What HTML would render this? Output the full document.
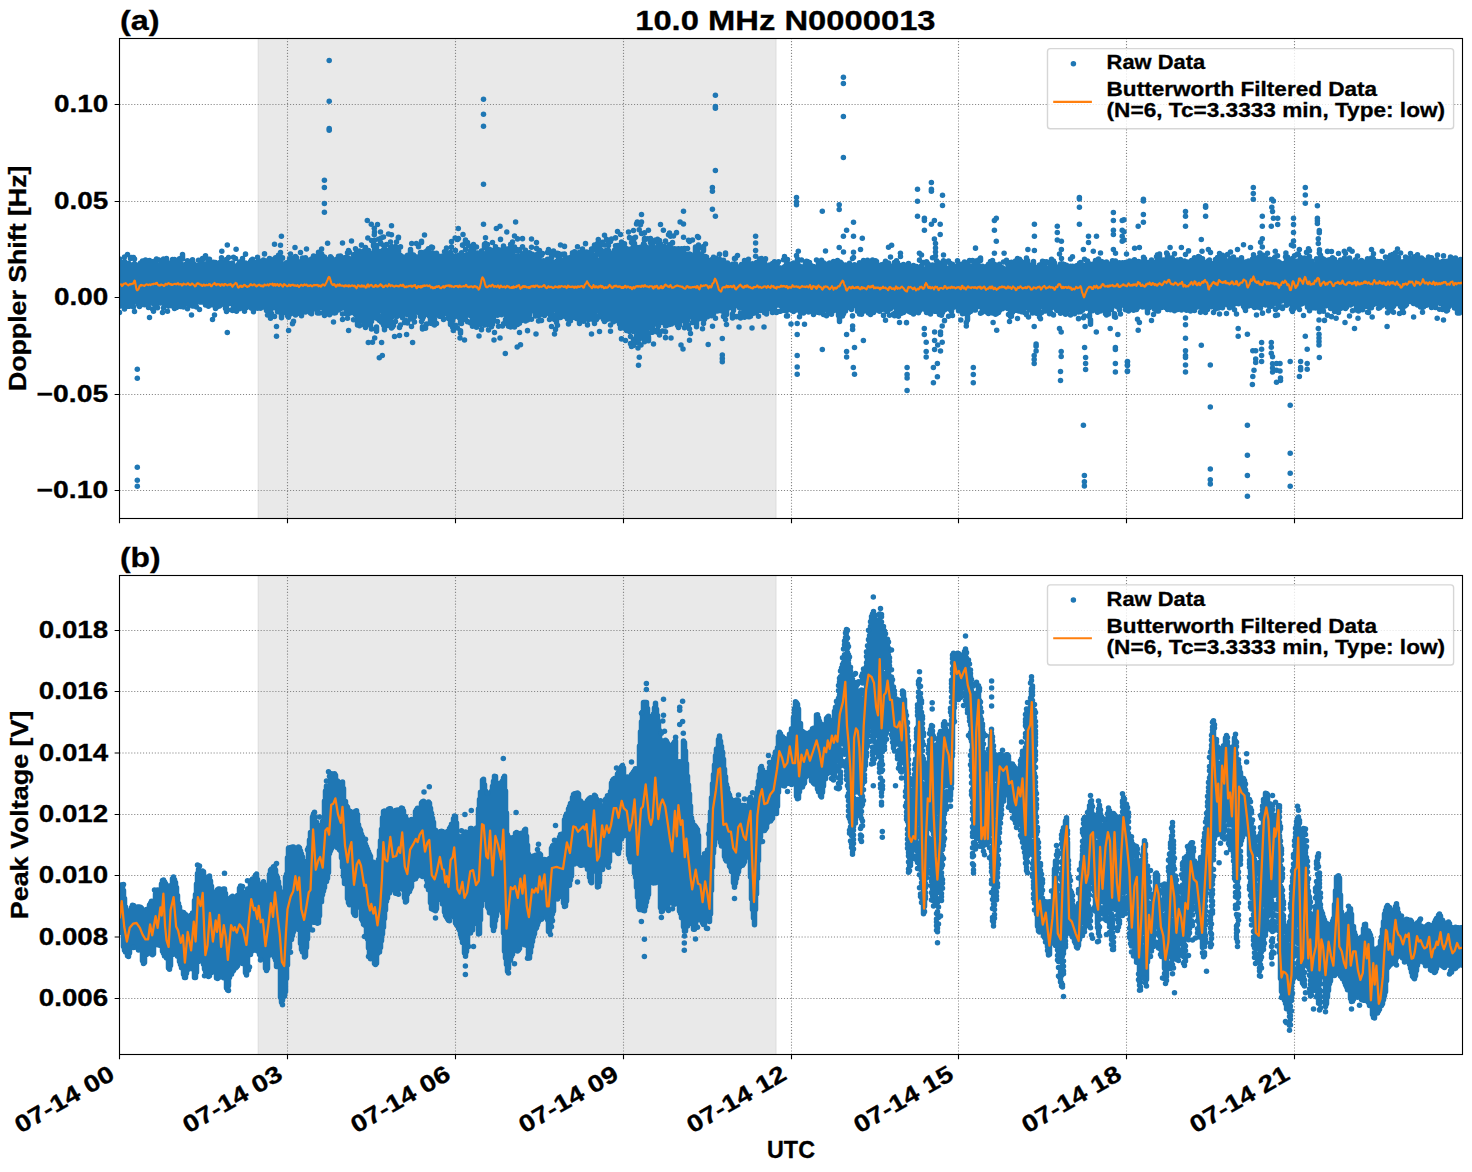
<!DOCTYPE html>
<html><head><meta charset="utf-8"><title>10.0 MHz N0000013</title>
<style>html,body{margin:0;padding:0;background:#fff}body{width:1472px;height:1172px;overflow:hidden}svg{display:block}text{font-family:"Liberation Sans",sans-serif;font-weight:bold;fill:#000;stroke:#000;stroke-width:0.3px}</style>
</head><body>
<svg width="1472" height="1172" viewBox="0 0 1472 1172">
<rect width="1472" height="1172" fill="#fff"/>
<defs><clipPath id="ca"><rect x="119.50" y="38.50" width="1343.00" height="480.00"/></clipPath><clipPath id="cb"><rect x="119.50" y="575.50" width="1343.00" height="479.00"/></clipPath></defs>
<rect x="119.50" y="38.50" width="1343.00" height="480.00" fill="#fff"/>
<rect x="258.30" y="38.50" width="517.60" height="480.00" fill="#e9e9e9"/>
<path d="M258.30 38.50V518.50M775.90 38.50V518.50" stroke="#dfdfdf" stroke-width="1.2" fill="none"/>
<path d="M287.50 518.50V38.50M455.50 518.50V38.50M623.50 518.50V38.50M791.50 518.50V38.50M958.50 518.50V38.50M1126.50 518.50V38.50M1294.50 518.50V38.50M119.50 104.50H1462.50M119.50 201.50H1462.50M119.50 297.50H1462.50M119.50 394.50H1462.50M119.50 490.50H1462.50" stroke="#868686" stroke-width="1.11" stroke-dasharray="1.11 1.83" fill="none"/>
<g clip-path="url(#ca)">
<path d="M119.5 259.0V269.6M119.5 274.7V301.6M119.5 312.5V312.6M120.5 263.9V306.0M121.5 265.6V265.6M121.5 270.7V305.2M122.5 265.2V299.1M122.5 303.7V303.8M123.5 264.3V300.5M124.5 257.0V257.0M124.5 261.5V261.5M124.5 270.3V299.1M124.5 304.1V304.2M124.5 309.1V309.1M125.5 266.1V301.5M126.5 263.9V264.0M126.5 270.3V299.4M126.5 306.3V306.4M127.5 254.5V254.6M127.5 264.4V264.5M127.5 269.0V300.7M128.5 263.2V298.3M128.5 304.8V306.2M129.5 265.0V265.7M129.5 271.3V299.3M129.5 304.2V306.2M130.5 258.4V258.5M130.5 268.0V302.1M131.5 257.6V257.6M131.5 267.8V302.8M132.5 264.7V297.1M133.5 257.6V257.7M133.5 270.2V302.2M133.5 306.9V306.9M134.5 258.9V258.9M134.5 263.8V266.7M134.5 271.6V302.2M134.5 311.5V311.5M135.5 264.8V296.8M136.5 265.1V265.9M136.5 270.7V301.2M137.5 269.7V301.8M138.5 265.6V298.5M138.5 304.2V304.6M139.5 269.5V301.1M139.5 306.5V306.6M140.5 262.9V265.5M140.5 270.8V296.3M140.5 305.2V305.2M141.5 267.3V298.4M142.5 261.0V261.1M142.5 267.5V269.0M142.5 275.2V301.2M143.5 270.1V301.1M144.5 261.8V304.8M145.5 259.9V304.1M146.5 270.2V304.4M147.5 266.7V302.7M148.5 266.1V301.3M148.5 307.5V307.6M149.5 260.5V263.5M149.5 268.8V298.4M149.5 317.5V317.5M150.5 265.7V265.8M150.5 272.0V303.1M151.5 262.1V268.4M151.5 273.5V301.1M152.5 262.3V262.4M152.5 272.2V303.2M152.5 309.0V309.1M153.5 261.4V261.4M153.5 266.6V301.3M153.5 311.1V311.2M154.5 263.1V301.4M155.5 261.4V264.0M155.5 271.6V298.4M155.5 305.5V305.5M156.5 259.1V259.1M156.5 264.6V305.0M157.5 266.3V296.2M157.5 301.6V302.6M157.5 307.8V307.8M158.5 259.8V259.8M158.5 268.2V302.5M159.5 265.3V300.4M160.5 267.0V303.1M161.5 263.0V299.9M162.5 265.0V302.7M162.5 312.5V312.6M163.5 259.0V259.0M163.5 269.0V301.4M163.5 308.1V308.1M164.5 266.7V303.0M165.5 259.3V304.9M166.5 258.6V261.2M166.5 267.0V301.0M167.5 262.6V262.7M167.5 268.3V304.5M167.5 311.2V311.2M168.5 268.9V269.5M168.5 274.3V300.0M168.5 305.8V305.9M169.5 264.3V299.7M170.5 267.0V301.3M171.5 269.5V305.8M172.5 259.6V297.0M172.5 303.2V303.3M173.5 263.7V304.0M174.5 259.4V302.3M174.5 308.6V308.6M175.5 268.6V300.5M176.5 260.8V262.3M176.5 269.1V302.3M176.5 307.4V307.4M177.5 260.6V297.5M178.5 269.5V295.2M178.5 300.5V300.6M178.5 305.6V305.7M179.5 258.7V258.8M179.5 265.7V296.4M179.5 302.2V305.5M180.5 263.4V263.5M180.5 271.4V299.3M180.5 304.1V306.4M181.5 264.5V264.6M181.5 271.0V298.1M182.5 254.6V259.0M182.5 264.8V299.8M182.5 304.9V304.9M183.5 269.3V306.9M184.5 268.3V302.1M185.5 264.4V301.4M186.5 266.4V299.1M187.5 260.7V302.5M187.5 308.7V308.8M188.5 269.5V304.0M189.5 267.7V303.3M190.5 264.6V299.7M190.5 305.1V305.1M191.5 269.2V302.5M191.5 315.0V315.1M192.5 259.7V261.1M192.5 265.9V305.9M193.5 263.4V304.7M194.5 267.4V306.1M195.5 265.4V265.4M195.5 271.9V299.2M195.5 304.5V304.5M196.5 265.4V301.2M196.5 307.0V307.0M197.5 270.3V300.2M198.5 260.2V260.2M198.5 270.1V300.8M199.5 265.6V301.9M199.5 309.5V309.6M200.5 261.8V263.1M200.5 268.0V268.0M200.5 273.8V302.1M201.5 259.9V263.3M201.5 271.1V301.9M202.5 258.6V258.6M202.5 264.1V299.1M203.5 258.8V258.8M203.5 265.8V302.2M204.5 267.5V299.7M205.5 255.7V255.7M205.5 263.9V264.0M205.5 270.1V305.0M206.5 266.4V303.5M207.5 264.9V302.2M208.5 259.2V266.1M208.5 270.6V298.1M208.5 306.3V306.3M209.5 259.2V259.3M209.5 268.1V303.8M210.5 264.6V305.1M211.5 262.8V302.4M212.5 263.3V299.7M212.5 304.7V304.7M212.5 319.5V319.6M213.5 262.2V300.3M214.5 268.4V304.6M214.5 314.9V314.9M215.5 262.6V262.7M215.5 270.3V300.0M215.5 304.8V308.5M216.5 264.2V304.5M217.5 267.5V306.7M218.5 266.2V266.2M218.5 271.3V303.0M219.5 264.3V298.9M219.5 305.9V306.0M220.5 262.1V302.4M221.5 257.8V257.9M221.5 266.4V303.6M222.5 262.5V262.5M222.5 268.1V303.4M223.5 262.7V302.5M224.5 263.1V297.4M224.5 304.9V305.0M225.5 271.8V308.4M226.5 259.4V259.5M226.5 267.6V302.0M226.5 306.9V311.5M227.5 269.2V301.2M228.5 257.5V257.5M228.5 263.0V263.0M228.5 267.6V299.7M229.5 264.5V303.6M230.5 267.6V300.8M231.5 267.6V303.2M231.5 310.0V310.0M232.5 263.0V263.0M232.5 269.1V299.9M232.5 310.4V310.5M233.5 257.2V257.3M233.5 266.6V300.4M233.5 305.0V306.8M234.5 267.7V304.0M235.5 258.4V258.4M235.5 267.9V303.0M235.5 308.4V308.5M236.5 266.1V268.1M236.5 273.9V304.3M236.5 311.3V311.3M237.5 267.5V304.6M238.5 264.3V296.7M238.5 301.6V304.2M239.5 261.9V303.7M239.5 308.8V308.8M240.5 268.5V301.3M241.5 263.0V263.1M241.5 269.1V306.2M242.5 258.6V258.7M242.5 267.4V298.6M243.5 268.2V301.7M244.5 265.7V311.2M245.5 254.1V254.2M245.5 263.1V307.5M246.5 264.1V299.3M246.5 307.4V307.4M247.5 270.5V306.7M248.5 264.0V264.0M248.5 269.2V302.2M249.5 264.8V298.1M250.5 261.6V261.7M250.5 267.6V305.6M251.5 259.9V259.9M251.5 265.7V303.5M251.5 308.2V308.2M252.5 259.3V259.3M252.5 265.5V308.5M253.5 262.1V306.2M253.5 311.7V311.8M254.5 267.2V308.4M255.5 267.1V302.0M256.5 262.9V302.6M257.5 257.2V257.2M257.5 261.8V295.9M257.5 300.7V301.0M257.5 308.3V308.3M258.5 262.5V303.8M259.5 261.1V264.9M259.5 269.5V305.4M260.5 263.6V266.8M260.5 272.3V302.7M260.5 308.2V308.2M261.5 264.3V306.4M262.5 270.2V305.4M263.5 259.9V306.9M264.5 253.8V253.9M264.5 262.7V299.5M265.5 260.7V262.6M265.5 267.5V303.2M266.5 269.7V310.5M267.5 264.6V306.9M267.5 315.1V315.1M268.5 261.7V261.7M268.5 266.4V299.9M268.5 304.9V310.8M269.5 258.5V303.7M270.5 259.1V259.2M270.5 266.6V305.6M270.5 318.2V318.3M271.5 267.2V267.3M271.5 273.2V308.5M271.5 313.4V314.3M272.5 262.0V302.2M273.5 262.5V296.6M273.5 302.1V307.7M274.5 244.3V244.3M274.5 263.6V265.5M274.5 273.1V307.3M274.5 316.4V316.5M275.5 257.7V264.8M275.5 269.9V307.5M276.5 262.5V306.6M277.5 261.7V311.8M278.5 255.3V255.4M278.5 268.0V301.7M278.5 307.3V307.3M279.5 261.7V303.8M279.5 310.6V311.7M280.5 245.3V245.3M280.5 252.6V252.7M280.5 259.1V312.6M281.5 263.3V307.7M281.5 314.9V317.8M282.5 257.8V258.3M282.5 268.1V297.7M282.5 303.7V308.3M282.5 313.1V313.1M283.5 264.0V303.5M284.5 266.2V267.6M284.5 273.0V306.4M285.5 264.6V305.9M286.5 262.8V309.4M287.5 264.2V301.7M287.5 308.5V315.8M288.5 271.5V305.5M288.5 314.6V317.3M289.5 258.7V258.8M289.5 265.1V308.4M290.5 254.0V254.0M290.5 265.4V300.7M290.5 305.7V313.9M291.5 258.4V263.6M291.5 268.1V309.5M292.5 265.8V305.9M292.5 310.7V312.7M292.5 323.6V323.7M293.5 264.8V300.4M293.5 321.3V321.4M294.5 261.9V261.9M294.5 267.3V308.7M295.5 256.4V256.4M295.5 261.5V306.7M295.5 313.0V315.0M296.5 257.7V257.7M296.5 265.9V301.1M296.5 307.9V313.4M297.5 261.6V261.6M297.5 268.4V306.6M298.5 261.7V309.7M299.5 265.9V306.5M299.5 313.1V313.4M300.5 252.4V252.4M300.5 262.2V264.2M300.5 269.8V302.3M300.5 307.5V307.5M301.5 262.1V305.2M301.5 312.8V315.8M302.5 258.0V262.9M302.5 269.0V309.9M303.5 260.4V306.5M303.5 311.7V311.7M304.5 265.4V301.9M304.5 307.8V311.3M305.5 257.7V257.7M305.5 263.2V302.2M305.5 312.0V312.1M306.5 249.0V249.1M306.5 261.9V303.3M307.5 260.7V307.0M308.5 262.5V262.6M308.5 267.7V305.0M309.5 259.9V266.5M309.5 272.0V296.7M309.5 301.6V308.6M310.5 268.0V313.1M311.5 258.9V258.9M311.5 265.5V302.8M311.5 307.6V313.7M312.5 265.4V309.1M313.5 256.1V257.3M313.5 266.3V306.1M314.5 261.5V261.5M314.5 269.7V308.7M315.5 256.6V256.6M315.5 261.8V295.3M315.5 305.2V307.4M316.5 269.1V305.3M317.5 269.7V312.9M318.5 252.2V252.3M318.5 257.6V257.7M318.5 263.9V303.2M319.5 255.3V255.4M319.5 262.0V304.4M319.5 312.9V312.9M320.5 259.6V265.7M320.5 271.3V304.7M321.5 253.7V254.0M321.5 262.1V262.2M321.5 266.9V307.6M322.5 255.7V255.8M322.5 261.0V302.6M322.5 308.0V308.0M323.5 266.4V303.7M323.5 308.3V308.5M323.5 313.1V313.1M324.5 257.1V315.5M325.5 263.7V313.7M326.5 265.1V304.9M327.5 263.3V305.3M327.5 312.8V312.8M328.5 259.4V260.2M328.5 266.8V267.9M328.5 272.8V303.5M329.5 258.8V302.5M329.5 314.7V314.8M330.5 256.7V256.8M330.5 269.4V313.4M331.5 257.9V257.9M331.5 263.8V265.1M331.5 269.7V304.6M331.5 311.6V311.7M332.5 260.3V263.2M332.5 268.6V303.9M332.5 309.5V312.4M333.5 262.3V302.4M333.5 322.0V322.1M334.5 262.2V307.9M334.5 312.9V312.9M335.5 262.1V303.7M335.5 309.2V312.7M336.5 259.2V259.2M336.5 264.8V306.4M337.5 262.0V307.0M338.5 256.2V256.2M338.5 267.1V299.8M338.5 305.1V310.0M339.5 262.0V262.0M339.5 267.8V303.8M340.5 256.0V256.1M340.5 261.3V261.3M340.5 266.1V303.6M340.5 308.5V308.5M341.5 265.0V307.4M342.5 243.0V243.0M342.5 257.8V308.0M342.5 313.9V314.0M342.5 319.4V319.5M343.5 262.1V306.6M344.5 258.5V258.5M344.5 264.6V307.2M345.5 257.5V257.5M345.5 268.3V305.1M346.5 264.0V306.1M346.5 311.8V313.7M347.5 252.8V252.9M347.5 260.5V302.3M347.5 309.8V311.7M347.5 318.2V318.2M348.5 250.5V250.5M348.5 257.9V259.5M348.5 264.8V302.6M348.5 313.6V313.7M349.5 252.3V252.3M349.5 261.6V264.4M349.5 269.4V305.5M350.5 260.4V267.4M350.5 273.1V302.6M350.5 310.1V310.4M351.5 241.0V241.1M351.5 262.4V306.0M351.5 311.2V312.4M352.5 258.8V305.6M352.5 310.2V310.8M353.5 254.8V254.8M353.5 264.9V308.4M353.5 319.7V319.8M354.5 260.7V306.9M354.5 311.6V313.0M355.5 248.7V248.7M355.5 256.5V256.5M355.5 262.6V314.4M356.5 251.0V251.0M356.5 262.4V309.8M357.5 252.1V252.2M357.5 261.6V312.2M357.5 317.9V325.0M358.5 254.3V254.6M358.5 260.8V309.1M358.5 318.1V318.2M359.5 251.1V251.1M359.5 259.1V259.2M359.5 265.0V309.0M359.5 325.6V325.7M360.5 255.8V255.8M360.5 261.5V315.5M361.5 245.1V245.2M361.5 259.7V307.5M361.5 317.4V320.4M362.5 253.1V312.4M363.5 253.2V260.0M363.5 265.0V309.7M363.5 315.2V321.6M364.5 250.3V250.3M364.5 256.4V309.0M364.5 318.7V318.7M364.5 325.2V325.2M365.5 247.6V247.6M365.5 253.5V253.6M365.5 261.2V283.2M365.5 288.1V314.4M365.5 322.1V327.6M366.5 253.9V258.3M366.5 263.0V263.1M366.5 268.2V312.2M367.5 257.1V320.0M368.5 250.4V262.9M368.5 268.3V322.0M369.5 256.8V261.2M369.5 265.8V307.7M369.5 313.8V314.2M370.5 254.8V303.9M370.5 309.7V315.3M370.5 325.4V325.4M371.5 240.5V240.6M371.5 253.4V309.8M371.5 315.0V315.0M371.5 321.6V321.6M371.5 328.8V328.9M372.5 253.4V253.5M372.5 261.1V308.4M372.5 313.0V318.4M372.5 342.3V342.3M373.5 244.5V246.0M373.5 252.7V256.8M373.5 264.2V313.5M374.5 232.1V232.1M374.5 240.3V240.3M374.5 249.3V260.9M374.5 265.9V312.0M375.5 249.8V249.9M375.5 257.6V313.1M376.5 245.6V248.4M376.5 258.3V316.2M376.5 327.1V331.2M377.5 224.5V224.6M377.5 261.1V293.7M377.5 298.5V304.7M377.5 309.2V318.8M378.5 239.2V239.2M378.5 254.3V307.8M378.5 316.1V316.1M379.5 253.6V255.2M379.5 262.4V310.4M379.5 320.3V320.4M380.5 232.1V232.1M380.5 242.5V243.7M380.5 251.5V264.0M380.5 269.4V302.6M380.5 308.7V310.9M380.5 317.8V317.9M381.5 253.3V308.1M381.5 322.3V322.3M382.5 252.6V310.5M383.5 237.1V237.1M383.5 245.3V245.3M383.5 249.9V250.0M383.5 263.7V305.5M383.5 310.3V318.0M383.5 322.7V325.1M384.5 248.8V248.8M384.5 255.7V313.9M384.5 323.0V329.8M385.5 254.6V255.6M385.5 262.7V318.9M386.5 244.6V244.6M386.5 250.9V251.0M386.5 260.6V260.6M386.5 265.1V299.3M386.5 304.0V313.0M386.5 320.2V325.1M387.5 250.6V250.7M387.5 261.1V265.7M387.5 270.7V311.1M387.5 316.6V320.2M388.5 234.1V234.1M388.5 252.5V254.8M388.5 265.2V265.3M388.5 271.1V325.6M389.5 253.3V253.4M389.5 258.5V267.7M389.5 273.0V308.6M389.5 315.8V315.9M390.5 242.1V242.1M390.5 247.0V247.1M390.5 256.9V263.7M390.5 268.7V323.6M391.5 225.8V225.8M391.5 234.8V234.8M391.5 246.4V246.4M391.5 251.0V253.7M391.5 259.0V259.0M391.5 266.0V306.2M391.5 312.0V316.2M391.5 327.9V327.9M392.5 249.8V249.9M392.5 259.7V311.8M392.5 316.4V316.4M392.5 326.9V326.9M393.5 251.7V256.8M393.5 262.5V307.5M393.5 312.7V315.4M393.5 325.5V325.6M394.5 251.6V251.6M394.5 257.2V273.1M394.5 278.6V310.7M394.5 336.4V336.5M395.5 246.5V246.6M395.5 253.7V295.9M395.5 300.6V306.6M395.5 311.3V315.5M395.5 321.5V321.6M396.5 242.1V242.1M396.5 249.9V249.9M396.5 260.1V297.4M396.5 302.6V312.0M396.5 316.7V316.7M397.5 250.2V250.7M397.5 258.0V258.9M397.5 266.6V312.8M398.5 237.3V237.3M398.5 250.5V254.7M398.5 260.2V261.2M398.5 266.9V311.4M399.5 255.9V261.2M399.5 269.0V310.6M399.5 327.3V327.4M399.5 335.6V335.6M400.5 246.8V246.9M400.5 255.5V255.5M400.5 263.9V314.0M400.5 325.0V325.1M401.5 266.4V303.2M401.5 308.5V308.6M401.5 313.5V316.0M402.5 265.1V306.8M402.5 317.7V317.7M403.5 256.9V264.4M403.5 269.3V308.0M404.5 257.4V257.4M404.5 264.3V308.6M404.5 313.7V313.7M404.5 322.4V322.4M405.5 259.8V259.8M405.5 267.8V313.9M405.5 320.2V320.3M406.5 257.1V257.2M406.5 263.5V313.2M407.5 255.2V255.2M407.5 260.2V314.7M407.5 322.9V322.9M408.5 256.1V257.5M408.5 263.3V312.6M409.5 254.4V254.5M409.5 260.6V266.5M409.5 271.7V312.3M410.5 249.6V305.8M410.5 310.3V314.2M410.5 319.1V319.1M411.5 257.7V257.8M411.5 262.6V308.2M411.5 316.0V316.0M411.5 326.5V326.6M412.5 258.8V306.0M412.5 312.8V312.8M413.5 254.9V254.9M413.5 264.7V318.0M414.5 256.3V301.5M414.5 311.4V311.7M414.5 316.7V316.7M414.5 321.9V322.0M415.5 257.8V310.6M416.5 257.2V257.8M416.5 266.2V267.2M416.5 272.5V311.9M417.5 257.0V257.1M417.5 262.1V309.3M418.5 246.6V246.7M418.5 261.5V262.2M418.5 267.9V307.0M419.5 256.8V257.1M419.5 261.6V308.5M419.5 313.2V313.3M420.5 252.6V252.7M420.5 259.1V310.7M420.5 315.5V316.5M421.5 241.3V242.5M421.5 252.6V252.7M421.5 261.7V304.1M421.5 309.3V315.3M421.5 321.5V321.6M422.5 253.8V312.6M422.5 318.9V319.0M422.5 326.7V329.0M423.5 256.6V308.4M423.5 313.8V316.8M424.5 235.1V235.1M424.5 262.4V310.0M425.5 251.8V307.0M425.5 311.8V313.1M425.5 326.4V326.4M426.5 259.1V306.6M426.5 314.2V314.2M426.5 324.1V324.2M427.5 250.2V303.4M427.5 309.2V313.1M428.5 248.7V313.3M429.5 253.3V253.4M429.5 262.7V306.7M429.5 316.2V316.2M430.5 257.7V262.1M430.5 268.9V307.4M430.5 316.7V323.2M431.5 247.1V247.1M431.5 261.2V316.9M432.5 247.5V247.6M432.5 252.8V252.8M432.5 263.4V307.7M432.5 313.1V315.1M433.5 256.6V256.7M433.5 264.7V266.5M433.5 271.6V309.7M433.5 324.3V324.3M434.5 254.4V257.7M434.5 262.2V262.4M434.5 268.3V307.5M434.5 312.5V313.1M434.5 319.3V325.0M435.5 258.4V263.8M435.5 268.3V311.5M436.5 253.3V253.8M436.5 259.2V259.3M436.5 265.5V268.4M436.5 275.1V302.3M436.5 307.8V314.7M436.5 323.6V323.6M437.5 255.4V255.5M437.5 261.2V261.9M437.5 268.2V313.9M438.5 260.9V313.0M439.5 257.0V258.1M439.5 263.9V310.2M439.5 316.3V316.3M440.5 258.2V312.4M441.5 256.3V257.2M441.5 263.2V307.7M441.5 314.2V316.2M442.5 257.0V257.0M442.5 263.6V309.7M443.5 256.6V264.0M443.5 268.8V307.6M443.5 318.8V319.4M444.5 251.8V251.8M444.5 257.3V313.6M445.5 251.7V256.9M445.5 263.8V268.2M445.5 274.0V313.4M446.5 248.1V248.1M446.5 256.2V256.2M446.5 263.6V306.4M447.5 262.7V306.9M447.5 312.2V312.2M448.5 253.8V253.9M448.5 258.9V259.7M448.5 265.8V297.0M448.5 303.6V309.2M448.5 316.9V318.6M449.5 258.5V305.7M449.5 315.3V316.2M450.5 252.2V253.7M450.5 258.3V262.4M450.5 267.2V314.5M450.5 320.2V324.6M451.5 241.6V241.7M451.5 247.1V247.2M451.5 255.1V255.2M451.5 260.1V273.9M451.5 279.0V304.3M451.5 309.2V312.9M452.5 264.4V310.0M452.5 320.4V320.4M452.5 326.9V326.9M453.5 262.5V312.5M453.5 317.8V317.8M453.5 325.0V325.0M454.5 259.0V307.4M454.5 314.1V316.4M454.5 325.8V325.9M455.5 250.6V250.6M455.5 256.0V310.4M455.5 325.2V325.3M456.5 256.8V260.2M456.5 267.0V315.8M457.5 239.4V239.4M457.5 258.3V261.2M457.5 266.5V308.0M457.5 314.7V314.9M457.5 328.0V328.1M458.5 238.5V238.6M458.5 255.3V255.3M458.5 260.9V317.0M459.5 255.0V255.0M459.5 259.9V261.1M459.5 265.6V301.2M459.5 307.1V311.1M459.5 318.1V318.1M460.5 256.8V262.6M460.5 267.7V300.3M460.5 308.9V314.7M460.5 319.3V323.2M460.5 330.7V333.2M461.5 252.8V252.9M461.5 260.3V306.3M461.5 310.9V312.6M461.5 319.8V323.6M462.5 245.1V245.2M462.5 257.8V309.7M463.5 255.4V259.6M463.5 264.7V297.2M463.5 301.9V316.1M464.5 258.0V302.2M464.5 307.8V311.1M464.5 317.5V318.4M465.5 240.0V243.4M465.5 249.6V249.7M465.5 261.7V308.6M465.5 313.3V314.5M465.5 319.3V319.4M466.5 260.9V308.2M466.5 313.6V313.6M467.5 242.5V242.6M467.5 254.4V299.3M467.5 304.1V306.2M467.5 311.6V314.7M467.5 321.6V321.7M468.5 245.6V245.7M468.5 260.8V303.8M468.5 310.9V311.0M469.5 256.5V263.4M469.5 269.0V312.6M470.5 250.9V251.0M470.5 256.2V315.8M470.5 322.8V322.9M471.5 248.5V248.5M471.5 267.1V304.8M471.5 310.0V313.0M471.5 322.0V322.1M472.5 260.0V308.0M472.5 315.6V320.0M472.5 326.2V326.3M473.5 244.5V244.6M473.5 250.4V255.2M473.5 263.7V304.8M473.5 311.1V314.3M474.5 257.0V262.5M474.5 267.1V274.5M474.5 279.5V313.8M474.5 321.8V321.8M475.5 260.1V312.7M475.5 318.0V321.4M476.5 247.0V247.1M476.5 256.1V258.3M476.5 263.0V311.3M476.5 318.3V318.4M476.5 324.8V327.2M477.5 253.0V253.1M477.5 258.5V258.6M477.5 264.4V306.2M477.5 311.7V316.3M478.5 261.9V266.0M478.5 270.9V313.0M478.5 320.7V320.7M479.5 259.2V315.2M480.5 262.2V303.6M480.5 308.5V310.5M480.5 316.6V316.7M480.5 322.1V324.5M481.5 251.0V304.4M481.5 309.7V309.8M481.5 322.0V322.0M481.5 329.6V329.7M482.5 253.1V256.8M482.5 261.8V312.0M482.5 319.4V319.5M483.5 253.9V312.9M484.5 244.3V247.8M484.5 261.4V317.4M484.5 324.8V324.9M485.5 237.8V237.8M485.5 243.5V243.5M485.5 254.8V259.8M485.5 264.4V304.9M485.5 318.5V322.4M486.5 257.1V259.2M486.5 264.2V315.3M487.5 244.6V244.6M487.5 251.8V252.7M487.5 260.3V301.6M487.5 306.8V314.3M487.5 324.4V324.4M488.5 261.6V307.3M488.5 316.4V317.4M488.5 329.8V329.9M489.5 249.3V254.0M489.5 260.6V301.9M489.5 306.4V311.8M490.5 252.2V252.2M490.5 257.4V263.3M490.5 268.3V296.6M490.5 303.4V304.2M490.5 309.0V313.0M490.5 319.0V323.7M491.5 251.6V255.6M491.5 261.9V312.4M491.5 326.7V326.7M492.5 242.4V242.5M492.5 258.8V308.2M492.5 313.8V315.6M492.5 324.2V324.2M493.5 250.2V251.3M493.5 264.0V264.0M493.5 269.4V308.6M493.5 313.2V321.0M494.5 252.9V306.7M494.5 312.3V313.0M494.5 332.6V332.6M495.5 246.7V246.7M495.5 262.2V311.6M496.5 257.0V258.1M496.5 271.1V312.3M497.5 258.3V269.3M497.5 274.6V307.1M497.5 312.2V315.3M497.5 321.5V321.6M498.5 249.8V254.1M498.5 268.2V313.3M498.5 326.3V326.3M499.5 252.7V256.5M499.5 263.0V312.5M500.5 239.3V239.4M500.5 252.7V310.9M501.5 256.1V256.1M501.5 267.5V314.8M502.5 249.5V266.6M502.5 271.5V305.6M502.5 311.2V313.8M502.5 326.0V326.0M503.5 246.1V246.2M503.5 256.1V263.4M503.5 269.4V311.6M503.5 323.8V323.9M504.5 252.8V260.0M504.5 265.2V311.6M505.5 255.4V257.0M505.5 262.0V305.6M505.5 312.2V313.3M505.5 319.4V322.5M506.5 255.1V262.2M506.5 267.8V309.6M506.5 314.1V316.0M507.5 249.1V249.1M507.5 260.3V314.4M507.5 320.6V323.0M508.5 262.3V313.6M508.5 320.5V326.2M509.5 250.3V254.9M509.5 261.2V304.8M509.5 309.9V320.0M510.5 244.5V244.5M510.5 254.5V299.9M510.5 304.7V306.0M510.5 321.4V326.9M511.5 246.3V246.3M511.5 251.2V260.8M511.5 267.0V318.9M512.5 242.1V242.1M512.5 248.4V253.6M512.5 258.2V313.4M512.5 322.2V322.3M513.5 258.4V310.8M513.5 317.4V317.5M513.5 324.3V324.4M514.5 236.0V236.1M514.5 247.1V250.5M514.5 256.2V256.2M514.5 260.7V313.8M514.5 320.4V320.5M514.5 326.9V326.9M515.5 255.7V255.8M515.5 260.9V314.6M515.5 319.8V319.8M516.5 249.5V249.5M516.5 257.2V308.9M516.5 315.9V320.2M517.5 238.8V238.9M517.5 250.4V250.4M517.5 255.9V255.9M517.5 260.6V324.6M518.5 257.2V321.0M519.5 249.7V250.9M519.5 257.8V302.4M519.5 310.2V310.5M519.5 315.1V317.3M519.5 323.3V323.3M519.5 332.6V332.6M520.5 259.0V259.1M520.5 263.6V311.0M520.5 320.0V320.1M520.5 344.8V344.8M521.5 258.6V301.9M521.5 306.5V314.0M521.5 319.2V320.6M522.5 238.6V238.7M522.5 246.8V246.9M522.5 254.3V313.4M522.5 319.2V319.2M523.5 263.7V265.8M523.5 271.5V304.2M523.5 309.1V316.7M524.5 252.9V252.9M524.5 264.5V293.6M524.5 299.3V309.8M524.5 314.4V315.2M525.5 250.2V250.8M525.5 257.4V258.4M525.5 265.5V308.5M525.5 321.1V321.1M526.5 256.5V259.6M526.5 265.6V308.5M526.5 315.8V315.8M527.5 255.6V255.7M527.5 262.9V320.0M527.5 330.6V330.7M528.5 257.7V313.7M529.5 252.7V252.7M529.5 258.3V303.5M529.5 308.6V315.0M530.5 260.1V261.2M530.5 266.1V311.5M531.5 239.1V239.1M531.5 247.2V247.3M531.5 257.6V306.4M531.5 319.2V319.2M532.5 254.3V256.4M532.5 264.4V301.2M532.5 306.8V307.1M533.5 263.8V308.8M534.5 256.3V308.8M535.5 259.1V265.5M535.5 270.1V307.3M535.5 311.8V316.0M536.5 242.5V242.5M536.5 248.3V248.4M536.5 261.1V307.6M537.5 254.0V256.7M537.5 264.1V315.6M538.5 255.5V255.5M538.5 260.7V265.1M538.5 270.7V316.0M538.5 321.0V321.0M539.5 250.4V250.5M539.5 260.0V309.2M539.5 315.3V315.3M540.5 261.3V305.6M541.5 255.3V255.3M541.5 260.8V260.9M541.5 265.6V308.2M541.5 314.0V314.0M541.5 320.4V320.4M542.5 253.6V253.7M542.5 261.1V269.1M542.5 273.7V313.8M543.5 260.8V260.9M543.5 268.7V306.7M543.5 311.9V312.0M544.5 262.7V263.1M544.5 268.7V310.8M544.5 315.3V315.4M545.5 261.7V314.1M546.5 261.3V310.2M547.5 252.3V252.4M547.5 259.3V305.6M548.5 249.5V249.5M548.5 261.8V303.1M548.5 309.8V311.6M549.5 260.4V263.5M549.5 268.5V306.1M549.5 310.7V310.8M549.5 319.4V319.5M550.5 260.5V315.6M551.5 252.8V258.0M551.5 264.3V316.3M551.5 326.4V326.4M552.5 262.6V308.3M553.5 250.9V250.9M553.5 263.9V265.2M553.5 270.2V309.6M554.5 252.5V252.5M554.5 266.9V307.6M554.5 319.4V319.5M554.5 334.0V334.1M555.5 254.9V254.9M555.5 266.9V301.0M555.5 306.4V308.7M555.5 315.6V317.3M555.5 329.3V329.4M556.5 261.4V269.5M556.5 274.9V305.7M556.5 310.7V310.8M556.5 321.6V322.4M557.5 253.2V253.2M557.5 261.5V261.6M557.5 266.4V316.3M557.5 325.3V325.3M558.5 253.5V263.9M558.5 268.5V312.7M558.5 317.7V317.8M559.5 258.2V264.5M559.5 271.0V310.3M560.5 245.0V245.1M560.5 262.9V311.7M560.5 317.4V317.5M561.5 265.5V311.6M562.5 254.2V254.3M562.5 260.2V260.2M562.5 266.3V303.1M562.5 308.6V308.7M562.5 313.4V313.4M563.5 262.1V305.5M563.5 310.0V315.9M564.5 246.3V246.4M564.5 254.1V254.3M564.5 260.1V310.2M565.5 257.3V258.4M565.5 263.0V309.6M565.5 316.8V316.8M566.5 261.6V301.6M566.5 307.3V314.7M567.5 262.3V307.4M567.5 319.0V319.1M568.5 266.3V269.6M568.5 274.6V315.9M568.5 323.9V324.0M569.5 257.7V257.8M569.5 265.2V308.8M569.5 316.2V316.2M570.5 260.5V260.5M570.5 270.2V309.2M570.5 314.7V314.8M570.5 320.7V320.8M571.5 260.7V307.8M572.5 252.7V256.8M572.5 263.0V270.8M572.5 275.8V305.7M572.5 311.1V311.1M573.5 256.9V257.0M573.5 261.6V261.7M573.5 267.3V310.1M573.5 317.2V317.3M574.5 251.8V251.8M574.5 259.7V303.2M574.5 308.3V308.3M574.5 313.3V314.4M575.5 254.1V254.2M575.5 260.9V263.2M575.5 269.2V316.1M576.5 263.2V318.5M577.5 246.8V246.8M577.5 257.1V314.1M578.5 261.5V265.0M578.5 270.0V306.6M578.5 314.1V314.2M579.5 252.2V253.9M579.5 262.0V311.0M579.5 319.2V323.5M580.5 258.5V310.8M580.5 316.9V317.0M581.5 256.2V256.2M581.5 265.1V319.1M582.5 248.9V248.9M582.5 260.8V299.2M582.5 304.1V311.1M583.5 253.5V257.4M583.5 263.1V321.3M584.5 255.5V255.6M584.5 264.2V308.1M585.5 243.6V243.7M585.5 258.1V258.2M585.5 263.7V314.6M586.5 252.0V258.3M586.5 265.4V309.0M586.5 316.8V316.8M587.5 262.6V309.3M587.5 314.1V317.8M587.5 324.7V324.9M588.5 258.9V315.1M588.5 319.6V319.7M589.5 254.9V254.9M589.5 262.2V310.2M589.5 317.5V317.5M590.5 261.6V261.7M590.5 266.2V311.5M591.5 248.9V252.6M591.5 265.7V267.6M591.5 272.2V303.5M591.5 308.3V315.7M592.5 260.1V319.3M593.5 255.7V260.3M593.5 265.3V273.5M593.5 278.4V310.0M593.5 316.4V316.5M594.5 245.0V247.7M594.5 257.0V257.1M594.5 265.2V316.7M594.5 321.4V323.6M595.5 246.0V249.9M595.5 257.6V303.9M595.5 310.1V310.1M595.5 317.2V317.3M596.5 254.4V254.6M596.5 259.6V309.3M596.5 316.1V319.4M597.5 243.5V243.6M597.5 260.7V287.7M597.5 292.5V310.5M598.5 260.6V260.7M598.5 266.9V309.8M598.5 317.3V317.3M599.5 245.4V254.1M599.5 263.0V308.0M599.5 331.4V331.4M600.5 249.5V254.9M600.5 261.0V315.1M601.5 251.1V310.8M601.5 316.4V316.4M602.5 242.3V242.3M602.5 255.8V260.5M602.5 266.2V315.3M603.5 251.2V252.7M603.5 257.4V265.2M603.5 269.8V308.1M603.5 313.9V319.4M604.5 235.2V235.2M604.5 245.0V245.0M604.5 252.0V257.2M604.5 263.4V302.5M604.5 308.1V312.9M604.5 321.4V321.5M605.5 263.0V298.7M605.5 303.6V308.4M605.5 313.0V314.5M606.5 239.3V239.4M606.5 250.3V250.3M606.5 255.2V255.3M606.5 262.7V319.8M607.5 244.1V244.2M607.5 253.4V257.5M607.5 262.4V312.0M607.5 318.9V319.0M608.5 245.5V245.5M608.5 250.5V273.6M608.5 279.0V313.0M609.5 254.2V262.8M609.5 267.6V309.9M610.5 241.6V241.6M610.5 258.3V258.3M610.5 263.0V304.3M610.5 310.6V318.9M610.5 325.0V325.1M610.5 331.3V331.3M611.5 238.9V238.9M611.5 253.6V253.6M611.5 260.1V311.6M612.5 253.2V302.6M612.5 307.7V318.0M613.5 259.2V315.5M613.5 321.7V321.8M614.5 250.3V250.4M614.5 257.5V297.6M614.5 302.6V317.5M615.5 237.8V237.9M615.5 245.7V245.7M615.5 255.9V263.6M615.5 268.3V312.7M615.5 317.4V317.4M616.5 248.2V252.3M616.5 269.2V313.7M616.5 319.2V319.3M617.5 231.4V231.5M617.5 245.4V253.1M617.5 258.9V314.8M617.5 320.7V320.7M618.5 253.6V255.7M618.5 261.4V261.5M618.5 267.1V314.8M619.5 247.6V247.7M619.5 253.2V310.7M619.5 319.4V319.4M619.5 324.0V324.1M620.5 251.7V252.2M620.5 258.1V317.4M620.5 324.0V328.2M621.5 242.1V245.2M621.5 253.2V253.8M621.5 258.5V296.7M621.5 303.5V319.2M621.5 338.8V338.9M622.5 244.6V244.7M622.5 249.6V252.2M622.5 256.9V307.4M622.5 313.2V313.2M622.5 317.7V326.8M623.5 252.1V260.8M623.5 265.5V307.8M623.5 314.1V314.2M624.5 243.8V243.9M624.5 255.0V310.1M624.5 315.5V315.7M624.5 327.7V328.3M625.5 247.9V252.6M625.5 259.3V271.3M625.5 276.0V305.3M625.5 309.9V310.0M625.5 316.9V319.0M625.5 340.4V340.4M626.5 249.5V322.9M626.5 330.4V330.5M627.5 258.0V314.8M627.5 320.2V328.5M628.5 232.0V232.1M628.5 249.3V253.1M628.5 260.8V260.8M628.5 266.3V311.8M628.5 323.8V323.9M629.5 237.6V237.7M629.5 257.1V309.3M629.5 317.6V322.5M629.5 330.5V331.6M630.5 255.8V295.7M630.5 300.8V300.8M630.5 306.5V306.5M630.5 311.7V315.9M630.5 329.5V329.6M630.5 336.6V336.6M630.5 343.6V343.7M631.5 242.5V242.6M631.5 248.7V248.9M631.5 254.9V255.0M631.5 264.1V315.0M631.5 320.6V320.6M631.5 346.4V346.4M632.5 243.2V243.2M632.5 253.2V260.3M632.5 267.8V326.6M633.5 230.6V230.6M633.5 240.0V245.0M633.5 253.6V256.6M633.5 262.0V320.8M633.5 331.1V331.5M633.5 339.4V339.4M633.5 345.5V345.5M634.5 237.8V237.9M634.5 243.4V243.5M634.5 251.3V316.4M634.5 321.7V326.6M634.5 342.9V343.0M635.5 237.2V237.3M635.5 248.9V310.4M635.5 317.9V319.2M635.5 324.4V324.5M635.5 329.1V329.2M636.5 223.9V224.0M636.5 256.5V307.6M636.5 312.7V317.3M636.5 336.1V338.6M637.5 247.4V257.1M637.5 262.6V320.3M637.5 329.3V329.3M637.5 340.1V340.2M638.5 248.7V250.0M638.5 255.2V255.3M638.5 261.0V305.0M638.5 311.0V314.0M638.5 319.5V319.5M638.5 327.6V333.3M638.5 343.0V343.0M639.5 254.6V265.5M639.5 273.3V307.7M639.5 312.5V318.2M639.5 323.7V324.8M639.5 331.1V331.1M640.5 224.7V224.7M640.5 247.3V249.8M640.5 258.0V312.5M640.5 318.4V322.2M640.5 338.3V338.3M641.5 233.6V233.6M641.5 247.8V251.2M641.5 263.6V319.7M641.5 325.7V328.4M641.5 334.4V334.5M642.5 247.5V251.0M642.5 258.7V318.7M643.5 243.9V244.8M643.5 253.0V256.2M643.5 263.0V271.2M643.5 275.9V308.7M643.5 316.8V322.5M643.5 328.8V329.7M643.5 337.8V337.8M644.5 232.8V232.9M644.5 238.4V240.3M644.5 245.0V247.4M644.5 254.0V316.5M644.5 334.0V341.8M645.5 249.9V252.9M645.5 260.7V317.9M645.5 324.0V324.0M645.5 328.7V330.1M646.5 247.2V252.0M646.5 257.5V264.9M646.5 272.4V317.4M646.5 322.6V322.6M646.5 327.1V329.5M647.5 238.8V238.8M647.5 248.8V258.7M647.5 266.5V310.6M647.5 315.7V322.9M648.5 250.6V257.7M648.5 265.3V311.8M648.5 317.1V317.1M648.5 324.0V327.6M648.5 337.3V340.8M649.5 247.8V251.3M649.5 260.3V315.2M649.5 324.0V324.0M649.5 333.0V333.0M650.5 238.5V242.7M650.5 255.4V312.6M650.5 318.3V323.7M651.5 257.1V312.9M651.5 317.5V317.5M651.5 328.3V328.3M652.5 243.4V243.5M652.5 256.1V258.8M652.5 264.2V300.0M652.5 306.3V317.4M652.5 322.7V332.2M653.5 247.0V251.0M653.5 257.1V311.2M653.5 315.8V315.9M653.5 321.2V321.2M653.5 343.9V344.0M654.5 241.2V241.3M654.5 257.4V309.5M654.5 316.5V318.8M655.5 239.9V240.0M655.5 252.7V270.5M655.5 276.0V319.0M655.5 330.6V330.7M656.5 241.9V242.0M656.5 250.0V256.2M656.5 263.1V324.3M657.5 239.2V239.3M657.5 261.9V296.2M657.5 303.0V306.0M657.5 311.1V318.6M657.5 330.0V332.2M658.5 246.0V246.1M658.5 258.3V306.5M658.5 311.3V311.4M658.5 317.0V317.1M658.5 324.2V326.0M659.5 240.5V240.5M659.5 251.6V253.9M659.5 261.1V267.4M659.5 273.9V305.7M659.5 310.3V310.6M659.5 316.2V317.0M659.5 322.4V322.4M659.5 335.0V335.1M660.5 224.5V224.6M660.5 244.0V244.8M660.5 250.7V258.4M660.5 264.1V311.0M660.5 315.7V318.4M661.5 247.1V262.1M661.5 267.9V312.4M661.5 319.8V322.3M662.5 256.6V266.6M662.5 272.0V308.2M662.5 322.4V322.5M662.5 331.1V331.1M663.5 249.0V311.1M664.5 246.5V250.1M664.5 263.7V313.9M665.5 241.0V241.6M665.5 252.6V252.7M665.5 258.3V265.6M665.5 271.3V306.6M665.5 312.2V312.2M665.5 317.4V317.5M665.5 324.5V326.1M665.5 331.8V331.8M665.5 337.6V337.7M666.5 250.4V254.8M666.5 259.7V310.8M666.5 318.8V318.9M666.5 323.6V325.4M667.5 247.7V248.2M667.5 256.6V270.0M667.5 275.9V316.6M667.5 321.7V321.7M668.5 234.7V234.7M668.5 253.4V254.4M668.5 259.9V316.6M669.5 233.1V233.1M669.5 244.8V245.3M669.5 252.0V309.2M669.5 322.5V324.4M670.5 236.2V236.2M670.5 249.0V249.1M670.5 259.6V309.1M670.5 316.9V322.4M671.5 248.3V249.1M671.5 255.3V255.8M671.5 263.2V313.1M671.5 318.7V324.0M672.5 242.6V243.0M672.5 252.0V287.3M672.5 293.0V315.6M673.5 236.1V236.1M673.5 258.0V260.8M673.5 266.1V279.9M673.5 286.9V308.9M673.5 313.4V313.4M673.5 320.3V322.7M674.5 248.8V248.9M674.5 258.5V306.1M674.5 310.7V315.3M675.5 251.2V253.3M675.5 257.8V257.8M675.5 263.6V309.0M675.5 316.8V319.0M676.5 232.6V232.7M676.5 248.9V248.9M676.5 255.1V258.7M676.5 265.7V321.7M677.5 253.8V315.4M677.5 320.7V325.4M678.5 248.8V248.8M678.5 255.5V255.5M678.5 263.3V308.7M678.5 315.4V318.4M678.5 327.6V327.6M679.5 250.4V254.7M679.5 259.7V310.7M679.5 322.6V324.9M680.5 250.2V300.3M680.5 305.8V309.9M681.5 248.7V248.8M681.5 256.1V258.4M681.5 266.0V318.5M682.5 250.3V250.4M682.5 259.9V311.6M682.5 320.1V320.2M683.5 237.2V237.3M683.5 249.0V317.0M684.5 248.5V248.6M684.5 257.4V310.3M684.5 317.1V317.3M684.5 327.6V327.7M685.5 254.1V313.6M685.5 318.5V318.6M685.5 323.5V323.7M686.5 255.3V255.3M686.5 260.2V262.4M686.5 267.7V316.3M686.5 323.3V323.3M687.5 248.5V248.6M687.5 258.1V314.8M687.5 319.9V320.0M688.5 240.3V240.3M688.5 254.3V301.1M688.5 305.9V315.5M688.5 325.0V325.1M689.5 241.4V241.5M689.5 253.9V253.9M689.5 258.7V271.4M689.5 278.2V310.8M689.5 328.9V329.0M689.5 340.2V340.2M690.5 254.4V254.4M690.5 262.4V269.0M690.5 273.8V316.0M690.5 333.5V333.6M691.5 257.5V310.4M691.5 316.9V317.0M692.5 239.9V239.9M692.5 255.6V309.4M692.5 314.9V315.0M692.5 322.6V322.6M693.5 257.7V309.4M693.5 313.9V319.2M694.5 260.5V311.5M694.5 319.5V319.9M695.5 246.9V252.6M695.5 257.5V321.4M696.5 262.4V304.2M696.5 309.8V314.2M696.5 322.4V326.7M697.5 236.4V236.4M697.5 249.6V252.8M697.5 258.6V314.3M698.5 237.6V237.6M698.5 245.0V245.0M698.5 259.5V307.3M698.5 318.9V319.0M699.5 254.0V258.0M699.5 263.8V310.0M700.5 247.5V247.6M700.5 256.6V313.8M701.5 258.3V262.2M701.5 269.7V309.2M701.5 315.0V318.4M702.5 255.8V270.3M702.5 275.2V312.8M702.5 328.7V328.7M703.5 246.5V250.8M703.5 257.9V271.9M703.5 276.7V315.6M703.5 323.3V323.4M704.5 259.3V311.4M704.5 316.1V319.3M705.5 244.0V244.0M705.5 256.4V256.5M705.5 262.8V269.1M705.5 274.5V306.3M705.5 312.2V313.3M706.5 257.1V257.1M706.5 261.7V310.9M707.5 259.7V308.2M707.5 313.5V316.8M708.5 261.4V302.5M708.5 314.6V315.0M709.5 263.2V314.5M710.5 261.2V314.1M711.5 263.0V263.1M711.5 269.4V315.8M712.5 259.1V301.9M712.5 311.5V313.5M712.5 326.2V326.3M713.5 257.3V259.8M713.5 264.8V314.0M714.5 262.0V311.4M715.5 258.0V258.1M715.5 266.3V304.8M715.5 311.2V311.2M715.5 318.3V318.3M716.5 264.3V269.5M716.5 274.6V310.9M717.5 265.2V265.2M717.5 272.0V304.9M717.5 310.7V310.9M718.5 262.4V263.8M718.5 271.1V306.6M719.5 254.2V254.2M719.5 259.2V259.3M719.5 264.2V302.9M719.5 309.6V309.6M720.5 263.4V310.5M721.5 271.2V307.3M722.5 261.6V263.3M722.5 267.9V301.5M722.5 306.6V311.3M723.5 260.3V260.4M723.5 266.6V310.5M723.5 316.3V316.4M724.5 268.0V302.6M725.5 253.0V254.6M725.5 265.8V303.4M725.5 319.4V319.4M726.5 267.2V314.5M727.5 263.0V263.0M727.5 269.1V305.5M728.5 269.3V307.9M729.5 266.6V304.0M730.5 268.9V306.8M731.5 268.5V306.2M732.5 264.3V307.2M732.5 314.1V317.9M733.5 266.5V310.4M734.5 258.6V258.7M734.5 268.6V304.4M735.5 258.1V258.2M735.5 264.1V302.8M736.5 269.1V302.9M736.5 316.6V316.7M737.5 255.5V255.5M737.5 268.7V305.8M738.5 267.3V305.7M739.5 268.5V307.7M740.5 266.3V305.1M740.5 313.1V313.2M740.5 318.0V318.1M741.5 264.4V297.2M741.5 302.1V306.6M742.5 266.2V304.1M742.5 312.9V312.9M743.5 266.5V303.4M743.5 308.6V308.6M744.5 260.5V260.6M744.5 265.0V305.3M744.5 317.2V317.2M745.5 263.0V265.5M745.5 272.0V310.8M746.5 262.3V306.1M746.5 312.1V312.2M747.5 264.5V301.6M747.5 311.6V311.7M748.5 259.2V259.2M748.5 270.3V311.2M748.5 316.6V316.7M749.5 266.9V307.2M749.5 314.2V316.7M750.5 263.8V264.5M750.5 271.1V303.2M750.5 316.2V316.3M751.5 267.5V302.8M751.5 308.6V308.6M752.5 263.8V304.1M752.5 310.0V310.1M753.5 269.7V303.4M753.5 312.3V313.2M754.5 267.0V306.6M754.5 311.8V313.1M755.5 269.5V304.7M755.5 311.3V311.4M756.5 262.4V303.4M756.5 308.6V312.0M757.5 262.6V301.4M758.5 271.9V303.4M758.5 308.9V308.9M758.5 316.2V316.2M759.5 259.1V259.1M759.5 267.3V267.3M759.5 272.9V304.9M760.5 259.6V262.1M760.5 266.6V310.5M761.5 258.6V258.6M761.5 263.6V308.2M762.5 259.4V259.4M762.5 268.5V305.6M763.5 268.3V309.0M764.5 261.7V262.9M764.5 271.0V305.6M764.5 312.7V312.7M765.5 258.8V258.9M765.5 269.6V304.6M766.5 271.0V301.8M766.5 310.5V314.1M767.5 266.2V266.8M767.5 272.4V304.0M767.5 308.7V308.8M768.5 267.3V306.1M769.5 265.0V304.8M770.5 267.8V300.5M770.5 305.1V308.8M771.5 267.4V308.3M772.5 263.4V263.9M772.5 270.4V307.5M772.5 312.5V312.5M773.5 265.2V265.2M773.5 271.6V306.3M774.5 261.8V265.6M774.5 273.7V308.5M775.5 266.5V305.5M776.5 268.6V297.8M776.5 304.8V304.8M776.5 312.6V312.6M777.5 263.1V263.2M777.5 268.1V268.8M777.5 273.6V304.9M778.5 261.7V261.7M778.5 267.4V301.4M778.5 311.6V311.6M779.5 267.7V305.0M780.5 271.5V305.4M780.5 311.3V311.3M781.5 270.0V301.1M781.5 306.0V306.2M782.5 271.6V310.0M783.5 259.8V259.8M783.5 267.4V304.1M784.5 256.4V256.4M784.5 266.7V310.5M785.5 265.9V304.9M786.5 259.2V259.3M786.5 264.2V264.3M786.5 270.2V305.6M786.5 310.3V310.8M786.5 316.0V316.1M787.5 259.5V259.6M787.5 265.5V265.5M787.5 271.7V309.1M787.5 315.8V315.9M788.5 265.4V305.7M789.5 263.9V265.6M789.5 270.3V305.4M790.5 265.9V267.2M790.5 272.2V304.7M791.5 272.5V305.1M791.5 310.1V310.2M792.5 266.5V302.4M792.5 307.6V307.7M793.5 262.9V264.2M793.5 275.1V311.5M794.5 267.7V302.7M794.5 307.8V307.9M795.5 264.8V303.1M796.5 255.6V255.7M796.5 264.9V309.9M797.5 259.1V263.3M797.5 269.8V304.9M798.5 267.5V300.3M798.5 307.2V307.3M799.5 266.1V300.4M799.5 305.8V307.4M799.5 316.7V316.7M800.5 270.6V307.0M800.5 312.2V312.3M801.5 259.9V259.9M801.5 269.9V303.1M802.5 267.0V297.4M802.5 302.0V305.5M803.5 269.1V299.9M803.5 309.1V312.9M804.5 266.6V305.1M804.5 324.3V324.3M805.5 262.3V307.0M806.5 261.3V265.5M806.5 270.5V304.7M806.5 310.6V310.6M807.5 261.6V309.2M808.5 263.1V263.2M808.5 267.8V303.2M808.5 312.1V312.1M809.5 262.4V265.1M809.5 274.2V304.4M810.5 266.2V266.3M810.5 272.5V304.3M811.5 265.7V308.7M812.5 269.2V307.8M813.5 266.5V266.5M813.5 271.1V301.4M813.5 312.1V314.4M814.5 267.4V305.5M815.5 268.9V307.4M816.5 259.9V259.9M816.5 268.4V305.6M816.5 310.9V312.0M817.5 270.4V312.3M818.5 263.1V309.0M819.5 267.0V304.8M819.5 312.7V312.8M820.5 266.5V266.5M820.5 271.3V310.4M821.5 260.3V261.5M821.5 267.6V299.6M821.5 305.3V305.4M822.5 267.0V268.2M822.5 273.2V306.0M823.5 262.8V266.3M823.5 271.2V301.9M823.5 306.8V306.9M823.5 314.5V314.6M824.5 263.6V263.7M824.5 269.9V304.3M824.5 309.9V309.9M825.5 250.9V250.9M825.5 266.8V297.7M825.5 302.7V302.8M825.5 307.5V307.6M826.5 264.9V265.0M826.5 270.1V303.0M826.5 315.6V315.7M827.5 264.9V306.7M828.5 269.3V313.5M829.5 263.0V263.0M829.5 269.5V304.8M830.5 266.8V305.0M830.5 310.6V310.8M831.5 265.8V303.9M831.5 309.0V309.0M831.5 314.2V314.3M832.5 263.0V263.0M832.5 268.0V301.9M832.5 309.0V309.0M833.5 261.6V261.7M833.5 266.8V310.8M834.5 264.5V264.5M834.5 269.6V301.1M834.5 305.7V305.8M835.5 265.2V298.1M835.5 303.2V303.4M835.5 307.9V308.7M836.5 267.1V307.0M837.5 260.5V261.4M837.5 272.6V303.4M838.5 270.8V302.1M838.5 311.7V315.5M839.5 264.4V266.8M839.5 271.4V302.4M839.5 307.5V307.5M839.5 317.3V321.6M840.5 262.2V262.3M840.5 268.8V268.8M840.5 275.2V299.9M840.5 305.1V310.0M840.5 315.7V315.8M841.5 263.4V263.8M841.5 271.6V304.7M842.5 267.5V306.1M842.5 316.1V316.1M843.5 252.0V252.1M843.5 266.6V313.8M844.5 270.9V304.1M845.5 265.1V310.9M846.5 268.2V302.4M847.5 267.2V270.0M847.5 275.4V307.8M848.5 264.8V267.0M848.5 272.0V302.0M848.5 307.4V307.4M849.5 263.3V263.3M849.5 273.0V303.7M850.5 273.7V306.0M851.5 266.4V309.5M852.5 258.5V258.6M852.5 266.4V302.7M852.5 315.8V315.9M853.5 252.2V252.3M853.5 257.5V257.5M853.5 270.6V305.8M854.5 264.8V268.5M854.5 274.8V304.7M855.5 272.2V304.8M856.5 266.2V304.2M857.5 271.2V311.3M858.5 270.9V303.6M859.5 262.8V266.8M859.5 272.7V303.4M859.5 314.0V314.0M860.5 265.6V303.1M860.5 308.7V309.4M861.5 272.3V307.3M861.5 314.3V314.3M862.5 265.0V305.9M863.5 260.5V262.1M863.5 267.9V304.9M863.5 311.2V311.3M864.5 271.9V311.0M865.5 273.1V304.8M866.5 266.8V266.9M866.5 274.2V304.2M866.5 309.9V309.9M867.5 260.2V262.8M867.5 268.9V306.6M868.5 268.1V306.6M868.5 312.9V312.9M869.5 270.7V305.1M870.5 270.8V306.7M870.5 314.6V314.6M871.5 261.3V306.0M871.5 311.0V311.1M872.5 260.0V262.2M872.5 271.6V302.8M873.5 264.1V264.2M873.5 269.4V304.3M873.5 312.5V312.5M874.5 267.2V267.2M874.5 272.0V301.4M874.5 306.0V307.9M875.5 260.7V260.8M875.5 268.2V304.9M876.5 261.4V261.5M876.5 266.3V310.1M877.5 266.8V303.7M877.5 309.3V309.4M878.5 268.7V270.2M878.5 274.7V305.0M879.5 268.5V303.5M879.5 311.3V311.3M880.5 265.3V308.0M881.5 264.8V264.8M881.5 269.7V309.5M882.5 268.8V309.1M883.5 265.7V302.7M883.5 307.9V308.0M883.5 315.3V315.5M884.5 263.5V263.5M884.5 269.4V309.0M885.5 261.2V261.3M885.5 272.2V309.9M885.5 320.2V320.2M886.5 269.3V303.7M887.5 268.6V304.3M887.5 311.4V311.5M888.5 247.2V247.3M888.5 262.9V309.7M889.5 270.0V303.5M889.5 315.2V315.3M890.5 257.0V257.0M890.5 269.5V308.8M891.5 268.1V305.1M892.5 272.3V302.5M893.5 265.5V265.5M893.5 270.7V274.0M893.5 278.8V305.4M893.5 313.9V314.0M894.5 262.6V262.7M894.5 267.6V267.7M894.5 274.3V307.0M894.5 313.5V315.8M895.5 269.8V305.9M895.5 313.4V314.5M896.5 260.8V260.8M896.5 266.6V311.2M897.5 262.8V268.2M897.5 273.9V301.3M897.5 307.0V307.8M898.5 269.8V300.2M898.5 308.8V311.6M898.5 316.1V316.2M899.5 268.2V306.4M899.5 322.5V322.6M900.5 256.5V256.5M900.5 268.5V304.8M900.5 311.3V311.3M901.5 266.7V302.7M901.5 313.2V313.2M902.5 265.0V307.9M903.5 264.5V264.6M903.5 270.5V306.1M903.5 312.1V312.6M904.5 269.9V309.8M905.5 267.6V302.8M905.5 307.4V307.5M906.5 266.7V304.5M906.5 322.6V322.7M907.5 266.3V268.6M907.5 273.5V302.7M908.5 263.5V263.5M908.5 268.2V305.3M908.5 310.6V311.3M909.5 272.5V307.7M910.5 269.8V300.6M910.5 307.7V312.2M911.5 270.7V305.7M912.5 266.6V307.3M912.5 313.1V313.1M913.5 265.6V313.9M914.5 269.5V269.6M914.5 274.3V312.5M915.5 271.1V301.9M915.5 308.5V308.5M916.5 266.4V309.9M917.5 272.6V307.4M918.5 269.6V305.4M918.5 312.7V312.7M919.5 260.1V260.2M919.5 273.7V310.8M920.5 267.8V302.8M920.5 307.4V308.8M921.5 255.0V255.1M921.5 265.8V268.3M921.5 272.8V307.0M922.5 263.6V263.7M922.5 274.1V303.3M923.5 262.6V262.7M923.5 269.6V309.0M924.5 269.4V306.2M925.5 269.1V304.5M926.5 261.8V261.8M926.5 268.8V312.6M927.5 263.3V304.4M927.5 309.9V309.9M928.5 264.6V264.7M928.5 270.1V312.7M929.5 268.5V303.0M930.5 269.6V303.6M930.5 313.9V314.0M931.5 266.3V307.5M932.5 257.7V257.7M932.5 265.1V305.2M933.5 273.5V309.4M934.5 266.5V311.2M935.5 267.5V269.1M935.5 275.3V307.5M936.5 260.8V260.8M936.5 267.9V304.6M937.5 262.1V304.3M937.5 311.7V311.8M938.5 265.5V265.7M938.5 272.9V307.6M939.5 263.1V263.2M939.5 269.2V300.8M939.5 308.1V309.7M939.5 314.5V314.5M940.5 269.0V276.5M940.5 281.6V305.8M941.5 265.1V265.1M941.5 274.8V315.2M942.5 272.4V306.7M942.5 312.4V312.4M943.5 254.9V255.0M943.5 260.7V260.7M943.5 266.7V269.3M943.5 275.7V299.4M943.5 307.1V307.5M944.5 266.9V302.2M944.5 309.8V309.9M944.5 320.6V320.7M945.5 262.8V262.8M945.5 267.8V307.4M946.5 261.8V261.8M946.5 272.1V299.6M946.5 304.2V306.4M947.5 268.2V302.7M947.5 308.2V308.3M948.5 261.0V261.1M948.5 271.4V305.0M948.5 316.3V316.3M949.5 268.2V309.3M950.5 263.6V263.7M950.5 268.7V301.7M950.5 307.5V307.6M951.5 266.7V311.6M952.5 264.2V307.9M952.5 315.4V315.5M953.5 269.9V306.9M954.5 266.9V303.4M955.5 268.9V306.6M956.5 267.4V307.1M957.5 260.8V260.9M957.5 265.6V305.3M958.5 268.9V306.0M958.5 310.6V310.7M959.5 268.6V269.5M959.5 274.5V308.9M960.5 269.5V306.4M961.5 264.3V264.4M961.5 271.9V311.2M962.5 271.8V313.8M963.5 265.2V265.2M963.5 271.2V302.7M963.5 310.6V310.7M964.5 262.0V308.6M965.5 266.7V311.3M966.5 263.0V272.5M966.5 277.9V304.3M966.5 311.3V313.9M967.5 263.8V263.8M967.5 269.7V304.0M967.5 316.5V320.0M968.5 269.7V312.9M969.5 260.4V260.4M969.5 268.7V310.2M970.5 266.8V269.7M970.5 275.0V311.4M971.5 265.8V302.0M971.5 306.9V307.8M972.5 260.5V260.5M972.5 270.7V302.1M972.5 306.8V309.5M973.5 267.0V305.4M974.5 261.6V261.6M974.5 269.2V304.9M974.5 310.0V310.0M975.5 248.1V248.2M975.5 261.0V261.0M975.5 269.9V310.1M976.5 263.7V263.8M976.5 270.1V299.6M976.5 304.7V304.7M977.5 263.7V267.0M977.5 271.5V302.6M978.5 260.1V260.2M978.5 267.9V304.0M979.5 260.3V260.4M979.5 269.8V306.4M980.5 258.0V260.6M980.5 266.3V306.4M980.5 313.2V313.3M981.5 268.9V307.5M981.5 312.2V312.7M982.5 266.3V266.4M982.5 272.0V306.4M983.5 270.7V304.2M983.5 309.0V309.1M984.5 268.8V307.5M985.5 266.7V272.1M985.5 276.8V306.2M986.5 267.7V304.1M986.5 309.0V312.1M987.5 265.8V303.8M988.5 264.3V264.3M988.5 269.4V305.8M988.5 313.4V313.4M989.5 268.4V302.9M989.5 309.7V309.7M990.5 261.4V305.6M991.5 266.0V302.6M991.5 311.9V312.0M992.5 260.4V260.5M992.5 267.0V305.9M992.5 312.9V313.0M993.5 269.5V308.9M994.5 264.2V264.3M994.5 272.8V306.3M995.5 265.8V314.3M996.5 270.9V308.8M996.5 313.6V313.7M997.5 268.0V307.9M998.5 265.5V265.5M998.5 274.6V303.0M998.5 311.1V312.5M999.5 264.2V270.3M999.5 275.9V310.4M1000.5 274.4V301.6M1000.5 306.7V309.3M1001.5 269.1V272.7M1001.5 277.9V304.2M1002.5 267.7V308.7M1003.5 262.0V262.1M1003.5 273.1V306.2M1004.5 269.8V307.1M1005.5 272.3V300.4M1006.5 260.2V260.3M1006.5 268.8V305.4M1007.5 263.7V263.8M1007.5 269.5V308.4M1008.5 262.5V265.0M1008.5 273.7V308.6M1008.5 314.6V314.6M1009.5 268.9V306.4M1009.5 321.4V321.4M1010.5 264.9V264.9M1010.5 272.0V302.6M1010.5 309.0V311.9M1010.5 316.4V316.5M1011.5 262.2V264.1M1011.5 269.1V304.6M1011.5 316.3V316.3M1012.5 271.6V271.6M1012.5 276.6V312.2M1013.5 271.4V297.0M1014.5 264.2V301.1M1015.5 260.9V260.9M1015.5 266.4V266.5M1015.5 273.3V310.3M1016.5 270.3V305.9M1017.5 258.6V258.7M1017.5 274.5V302.2M1017.5 318.5V318.6M1018.5 266.7V305.3M1018.5 310.8V310.9M1019.5 259.3V264.7M1019.5 272.9V303.6M1019.5 308.4V309.6M1020.5 260.7V264.4M1020.5 271.9V307.9M1021.5 270.6V311.8M1022.5 265.1V306.5M1022.5 311.1V311.1M1023.5 270.6V309.6M1024.5 268.2V306.4M1024.5 312.4V312.5M1025.5 261.7V265.1M1025.5 270.2V307.6M1026.5 258.0V258.0M1026.5 268.6V305.3M1026.5 313.0V314.8M1027.5 260.5V263.9M1027.5 268.9V269.1M1027.5 275.5V303.3M1028.5 265.1V306.2M1028.5 317.1V317.1M1029.5 267.6V308.8M1030.5 267.3V304.8M1030.5 310.0V310.1M1031.5 274.2V306.1M1032.5 264.4V299.1M1032.5 311.5V313.1M1033.5 261.5V264.8M1033.5 273.2V311.4M1034.5 269.6V305.6M1035.5 268.6V309.3M1036.5 267.7V269.1M1036.5 274.0V313.3M1037.5 268.6V307.8M1038.5 274.2V308.8M1039.5 265.0V265.1M1039.5 270.8V306.4M1039.5 316.9V316.9M1040.5 272.6V305.1M1040.5 318.7V318.8M1041.5 264.5V267.0M1041.5 272.5V303.1M1041.5 312.6V312.7M1042.5 261.2V261.3M1042.5 271.4V306.4M1043.5 261.6V301.3M1043.5 311.2V311.3M1044.5 262.7V299.0M1044.5 303.7V308.7M1045.5 269.2V301.3M1045.5 311.0V311.0M1046.5 261.8V261.8M1046.5 269.4V305.9M1047.5 268.7V308.0M1048.5 263.2V263.3M1048.5 269.6V309.9M1049.5 267.8V267.8M1049.5 274.4V308.6M1049.5 313.8V313.8M1050.5 267.0V306.8M1050.5 312.2V312.3M1051.5 259.2V307.8M1052.5 270.3V303.6M1053.5 261.1V261.2M1053.5 267.4V268.0M1053.5 275.1V305.5M1053.5 314.8V314.9M1054.5 262.9V303.5M1055.5 267.9V307.0M1056.5 268.3V299.5M1056.5 307.0V309.7M1057.5 267.3V310.6M1058.5 267.8V305.5M1059.5 253.9V254.0M1059.5 267.0V310.2M1060.5 264.0V264.1M1060.5 269.5V308.4M1060.5 313.3V313.3M1061.5 258.5V258.5M1061.5 266.6V302.4M1061.5 308.4V311.9M1062.5 263.7V268.1M1062.5 272.8V306.7M1063.5 265.5V308.5M1064.5 264.4V303.2M1065.5 268.4V304.7M1065.5 309.9V314.2M1066.5 265.3V305.0M1067.5 268.3V271.1M1067.5 275.9V310.3M1068.5 269.9V309.2M1069.5 270.0V308.2M1070.5 258.9V258.9M1070.5 266.3V308.5M1070.5 314.8V314.9M1071.5 267.9V303.5M1071.5 308.9V309.0M1072.5 256.7V256.8M1072.5 266.2V311.2M1073.5 268.7V300.1M1073.5 308.5V309.6M1074.5 270.2V303.5M1074.5 310.1V313.8M1075.5 270.9V305.8M1076.5 265.8V265.9M1076.5 271.8V305.5M1076.5 310.6V310.7M1077.5 265.7V265.8M1077.5 270.4V309.6M1078.5 269.5V312.1M1078.5 318.6V318.7M1079.5 263.2V263.3M1079.5 272.8V307.0M1080.5 262.5V262.5M1080.5 274.1V311.7M1081.5 267.6V308.0M1082.5 264.7V266.9M1082.5 271.6V310.2M1083.5 269.3V269.9M1083.5 276.2V303.1M1083.5 317.7V317.8M1084.5 259.2V259.2M1084.5 270.5V300.0M1084.5 304.9V307.8M1084.5 315.9V315.9M1085.5 267.1V307.3M1086.5 264.8V264.8M1086.5 269.3V308.2M1087.5 261.0V261.0M1087.5 265.5V269.5M1087.5 274.9V306.4M1088.5 263.3V299.0M1088.5 304.3V306.8M1089.5 266.4V304.1M1089.5 315.0V316.8M1090.5 264.7V311.2M1090.5 319.8V324.2M1091.5 267.3V267.3M1091.5 272.8V304.3M1092.5 264.3V264.7M1092.5 269.4V310.8M1093.5 266.0V266.8M1093.5 272.2V308.2M1094.5 268.8V307.0M1095.5 260.4V261.3M1095.5 269.5V301.1M1095.5 307.0V307.1M1096.5 261.8V301.6M1096.5 307.1V307.1M1097.5 267.6V307.4M1097.5 312.2V312.3M1098.5 259.0V265.0M1098.5 269.9V307.1M1099.5 267.0V298.2M1099.5 303.0V303.1M1099.5 308.9V308.9M1100.5 252.9V252.9M1100.5 265.5V303.5M1100.5 311.1V311.1M1101.5 261.4V261.5M1101.5 268.8V308.1M1102.5 261.9V262.0M1102.5 271.7V309.8M1103.5 267.9V302.8M1104.5 264.6V306.9M1105.5 268.5V304.2M1105.5 313.7V313.7M1106.5 261.9V304.8M1106.5 312.0V315.1M1107.5 264.1V304.6M1108.5 265.1V265.1M1108.5 272.3V302.1M1108.5 308.9V308.9M1108.5 313.8V313.9M1109.5 267.3V307.5M1110.5 263.9V302.9M1110.5 307.8V307.9M1111.5 267.0V303.5M1111.5 308.4V309.4M1112.5 260.8V306.5M1113.5 271.6V304.8M1114.5 269.9V300.7M1114.5 313.7V316.8M1115.5 253.2V253.2M1115.5 261.0V261.1M1115.5 267.4V270.6M1115.5 276.0V304.0M1115.5 317.2V317.3M1116.5 271.5V301.0M1117.5 264.8V307.1M1118.5 263.3V298.8M1119.5 262.8V309.9M1120.5 264.6V304.5M1120.5 314.0V314.0M1121.5 267.7V299.4M1122.5 262.8V268.4M1122.5 273.8V303.8M1123.5 262.9V299.3M1123.5 304.7V305.2M1124.5 267.3V303.5M1125.5 262.5V301.8M1125.5 309.7V309.7M1126.5 253.9V253.9M1126.5 267.4V267.4M1126.5 272.1V306.5M1127.5 266.4V306.5M1128.5 264.1V300.0M1128.5 307.2V311.0M1129.5 261.1V264.5M1129.5 270.3V309.3M1130.5 265.6V265.6M1130.5 270.1V302.6M1131.5 265.3V298.9M1131.5 303.6V306.1M1132.5 262.1V264.9M1132.5 269.5V297.0M1132.5 301.9V302.4M1133.5 260.8V260.8M1133.5 266.9V302.4M1133.5 307.5V310.2M1134.5 259.8V259.8M1134.5 265.9V303.8M1135.5 269.1V300.6M1135.5 305.9V305.9M1136.5 268.3V304.3M1136.5 309.4V309.4M1137.5 263.3V307.7M1137.5 319.2V319.3M1138.5 261.6V303.7M1139.5 267.4V304.2M1140.5 265.0V305.5M1141.5 262.6V265.0M1141.5 270.4V273.2M1141.5 277.8V304.0M1142.5 261.4V306.9M1143.5 257.2V257.2M1143.5 266.6V303.0M1144.5 258.8V261.4M1144.5 266.5V302.8M1145.5 262.7V265.0M1145.5 271.1V298.9M1145.5 306.9V307.0M1146.5 264.8V305.7M1147.5 268.4V301.5M1147.5 307.3V312.7M1148.5 262.6V262.6M1148.5 267.4V303.9M1149.5 264.9V307.5M1150.5 267.4V299.1M1150.5 304.0V304.1M1151.5 260.0V260.1M1151.5 264.8V304.3M1151.5 320.5V320.6M1152.5 265.5V303.0M1153.5 265.0V305.2M1153.5 314.4V314.5M1154.5 266.8V302.5M1154.5 309.1V309.2M1155.5 262.3V262.8M1155.5 267.9V308.5M1156.5 256.8V256.8M1156.5 262.6V298.2M1156.5 304.8V305.0M1157.5 254.8V301.8M1157.5 307.3V311.0M1158.5 264.4V294.6M1158.5 299.3V301.6M1158.5 310.9V310.9M1159.5 254.1V258.6M1159.5 268.4V306.1M1160.5 262.1V262.1M1160.5 269.0V300.6M1161.5 260.1V260.2M1161.5 267.0V307.4M1162.5 260.8V305.2M1163.5 260.0V260.0M1163.5 266.7V266.8M1163.5 271.2V296.1M1163.5 301.1V302.6M1164.5 264.5V305.6M1165.5 260.9V260.9M1165.5 270.7V307.5M1166.5 266.5V305.6M1167.5 254.7V302.5M1167.5 309.4V309.4M1168.5 257.4V259.3M1168.5 265.0V305.3M1169.5 264.8V264.8M1169.5 271.2V300.5M1169.5 305.7V305.7M1170.5 268.3V297.1M1170.5 301.7V309.7M1171.5 257.9V257.9M1171.5 264.5V304.4M1172.5 258.8V300.9M1173.5 261.8V302.4M1173.5 308.0V308.1M1174.5 253.8V253.8M1174.5 265.4V267.2M1174.5 272.8V302.2M1174.5 310.7V310.7M1175.5 263.6V300.5M1175.5 305.8V305.8M1176.5 266.7V304.3M1177.5 260.0V303.9M1177.5 309.5V309.6M1178.5 262.5V298.5M1178.5 304.4V307.8M1179.5 268.6V306.6M1180.5 259.6V309.3M1181.5 268.6V299.1M1181.5 305.7V309.9M1182.5 266.3V305.6M1183.5 262.2V304.3M1184.5 260.9V308.6M1185.5 254.6V254.6M1185.5 264.1V304.7M1185.5 318.1V318.1M1186.5 263.1V301.1M1186.5 307.7V310.2M1187.5 262.1V305.2M1188.5 250.8V250.9M1188.5 266.0V302.4M1189.5 265.9V298.5M1189.5 306.4V306.4M1190.5 265.6V299.8M1190.5 311.0V311.0M1191.5 260.4V260.5M1191.5 268.6V301.3M1192.5 263.4V306.7M1193.5 263.3V304.9M1194.5 257.7V260.6M1194.5 271.0V301.7M1194.5 310.4V310.4M1195.5 263.9V298.1M1196.5 262.2V298.2M1196.5 303.4V305.0M1197.5 261.1V261.2M1197.5 267.3V300.6M1197.5 305.5V306.9M1198.5 256.4V256.5M1198.5 262.4V265.3M1198.5 270.6V300.3M1199.5 257.1V306.7M1200.5 263.2V303.0M1200.5 312.2V312.3M1201.5 262.7V301.5M1201.5 307.7V307.8M1202.5 258.8V258.9M1202.5 263.9V302.6M1202.5 308.6V308.6M1203.5 265.8V302.0M1203.5 306.7V306.8M1204.5 264.5V297.0M1204.5 303.5V304.3M1205.5 262.4V262.5M1205.5 268.6V304.2M1205.5 309.1V312.4M1206.5 269.3V302.2M1206.5 307.9V307.9M1207.5 261.8V294.7M1207.5 299.4V302.0M1207.5 306.8V309.4M1208.5 260.7V300.8M1209.5 260.0V260.0M1209.5 268.0V305.5M1210.5 252.4V252.5M1210.5 266.4V298.4M1210.5 303.0V304.0M1211.5 265.9V306.7M1212.5 265.4V299.2M1212.5 306.5V306.6M1213.5 263.5V265.5M1213.5 270.7V298.5M1213.5 304.5V304.6M1213.5 312.4V312.4M1214.5 265.7V299.2M1214.5 304.2V304.3M1215.5 259.4V259.5M1215.5 264.8V299.2M1215.5 303.9V304.0M1215.5 309.0V309.0M1216.5 264.7V304.0M1217.5 257.4V257.4M1217.5 265.4V300.9M1218.5 259.8V297.6M1218.5 304.2V308.1M1219.5 253.4V253.5M1219.5 263.5V302.0M1219.5 314.0V314.0M1220.5 261.2V297.5M1221.5 263.4V304.0M1222.5 255.3V302.9M1222.5 307.8V307.8M1223.5 262.7V298.0M1223.5 302.7V305.3M1224.5 256.7V256.8M1224.5 261.6V301.7M1225.5 260.3V300.9M1226.5 267.7V301.1M1226.5 313.6V313.6M1227.5 254.6V254.7M1227.5 263.0V300.3M1228.5 264.4V305.5M1229.5 265.4V301.9M1229.5 307.7V307.7M1230.5 252.0V252.0M1230.5 259.2V301.1M1231.5 258.3V300.6M1232.5 259.8V262.4M1232.5 267.1V298.2M1232.5 303.1V306.8M1233.5 257.1V257.2M1233.5 265.7V265.8M1233.5 270.2V303.5M1234.5 260.6V260.7M1234.5 267.4V298.4M1234.5 304.0V304.1M1234.5 309.7V309.8M1235.5 261.3V263.5M1235.5 268.9V298.7M1236.5 262.4V262.4M1236.5 269.0V291.1M1236.5 295.9V302.2M1236.5 313.9V313.9M1237.5 260.1V262.5M1237.5 268.6V299.1M1238.5 264.2V303.8M1239.5 262.1V303.2M1240.5 261.5V302.4M1241.5 257.8V261.6M1241.5 266.5V301.3M1242.5 265.1V301.2M1243.5 244.8V244.8M1243.5 262.5V294.0M1243.5 299.1V306.2M1244.5 266.5V307.8M1245.5 263.9V297.6M1245.5 310.3V310.4M1246.5 261.8V303.0M1247.5 264.8V298.1M1247.5 302.8V302.9M1248.5 261.0V261.0M1248.5 269.0V293.4M1248.5 298.3V306.1M1249.5 267.1V300.5M1250.5 265.0V302.3M1251.5 266.9V304.9M1252.5 259.1V263.6M1252.5 268.1V305.7M1253.5 254.8V254.9M1253.5 262.0V304.3M1254.5 258.6V298.2M1254.5 307.5V307.6M1255.5 262.4V264.1M1255.5 268.7V299.9M1256.5 265.8V301.8M1256.5 314.9V314.9M1257.5 263.6V297.5M1257.5 305.8V306.9M1258.5 257.4V260.0M1258.5 265.9V303.6M1259.5 259.2V259.2M1259.5 264.1V296.3M1259.5 306.7V306.8M1260.5 258.5V308.1M1261.5 264.4V303.7M1262.5 254.9V254.9M1262.5 264.6V300.2M1262.5 313.1V313.2M1263.5 263.3V300.6M1264.5 259.0V259.0M1264.5 264.6V304.4M1265.5 257.8V257.9M1265.5 262.5V262.5M1265.5 268.5V305.1M1266.5 261.6V303.3M1267.5 253.2V253.2M1267.5 263.8V300.2M1268.5 268.7V304.0M1268.5 310.8V310.8M1269.5 259.2V259.2M1269.5 265.6V306.3M1270.5 262.7V265.2M1270.5 270.8V299.6M1271.5 267.3V306.3M1272.5 259.4V298.1M1272.5 304.6V304.6M1273.5 265.4V303.0M1274.5 257.8V258.9M1274.5 263.8V300.5M1275.5 256.8V256.8M1275.5 263.9V294.9M1275.5 299.5V301.0M1275.5 309.3V309.4M1275.5 315.5V315.6M1276.5 266.8V302.4M1277.5 255.8V255.8M1277.5 264.3V304.3M1277.5 315.0V315.1M1278.5 261.7V299.2M1278.5 307.2V307.3M1279.5 262.5V262.6M1279.5 269.9V301.9M1280.5 263.8V300.5M1281.5 264.5V300.9M1281.5 307.0V307.0M1282.5 263.8V293.1M1282.5 307.1V308.6M1283.5 266.8V297.6M1284.5 265.1V300.1M1285.5 256.7V256.8M1285.5 262.7V298.0M1286.5 257.7V298.0M1286.5 303.6V305.2M1287.5 257.1V257.9M1287.5 262.4V297.1M1288.5 260.9V260.9M1288.5 266.9V301.3M1289.5 262.6V265.7M1289.5 270.9V303.8M1290.5 259.2V261.7M1290.5 268.6V300.2M1291.5 264.4V303.6M1291.5 309.3V309.4M1292.5 258.5V262.1M1292.5 266.7V306.3M1292.5 311.5V311.5M1293.5 246.1V246.1M1293.5 265.7V295.5M1293.5 308.9V308.9M1294.5 255.7V255.8M1294.5 262.7V302.0M1295.5 261.0V261.0M1295.5 266.4V302.6M1296.5 264.9V297.4M1297.5 253.9V254.0M1297.5 262.3V300.2M1297.5 306.7V307.3M1298.5 254.6V254.7M1298.5 265.6V303.9M1299.5 260.2V260.5M1299.5 267.1V304.7M1299.5 309.4V309.5M1300.5 257.4V299.5M1301.5 260.1V304.0M1302.5 264.5V264.5M1302.5 269.4V303.6M1303.5 264.2V303.1M1303.5 315.4V315.4M1304.5 258.1V258.2M1304.5 265.9V301.0M1305.5 263.0V298.9M1306.5 252.3V252.4M1306.5 258.5V258.6M1306.5 265.8V302.4M1307.5 263.2V265.6M1307.5 270.5V297.6M1307.5 305.5V307.2M1308.5 248.8V248.8M1308.5 259.8V259.9M1308.5 266.6V296.0M1308.5 305.1V305.2M1309.5 250.7V250.7M1309.5 256.4V256.5M1309.5 261.4V298.6M1309.5 304.0V305.5M1309.5 310.8V310.8M1310.5 260.7V293.0M1310.5 297.8V300.1M1310.5 304.7V304.8M1311.5 261.1V300.5M1311.5 307.9V307.9M1312.5 268.1V296.4M1312.5 301.2V301.2M1313.5 266.0V298.7M1313.5 307.7V307.8M1314.5 266.3V304.1M1315.5 263.8V298.5M1315.5 303.1V308.0M1316.5 258.8V258.9M1316.5 264.7V298.5M1316.5 307.7V307.7M1317.5 261.8V302.3M1318.5 266.0V301.3M1318.5 306.9V306.9M1319.5 249.8V249.9M1319.5 262.2V303.9M1319.5 311.6V311.7M1320.5 255.3V255.3M1320.5 263.8V263.8M1320.5 269.1V300.8M1321.5 257.8V262.3M1321.5 267.9V300.6M1321.5 307.3V307.3M1322.5 259.1V259.2M1322.5 263.8V304.1M1323.5 258.9V259.0M1323.5 266.2V301.4M1323.5 311.1V311.2M1324.5 263.7V294.6M1324.5 300.5V300.6M1324.5 305.5V305.6M1324.5 320.3V320.4M1325.5 263.0V265.4M1325.5 271.0V297.6M1325.5 306.0V306.0M1326.5 263.1V303.3M1327.5 251.3V251.4M1327.5 260.2V301.6M1327.5 315.1V315.2M1328.5 264.4V302.6M1329.5 259.8V259.9M1329.5 265.6V293.5M1329.5 298.4V301.4M1330.5 260.5V260.6M1330.5 266.2V308.4M1331.5 251.5V251.6M1331.5 264.0V301.0M1331.5 316.6V316.7M1332.5 257.8V300.7M1333.5 261.3V304.5M1334.5 259.2V302.1M1334.5 311.5V311.6M1335.5 264.1V298.5M1335.5 303.5V307.9M1336.5 262.4V300.9M1337.5 264.5V310.1M1338.5 253.5V253.5M1338.5 262.9V298.2M1338.5 305.1V305.2M1338.5 312.6V312.6M1339.5 263.5V266.2M1339.5 271.1V300.1M1340.5 259.9V260.0M1340.5 265.8V302.6M1340.5 308.5V308.5M1341.5 261.7V300.8M1341.5 308.1V308.1M1342.5 260.1V260.1M1342.5 265.0V291.0M1342.5 295.6V305.0M1343.5 267.2V304.1M1344.5 257.9V257.9M1344.5 264.9V297.6M1344.5 303.3V303.4M1345.5 253.4V253.4M1345.5 261.6V261.6M1345.5 269.7V301.7M1345.5 308.4V308.5M1346.5 259.1V259.1M1346.5 265.3V296.0M1346.5 302.4V307.2M1347.5 263.6V301.6M1348.5 260.0V300.3M1349.5 249.2V249.2M1349.5 258.1V258.2M1349.5 265.8V304.8M1349.5 315.9V315.9M1350.5 261.7V263.4M1350.5 270.7V304.9M1351.5 263.0V263.1M1351.5 268.4V299.3M1352.5 265.6V265.7M1352.5 270.6V300.3M1352.5 310.7V310.7M1353.5 261.8V303.6M1354.5 268.7V301.9M1355.5 259.8V261.8M1355.5 268.5V303.4M1356.5 267.5V310.1M1357.5 256.1V256.2M1357.5 268.3V303.3M1358.5 262.0V305.3M1358.5 311.1V311.1M1359.5 262.2V303.8M1359.5 309.9V310.0M1360.5 264.5V308.8M1361.5 260.4V260.5M1361.5 269.6V302.3M1362.5 264.4V298.1M1362.5 309.7V309.8M1363.5 262.8V299.7M1363.5 305.5V306.1M1364.5 263.0V299.3M1365.5 262.0V297.9M1365.5 303.0V306.6M1366.5 262.8V262.8M1366.5 268.4V305.4M1367.5 258.8V297.9M1367.5 303.9V303.9M1367.5 312.2V312.2M1368.5 263.3V300.4M1368.5 312.4V312.4M1369.5 262.4V266.3M1369.5 270.9V301.9M1369.5 307.6V307.7M1370.5 263.9V302.2M1371.5 257.9V299.3M1371.5 307.6V307.7M1372.5 263.1V303.0M1373.5 253.8V253.8M1373.5 258.9V262.0M1373.5 268.3V304.6M1374.5 262.9V302.7M1375.5 261.9V262.0M1375.5 266.8V302.7M1376.5 264.4V303.4M1377.5 261.4V303.7M1378.5 262.9V263.0M1378.5 269.1V300.1M1378.5 308.2V308.3M1379.5 266.6V299.5M1379.5 306.0V307.7M1380.5 261.5V261.5M1380.5 266.6V295.8M1381.5 265.9V266.0M1381.5 270.6V306.0M1382.5 263.1V300.0M1383.5 266.4V302.7M1384.5 266.7V303.8M1385.5 257.1V257.1M1385.5 262.3V262.3M1385.5 269.2V301.9M1386.5 268.5V300.0M1386.5 305.2V305.2M1387.5 266.5V307.3M1387.5 312.7V312.7M1388.5 262.4V301.2M1389.5 260.0V264.2M1389.5 269.2V304.1M1390.5 255.3V262.4M1390.5 267.6V298.4M1390.5 306.6V310.8M1391.5 268.6V299.1M1391.5 305.8V305.9M1392.5 254.5V254.5M1392.5 263.6V307.2M1393.5 257.1V257.2M1393.5 262.3V300.8M1393.5 306.3V306.3M1393.5 312.3V312.3M1394.5 256.2V256.3M1394.5 261.0V297.6M1395.5 252.8V252.9M1395.5 263.4V303.6M1396.5 266.4V303.7M1397.5 248.9V249.0M1397.5 261.3V302.5M1398.5 257.6V257.6M1398.5 262.3V267.4M1398.5 272.1V302.7M1399.5 263.2V298.1M1399.5 302.6V303.8M1399.5 313.4V313.5M1400.5 261.7V306.4M1401.5 264.1V307.3M1402.5 262.1V298.8M1402.5 309.4V309.4M1403.5 265.4V295.8M1403.5 312.5V312.6M1404.5 261.4V306.2M1405.5 257.1V257.1M1405.5 263.9V305.4M1406.5 262.4V265.0M1406.5 270.8V300.0M1406.5 304.6V304.6M1407.5 258.2V258.3M1407.5 262.9V302.1M1408.5 264.1V298.3M1409.5 257.9V258.0M1409.5 267.0V298.7M1410.5 253.4V253.4M1410.5 259.8V297.4M1411.5 261.1V261.2M1411.5 266.4V301.8M1412.5 261.0V301.9M1413.5 259.6V303.6M1414.5 256.8V257.1M1414.5 265.2V299.2M1415.5 260.8V303.6M1416.5 263.2V300.8M1417.5 254.7V254.8M1417.5 263.4V305.1M1418.5 257.6V257.6M1418.5 267.1V294.2M1418.5 299.0V303.1M1419.5 267.6V296.7M1419.5 304.1V305.3M1420.5 260.7V262.2M1420.5 267.8V306.9M1421.5 258.1V258.2M1421.5 263.6V301.1M1422.5 258.9V265.4M1422.5 270.7V307.6M1422.5 312.2V312.3M1423.5 260.8V294.8M1423.5 300.4V307.0M1424.5 265.8V297.1M1425.5 261.7V261.7M1425.5 266.5V303.8M1426.5 260.3V300.1M1426.5 305.3V305.3M1427.5 262.7V263.4M1427.5 268.5V301.8M1428.5 257.1V257.2M1428.5 262.1V303.0M1429.5 268.6V297.0M1429.5 302.1V302.2M1430.5 262.6V299.0M1431.5 257.8V307.5M1432.5 266.8V304.5M1433.5 264.7V300.8M1434.5 260.7V260.7M1434.5 265.2V301.2M1435.5 262.2V307.6M1436.5 259.8V300.2M1437.5 255.0V255.0M1437.5 261.4V300.6M1438.5 262.7V300.8M1439.5 262.2V302.7M1439.5 309.2V309.3M1440.5 264.4V303.4M1441.5 265.5V298.6M1442.5 261.5V261.6M1442.5 266.4V299.6M1442.5 309.6V309.6M1443.5 255.8V255.9M1443.5 266.7V302.2M1443.5 307.4V307.4M1443.5 320.0V320.1M1444.5 263.2V302.8M1445.5 261.5V307.0M1446.5 263.7V303.2M1446.5 311.1V311.1M1447.5 261.3V261.3M1447.5 265.8V300.3M1447.5 310.0V310.3M1448.5 264.0V300.1M1448.5 307.1V307.1M1449.5 265.5V305.5M1450.5 257.1V259.9M1450.5 266.8V299.6M1451.5 258.1V258.1M1451.5 264.3V302.1M1452.5 266.6V267.1M1452.5 272.4V304.9M1453.5 260.6V299.6M1453.5 305.2V305.2M1454.5 259.7V259.7M1454.5 268.4V300.9M1454.5 306.0V308.1M1455.5 258.0V297.5M1455.5 302.8V305.0M1456.5 259.9V260.4M1456.5 269.9V305.8M1457.5 262.8V265.0M1457.5 270.5V313.0M1458.5 265.5V300.0M1458.5 307.6V310.4M1459.5 265.9V301.0M1459.5 312.8V312.9M1460.5 259.5V259.5M1460.5 264.7V303.7M1460.5 309.8V309.8M1461.5 261.8V305.6M1462.5 264.3V300.5M1462.5 308.3V308.3" stroke="#1f77b4" stroke-width="5.5" stroke-linecap="round" fill="none"/>
<g fill="#1f77b4">
<circle cx="137.3" cy="369.3" r="2.75"/>
<circle cx="137.3" cy="378.2" r="2.75"/>
<circle cx="137.3" cy="467.2" r="2.75"/>
<circle cx="137.3" cy="480.3" r="2.75"/>
<circle cx="137.3" cy="486.2" r="2.75"/>
<circle cx="227.3" cy="332.4" r="2.75"/>
<circle cx="227.3" cy="245.0" r="2.75"/>
<circle cx="221.8" cy="251.3" r="2.75"/>
<circle cx="236.1" cy="249.2" r="2.75"/>
<circle cx="281.4" cy="236.3" r="2.75"/>
<circle cx="295.0" cy="247.4" r="2.75"/>
<circle cx="324.4" cy="203.5" r="2.75"/>
<circle cx="324.4" cy="212.3" r="2.75"/>
<circle cx="327.6" cy="243.2" r="2.75"/>
<circle cx="321.6" cy="249.0" r="2.75"/>
<circle cx="329.2" cy="60.4" r="2.75"/>
<circle cx="329.2" cy="101.3" r="2.75"/>
<circle cx="329.2" cy="128.6" r="2.75"/>
<circle cx="329.2" cy="130.2" r="2.75"/>
<circle cx="324.4" cy="180.3" r="2.75"/>
<circle cx="324.4" cy="187.5" r="2.75"/>
<circle cx="367.3" cy="220.4" r="2.75"/>
<circle cx="371.3" cy="224.3" r="2.75"/>
<circle cx="374.3" cy="228.2" r="2.75"/>
<circle cx="374.3" cy="234.7" r="2.75"/>
<circle cx="367.8" cy="238.1" r="2.75"/>
<circle cx="381.2" cy="238.1" r="2.75"/>
<circle cx="398.3" cy="238.1" r="2.75"/>
<circle cx="411.7" cy="243.4" r="2.75"/>
<circle cx="416.3" cy="243.4" r="2.75"/>
<circle cx="455.1" cy="238.1" r="2.75"/>
<circle cx="276.5" cy="336.3" r="2.75"/>
<circle cx="288.6" cy="330.5" r="2.75"/>
<circle cx="276.5" cy="326.6" r="2.75"/>
<circle cx="348.6" cy="330.5" r="2.75"/>
<circle cx="368.3" cy="342.5" r="2.75"/>
<circle cx="374.7" cy="338.1" r="2.75"/>
<circle cx="381.6" cy="342.5" r="2.75"/>
<circle cx="379.3" cy="357.8" r="2.75"/>
<circle cx="382.3" cy="355.5" r="2.75"/>
<circle cx="406.6" cy="334.4" r="2.75"/>
<circle cx="412.6" cy="342.5" r="2.75"/>
<circle cx="425.5" cy="328.2" r="2.75"/>
<circle cx="453.3" cy="330.5" r="2.75"/>
<circle cx="483.5" cy="99.2" r="2.75"/>
<circle cx="483.5" cy="114.2" r="2.75"/>
<circle cx="483.5" cy="126.2" r="2.75"/>
<circle cx="483.5" cy="184.2" r="2.75"/>
<circle cx="483.5" cy="224.2" r="2.75"/>
<circle cx="515.6" cy="222.1" r="2.75"/>
<circle cx="458.3" cy="228.6" r="2.75"/>
<circle cx="463.0" cy="234.4" r="2.75"/>
<circle cx="500.0" cy="226.3" r="2.75"/>
<circle cx="496.4" cy="228.6" r="2.75"/>
<circle cx="506.8" cy="232.0" r="2.75"/>
<circle cx="641.5" cy="214.5" r="2.75"/>
<circle cx="637.3" cy="222.1" r="2.75"/>
<circle cx="641.5" cy="222.1" r="2.75"/>
<circle cx="639.2" cy="229.7" r="2.75"/>
<circle cx="648.4" cy="230.2" r="2.75"/>
<circle cx="663.4" cy="230.2" r="2.75"/>
<circle cx="620.5" cy="234.4" r="2.75"/>
<circle cx="598.3" cy="239.4" r="2.75"/>
<circle cx="683.5" cy="211.3" r="2.75"/>
<circle cx="680.1" cy="222.1" r="2.75"/>
<circle cx="683.5" cy="224.0" r="2.75"/>
<circle cx="715.4" cy="95.3" r="2.75"/>
<circle cx="715.4" cy="106.6" r="2.75"/>
<circle cx="715.4" cy="108.2" r="2.75"/>
<circle cx="715.4" cy="170.4" r="2.75"/>
<circle cx="712.4" cy="187.5" r="2.75"/>
<circle cx="712.4" cy="191.2" r="2.75"/>
<circle cx="712.4" cy="209.2" r="2.75"/>
<circle cx="715.4" cy="216.3" r="2.75"/>
<circle cx="755.6" cy="236.2" r="2.75"/>
<circle cx="755.6" cy="243.1" r="2.75"/>
<circle cx="755.6" cy="250.5" r="2.75"/>
<circle cx="755.6" cy="256.3" r="2.75"/>
<circle cx="722.3" cy="338.6" r="2.75"/>
<circle cx="722.3" cy="355.0" r="2.75"/>
<circle cx="722.3" cy="358.5" r="2.75"/>
<circle cx="722.3" cy="361.7" r="2.75"/>
<circle cx="708.2" cy="344.4" r="2.75"/>
<circle cx="505.3" cy="353.5" r="2.75"/>
<circle cx="517.2" cy="347.0" r="2.75"/>
<circle cx="500.0" cy="338.0" r="2.75"/>
<circle cx="494.0" cy="340.0" r="2.75"/>
<circle cx="460.0" cy="338.0" r="2.75"/>
<circle cx="464.5" cy="340.0" r="2.75"/>
<circle cx="479.0" cy="336.0" r="2.75"/>
<circle cx="536.0" cy="334.0" r="2.75"/>
<circle cx="591.5" cy="334.0" r="2.75"/>
<circle cx="638.5" cy="365.3" r="2.75"/>
<circle cx="639.3" cy="357.3" r="2.75"/>
<circle cx="638.0" cy="348.0" r="2.75"/>
<circle cx="641.0" cy="345.0" r="2.75"/>
<circle cx="633.5" cy="342.0" r="2.75"/>
<circle cx="683.0" cy="349.0" r="2.75"/>
<circle cx="681.0" cy="345.0" r="2.75"/>
<circle cx="671.0" cy="338.0" r="2.75"/>
<circle cx="656.0" cy="331.0" r="2.75"/>
<circle cx="764.0" cy="327.0" r="2.75"/>
<circle cx="752.0" cy="328.0" r="2.75"/>
<circle cx="739.0" cy="327.0" r="2.75"/>
<circle cx="726.5" cy="324.5" r="2.75"/>
<circle cx="791.0" cy="324.0" r="2.75"/>
<circle cx="796.5" cy="197.4" r="2.75"/>
<circle cx="796.5" cy="202.0" r="2.75"/>
<circle cx="796.5" cy="204.8" r="2.75"/>
<circle cx="822.3" cy="211.3" r="2.75"/>
<circle cx="839.2" cy="204.8" r="2.75"/>
<circle cx="839.2" cy="209.4" r="2.75"/>
<circle cx="843.4" cy="77.3" r="2.75"/>
<circle cx="843.4" cy="83.5" r="2.75"/>
<circle cx="843.4" cy="116.5" r="2.75"/>
<circle cx="843.4" cy="157.4" r="2.75"/>
<circle cx="853.5" cy="222.3" r="2.75"/>
<circle cx="846.6" cy="230.2" r="2.75"/>
<circle cx="843.4" cy="236.2" r="2.75"/>
<circle cx="853.5" cy="236.2" r="2.75"/>
<circle cx="862.3" cy="238.3" r="2.75"/>
<circle cx="839.2" cy="247.5" r="2.75"/>
<circle cx="860.5" cy="249.4" r="2.75"/>
<circle cx="798.3" cy="251.2" r="2.75"/>
<circle cx="891.6" cy="245.2" r="2.75"/>
<circle cx="900.4" cy="253.3" r="2.75"/>
<circle cx="917.5" cy="189.3" r="2.75"/>
<circle cx="917.5" cy="201.3" r="2.75"/>
<circle cx="917.5" cy="216.3" r="2.75"/>
<circle cx="931.4" cy="182.4" r="2.75"/>
<circle cx="931.4" cy="189.3" r="2.75"/>
<circle cx="931.4" cy="191.2" r="2.75"/>
<circle cx="942.5" cy="195.3" r="2.75"/>
<circle cx="942.5" cy="205.5" r="2.75"/>
<circle cx="924.4" cy="218.2" r="2.75"/>
<circle cx="924.4" cy="220.5" r="2.75"/>
<circle cx="924.4" cy="230.2" r="2.75"/>
<circle cx="931.4" cy="224.2" r="2.75"/>
<circle cx="934.4" cy="220.5" r="2.75"/>
<circle cx="940.2" cy="224.2" r="2.75"/>
<circle cx="940.2" cy="234.4" r="2.75"/>
<circle cx="934.4" cy="239.0" r="2.75"/>
<circle cx="935.5" cy="243.6" r="2.75"/>
<circle cx="935.5" cy="248.0" r="2.75"/>
<circle cx="935.5" cy="252.0" r="2.75"/>
<circle cx="935.5" cy="256.0" r="2.75"/>
<circle cx="919.4" cy="253.3" r="2.75"/>
<circle cx="994.4" cy="220.5" r="2.75"/>
<circle cx="996.3" cy="218.2" r="2.75"/>
<circle cx="994.4" cy="230.2" r="2.75"/>
<circle cx="996.3" cy="241.3" r="2.75"/>
<circle cx="994.4" cy="253.3" r="2.75"/>
<circle cx="1004.1" cy="253.3" r="2.75"/>
<circle cx="1034.4" cy="224.2" r="2.75"/>
<circle cx="1034.4" cy="236.2" r="2.75"/>
<circle cx="1034.4" cy="250.5" r="2.75"/>
<circle cx="1027.9" cy="249.4" r="2.75"/>
<circle cx="1057.3" cy="226.3" r="2.75"/>
<circle cx="1057.3" cy="232.5" r="2.75"/>
<circle cx="1057.3" cy="240.1" r="2.75"/>
<circle cx="1061.4" cy="241.3" r="2.75"/>
<circle cx="1061.4" cy="249.4" r="2.75"/>
<circle cx="1079.4" cy="197.4" r="2.75"/>
<circle cx="1079.4" cy="199.0" r="2.75"/>
<circle cx="1079.4" cy="207.3" r="2.75"/>
<circle cx="1079.4" cy="224.2" r="2.75"/>
<circle cx="1088.5" cy="236.2" r="2.75"/>
<circle cx="1088.5" cy="242.4" r="2.75"/>
<circle cx="1096.5" cy="236.2" r="2.75"/>
<circle cx="1083.4" cy="249.4" r="2.75"/>
<circle cx="1093.3" cy="251.2" r="2.75"/>
<circle cx="1113.4" cy="212.4" r="2.75"/>
<circle cx="1113.4" cy="220.5" r="2.75"/>
<circle cx="1113.4" cy="230.2" r="2.75"/>
<circle cx="1113.4" cy="234.4" r="2.75"/>
<circle cx="1113.4" cy="249.4" r="2.75"/>
<circle cx="1122.2" cy="220.5" r="2.75"/>
<circle cx="1122.2" cy="230.2" r="2.75"/>
<circle cx="1122.2" cy="236.2" r="2.75"/>
<circle cx="1122.2" cy="241.3" r="2.75"/>
<circle cx="797.2" cy="323.6" r="2.75"/>
<circle cx="797.2" cy="334.4" r="2.75"/>
<circle cx="797.2" cy="355.4" r="2.75"/>
<circle cx="797.2" cy="367.1" r="2.75"/>
<circle cx="797.2" cy="374.3" r="2.75"/>
<circle cx="822.3" cy="349.4" r="2.75"/>
<circle cx="846.6" cy="334.4" r="2.75"/>
<circle cx="846.6" cy="351.6" r="2.75"/>
<circle cx="846.6" cy="357.1" r="2.75"/>
<circle cx="852.6" cy="326.0" r="2.75"/>
<circle cx="852.6" cy="329.6" r="2.75"/>
<circle cx="854.5" cy="347.5" r="2.75"/>
<circle cx="853.3" cy="367.4" r="2.75"/>
<circle cx="854.5" cy="374.3" r="2.75"/>
<circle cx="863.4" cy="340.4" r="2.75"/>
<circle cx="907.1" cy="367.4" r="2.75"/>
<circle cx="907.1" cy="374.5" r="2.75"/>
<circle cx="907.1" cy="377.9" r="2.75"/>
<circle cx="907.1" cy="390.5" r="2.75"/>
<circle cx="924.3" cy="328.4" r="2.75"/>
<circle cx="924.3" cy="334.4" r="2.75"/>
<circle cx="926.2" cy="342.3" r="2.75"/>
<circle cx="926.2" cy="351.6" r="2.75"/>
<circle cx="926.2" cy="357.1" r="2.75"/>
<circle cx="934.6" cy="332.0" r="2.75"/>
<circle cx="934.6" cy="340.4" r="2.75"/>
<circle cx="934.6" cy="349.4" r="2.75"/>
<circle cx="940.5" cy="332.0" r="2.75"/>
<circle cx="940.5" cy="334.4" r="2.75"/>
<circle cx="942.2" cy="326.0" r="2.75"/>
<circle cx="942.2" cy="342.3" r="2.75"/>
<circle cx="937.7" cy="345.1" r="2.75"/>
<circle cx="940.5" cy="351.1" r="2.75"/>
<circle cx="937.4" cy="363.5" r="2.75"/>
<circle cx="933.4" cy="367.4" r="2.75"/>
<circle cx="937.4" cy="376.7" r="2.75"/>
<circle cx="933.4" cy="382.7" r="2.75"/>
<circle cx="966.3" cy="322.4" r="2.75"/>
<circle cx="966.3" cy="326.0" r="2.75"/>
<circle cx="960.8" cy="320.0" r="2.75"/>
<circle cx="973.3" cy="367.4" r="2.75"/>
<circle cx="973.3" cy="374.5" r="2.75"/>
<circle cx="973.3" cy="382.7" r="2.75"/>
<circle cx="996.7" cy="330.3" r="2.75"/>
<circle cx="993.1" cy="322.4" r="2.75"/>
<circle cx="1034.2" cy="326.5" r="2.75"/>
<circle cx="1036.1" cy="343.9" r="2.75"/>
<circle cx="1036.1" cy="346.3" r="2.75"/>
<circle cx="1036.1" cy="351.1" r="2.75"/>
<circle cx="1034.2" cy="355.4" r="2.75"/>
<circle cx="1034.2" cy="359.5" r="2.75"/>
<circle cx="1034.2" cy="363.5" r="2.75"/>
<circle cx="1059.5" cy="328.4" r="2.75"/>
<circle cx="1061.2" cy="332.0" r="2.75"/>
<circle cx="1061.2" cy="351.6" r="2.75"/>
<circle cx="1061.2" cy="356.4" r="2.75"/>
<circle cx="1060.5" cy="371.4" r="2.75"/>
<circle cx="1060.5" cy="380.5" r="2.75"/>
<circle cx="1085.1" cy="326.5" r="2.75"/>
<circle cx="1084.6" cy="347.5" r="2.75"/>
<circle cx="1085.6" cy="357.6" r="2.75"/>
<circle cx="1085.6" cy="363.5" r="2.75"/>
<circle cx="1085.6" cy="369.5" r="2.75"/>
<circle cx="1083.4" cy="425.2" r="2.75"/>
<circle cx="1084.4" cy="475.4" r="2.75"/>
<circle cx="1084.4" cy="481.8" r="2.75"/>
<circle cx="1084.4" cy="486.1" r="2.75"/>
<circle cx="1096.3" cy="332.0" r="2.75"/>
<circle cx="1110.2" cy="328.4" r="2.75"/>
<circle cx="1117.8" cy="334.4" r="2.75"/>
<circle cx="1115.4" cy="347.5" r="2.75"/>
<circle cx="1115.4" cy="349.4" r="2.75"/>
<circle cx="1115.4" cy="363.5" r="2.75"/>
<circle cx="1115.4" cy="372.1" r="2.75"/>
<circle cx="1127.4" cy="361.9" r="2.75"/>
<circle cx="1127.4" cy="365.4" r="2.75"/>
<circle cx="1127.4" cy="371.4" r="2.75"/>
<circle cx="1143.4" cy="199.3" r="2.75"/>
<circle cx="1143.4" cy="200.9" r="2.75"/>
<circle cx="1143.4" cy="214.4" r="2.75"/>
<circle cx="1143.4" cy="222.2" r="2.75"/>
<circle cx="1138.2" cy="226.2" r="2.75"/>
<circle cx="1134.6" cy="248.2" r="2.75"/>
<circle cx="1139.4" cy="247.5" r="2.75"/>
<circle cx="1124.0" cy="219.8" r="2.75"/>
<circle cx="1124.0" cy="231.7" r="2.75"/>
<circle cx="1124.0" cy="239.9" r="2.75"/>
<circle cx="1170.1" cy="247.5" r="2.75"/>
<circle cx="1181.4" cy="247.5" r="2.75"/>
<circle cx="1166.6" cy="252.9" r="2.75"/>
<circle cx="1185.5" cy="211.6" r="2.75"/>
<circle cx="1185.5" cy="216.3" r="2.75"/>
<circle cx="1185.5" cy="226.2" r="2.75"/>
<circle cx="1205.6" cy="205.7" r="2.75"/>
<circle cx="1205.6" cy="207.3" r="2.75"/>
<circle cx="1205.6" cy="216.3" r="2.75"/>
<circle cx="1201.3" cy="239.5" r="2.75"/>
<circle cx="1202.0" cy="251.3" r="2.75"/>
<circle cx="1208.4" cy="249.4" r="2.75"/>
<circle cx="1237.5" cy="249.4" r="2.75"/>
<circle cx="1250.5" cy="247.5" r="2.75"/>
<circle cx="1253.3" cy="187.4" r="2.75"/>
<circle cx="1253.3" cy="193.4" r="2.75"/>
<circle cx="1253.3" cy="199.3" r="2.75"/>
<circle cx="1262.3" cy="216.3" r="2.75"/>
<circle cx="1262.3" cy="226.2" r="2.75"/>
<circle cx="1262.3" cy="238.7" r="2.75"/>
<circle cx="1260.6" cy="242.3" r="2.75"/>
<circle cx="1262.3" cy="247.0" r="2.75"/>
<circle cx="1259.9" cy="252.9" r="2.75"/>
<circle cx="1271.8" cy="199.3" r="2.75"/>
<circle cx="1273.4" cy="200.9" r="2.75"/>
<circle cx="1271.8" cy="207.3" r="2.75"/>
<circle cx="1272.5" cy="211.6" r="2.75"/>
<circle cx="1273.4" cy="218.2" r="2.75"/>
<circle cx="1277.7" cy="218.2" r="2.75"/>
<circle cx="1277.7" cy="224.6" r="2.75"/>
<circle cx="1271.3" cy="226.2" r="2.75"/>
<circle cx="1275.3" cy="251.3" r="2.75"/>
<circle cx="1285.9" cy="252.9" r="2.75"/>
<circle cx="1293.5" cy="218.2" r="2.75"/>
<circle cx="1293.5" cy="224.6" r="2.75"/>
<circle cx="1293.5" cy="232.4" r="2.75"/>
<circle cx="1293.5" cy="241.1" r="2.75"/>
<circle cx="1291.4" cy="245.1" r="2.75"/>
<circle cx="1299.4" cy="249.4" r="2.75"/>
<circle cx="1305.3" cy="187.4" r="2.75"/>
<circle cx="1305.3" cy="195.0" r="2.75"/>
<circle cx="1305.3" cy="203.3" r="2.75"/>
<circle cx="1317.4" cy="205.7" r="2.75"/>
<circle cx="1317.4" cy="218.2" r="2.75"/>
<circle cx="1317.4" cy="220.8" r="2.75"/>
<circle cx="1317.4" cy="223.4" r="2.75"/>
<circle cx="1319.3" cy="230.5" r="2.75"/>
<circle cx="1319.3" cy="232.8" r="2.75"/>
<circle cx="1318.3" cy="238.7" r="2.75"/>
<circle cx="1318.3" cy="243.5" r="2.75"/>
<circle cx="1319.3" cy="252.9" r="2.75"/>
<circle cx="1344.3" cy="251.3" r="2.75"/>
<circle cx="1352.1" cy="251.3" r="2.75"/>
<circle cx="1371.5" cy="249.4" r="2.75"/>
<circle cx="1382.2" cy="251.3" r="2.75"/>
<circle cx="1400.6" cy="252.9" r="2.75"/>
<circle cx="1127.5" cy="361.5" r="2.75"/>
<circle cx="1127.5" cy="365.0" r="2.75"/>
<circle cx="1127.5" cy="370.9" r="2.75"/>
<circle cx="1138.2" cy="330.3" r="2.75"/>
<circle cx="1139.4" cy="322.5" r="2.75"/>
<circle cx="1185.5" cy="324.8" r="2.75"/>
<circle cx="1185.5" cy="338.3" r="2.75"/>
<circle cx="1185.5" cy="350.8" r="2.75"/>
<circle cx="1185.5" cy="355.6" r="2.75"/>
<circle cx="1185.5" cy="357.4" r="2.75"/>
<circle cx="1185.5" cy="365.0" r="2.75"/>
<circle cx="1185.5" cy="372.1" r="2.75"/>
<circle cx="1201.3" cy="345.2" r="2.75"/>
<circle cx="1210.3" cy="365.0" r="2.75"/>
<circle cx="1210.3" cy="407.1" r="2.75"/>
<circle cx="1210.3" cy="469.0" r="2.75"/>
<circle cx="1210.3" cy="479.7" r="2.75"/>
<circle cx="1210.3" cy="483.9" r="2.75"/>
<circle cx="1238.2" cy="328.4" r="2.75"/>
<circle cx="1238.2" cy="336.2" r="2.75"/>
<circle cx="1247.4" cy="334.3" r="2.75"/>
<circle cx="1247.4" cy="425.3" r="2.75"/>
<circle cx="1247.4" cy="455.3" r="2.75"/>
<circle cx="1247.4" cy="475.4" r="2.75"/>
<circle cx="1247.4" cy="496.2" r="2.75"/>
<circle cx="1252.8" cy="350.8" r="2.75"/>
<circle cx="1255.7" cy="350.8" r="2.75"/>
<circle cx="1255.7" cy="359.1" r="2.75"/>
<circle cx="1255.7" cy="362.6" r="2.75"/>
<circle cx="1254.0" cy="370.2" r="2.75"/>
<circle cx="1252.8" cy="376.4" r="2.75"/>
<circle cx="1252.4" cy="384.4" r="2.75"/>
<circle cx="1261.6" cy="342.6" r="2.75"/>
<circle cx="1261.6" cy="349.2" r="2.75"/>
<circle cx="1261.6" cy="355.6" r="2.75"/>
<circle cx="1261.6" cy="361.5" r="2.75"/>
<circle cx="1271.3" cy="342.6" r="2.75"/>
<circle cx="1271.3" cy="347.3" r="2.75"/>
<circle cx="1271.3" cy="353.2" r="2.75"/>
<circle cx="1272.5" cy="356.7" r="2.75"/>
<circle cx="1272.5" cy="363.8" r="2.75"/>
<circle cx="1272.5" cy="368.0" r="2.75"/>
<circle cx="1272.5" cy="372.1" r="2.75"/>
<circle cx="1276.5" cy="363.4" r="2.75"/>
<circle cx="1280.0" cy="363.4" r="2.75"/>
<circle cx="1276.5" cy="370.2" r="2.75"/>
<circle cx="1280.0" cy="370.9" r="2.75"/>
<circle cx="1280.5" cy="378.0" r="2.75"/>
<circle cx="1280.5" cy="380.4" r="2.75"/>
<circle cx="1276.5" cy="382.3" r="2.75"/>
<circle cx="1290.2" cy="361.5" r="2.75"/>
<circle cx="1290.2" cy="405.2" r="2.75"/>
<circle cx="1290.2" cy="453.2" r="2.75"/>
<circle cx="1290.2" cy="473.3" r="2.75"/>
<circle cx="1290.2" cy="486.3" r="2.75"/>
<circle cx="1300.6" cy="361.5" r="2.75"/>
<circle cx="1300.6" cy="367.4" r="2.75"/>
<circle cx="1300.6" cy="369.7" r="2.75"/>
<circle cx="1299.4" cy="376.4" r="2.75"/>
<circle cx="1305.3" cy="336.2" r="2.75"/>
<circle cx="1307.2" cy="349.2" r="2.75"/>
<circle cx="1307.2" cy="363.4" r="2.75"/>
<circle cx="1307.2" cy="369.3" r="2.75"/>
<circle cx="1319.0" cy="320.1" r="2.75"/>
<circle cx="1318.3" cy="328.4" r="2.75"/>
<circle cx="1319.0" cy="334.3" r="2.75"/>
<circle cx="1319.0" cy="338.0" r="2.75"/>
<circle cx="1319.0" cy="341.5" r="2.75"/>
<circle cx="1319.0" cy="344.9" r="2.75"/>
<circle cx="1319.3" cy="357.4" r="2.75"/>
<circle cx="1336.1" cy="318.2" r="2.75"/>
<circle cx="1345.0" cy="322.5" r="2.75"/>
<circle cx="1354.5" cy="328.4" r="2.75"/>
<circle cx="1358.0" cy="318.2" r="2.75"/>
<circle cx="1372.2" cy="317.0" r="2.75"/>
<circle cx="1387.1" cy="326.5" r="2.75"/>
<circle cx="1413.6" cy="317.0" r="2.75"/>
<circle cx="1437.2" cy="318.2" r="2.75"/>
</g>
<polyline points="119.5,284.5 120.0,284.5 120.5,284.4 121.0,284.3 121.5,284.8 122.0,286.1 122.5,285.5 123.0,285.1 123.5,283.8 124.0,283.9 124.5,283.7 125.0,283.5 125.5,283.1 126.0,283.4 126.5,284.2 127.0,284.4 127.5,284.6 128.0,285.2 128.5,285.5 129.0,284.8 129.5,284.4 130.0,283.9 130.5,284.5 131.0,284.1 131.5,284.2 132.0,283.7 132.5,283.6 133.0,283.8 133.5,283.3 134.0,281.5 134.5,280.6 135.0,281.1 135.5,284.0 136.0,287.1 136.5,289.3 137.0,290.2 137.5,290.2 138.0,289.7 138.5,289.0 139.0,287.9 139.5,286.2 140.0,285.9 140.5,285.0 141.0,285.6 141.5,284.9 142.0,285.2 142.5,285.2 143.0,285.4 143.5,285.7 144.0,285.6 144.5,286.0 145.0,285.2 145.5,285.0 146.0,284.5 146.5,284.4 147.0,284.4 147.5,284.6 148.0,285.1 148.5,285.2 149.0,284.6 149.5,284.4 150.0,284.5 150.5,285.1 151.0,284.7 151.5,284.2 152.0,284.3 152.5,284.1 153.0,284.5 153.5,283.8 154.0,283.6 154.5,283.8 155.0,283.9 155.5,283.9 156.0,283.0 156.5,282.9 157.0,282.9 157.5,284.3 158.0,284.8 158.5,285.4 159.0,285.4 159.5,285.2 160.0,285.6 160.5,284.7 161.0,284.6 161.5,284.5 162.0,284.9 162.5,285.0 163.0,285.1 163.5,285.5 164.0,286.1 164.5,285.9 165.0,284.9 165.5,283.7 166.0,283.7 166.5,284.5 167.0,284.7 167.5,284.3 168.0,283.6 168.5,283.1 169.0,283.4 169.5,283.7 170.0,284.3 170.5,284.0 171.0,284.1 171.5,284.8 172.0,285.0 172.5,284.8 173.0,284.5 173.5,284.2 174.0,284.1 174.5,283.9 175.0,283.9 175.5,283.8 176.0,284.5 176.5,284.3 177.0,283.7 177.5,283.3 178.0,283.1 178.5,284.3 179.0,284.0 179.5,284.4 180.0,284.4 180.5,284.2 181.0,284.0 181.5,284.7 182.0,285.6 182.5,285.4 183.0,284.3 183.5,283.5 184.0,284.3 184.5,284.3 185.0,284.3 185.5,284.3 186.0,284.6 186.5,284.7 187.0,284.1 187.5,283.5 188.0,283.2 188.5,283.9 189.0,284.0 189.5,284.9 190.0,285.2 190.5,285.1 191.0,284.6 191.5,283.8 192.0,283.5 192.5,283.7 193.0,284.2 193.5,284.8 194.0,285.1 194.5,285.5 195.0,286.4 195.5,286.1 196.0,285.7 196.5,283.9 197.0,283.8 197.5,283.2 198.0,283.8 198.5,283.4 199.0,283.8 199.5,284.5 200.0,284.6 200.5,284.7 201.0,284.5 201.5,285.6 202.0,285.7 202.5,286.0 203.0,285.0 203.5,284.6 204.0,284.5 204.5,284.9 205.0,285.7 205.5,285.0 206.0,285.1 206.5,284.7 207.0,285.3 207.5,285.2 208.0,285.1 208.5,285.1 209.0,284.1 209.5,284.2 210.0,284.3 210.5,285.5 211.0,286.2 211.5,286.3 212.0,285.6 212.5,284.6 213.0,284.4 213.5,283.9 214.0,284.0 214.5,282.9 215.0,283.5 215.5,284.3 216.0,285.0 216.5,285.2 217.0,284.0 217.5,284.5 218.0,284.4 218.5,284.4 219.0,284.1 219.5,284.8 220.0,285.3 220.5,285.9 221.0,284.5 221.5,284.3 222.0,284.2 222.5,284.2 223.0,285.2 223.5,284.8 224.0,285.6 224.5,284.1 225.0,284.0 225.5,284.0 226.0,284.6 226.5,284.9 227.0,285.2 227.5,285.4 228.0,285.0 228.5,284.6 229.0,284.4 229.5,284.6 230.0,284.9 230.5,283.9 231.0,284.5 231.5,284.7 232.0,286.3 232.5,286.8 233.0,286.0 233.5,285.2 234.0,284.6 234.5,284.2 235.0,283.9 235.5,282.9 236.0,283.3 236.5,283.2 237.0,284.5 237.5,286.0 238.0,287.4 238.5,287.6 239.0,287.2 239.5,286.9 240.0,285.9 240.5,286.1 241.0,285.5 241.5,286.9 242.0,286.7 242.5,286.9 243.0,286.0 243.5,285.7 244.0,284.9 244.5,284.9 245.0,285.0 245.5,285.9 246.0,286.0 246.5,286.2 247.0,286.9 247.5,286.9 248.0,286.5 248.5,286.2 249.0,286.3 249.5,285.7 250.0,284.8 250.5,284.1 251.0,284.3 251.5,285.1 252.0,285.3 252.5,285.4 253.0,285.2 253.5,284.5 254.0,284.4 254.5,284.3 255.0,284.9 255.5,285.8 256.0,285.6 256.5,286.4 257.0,285.5 257.5,285.8 258.0,285.2 258.5,285.0 259.0,284.8 259.5,284.6 260.0,285.2 260.5,285.8 261.0,286.1 261.5,286.1 262.0,285.3 262.5,286.1 263.0,286.6 263.5,286.5 264.0,285.1 264.5,284.5 265.0,284.7 265.5,285.2 266.0,285.4 266.5,285.3 267.0,285.1 267.5,284.4 268.0,285.1 268.5,285.6 269.0,285.3 269.5,284.5 270.0,283.9 270.5,284.1 271.0,284.3 271.5,284.4 272.0,284.4 272.5,283.6 273.0,285.4 273.5,285.7 274.0,285.1 274.5,284.0 275.0,284.1 275.5,285.8 276.0,285.3 276.5,284.7 277.0,284.3 277.5,284.0 278.0,285.3 278.5,285.7 279.0,286.0 279.5,284.9 280.0,284.2 280.5,284.1 281.0,284.7 281.5,285.0 282.0,285.7 282.5,286.3 283.0,286.7 283.5,285.3 284.0,284.1 284.5,284.2 285.0,284.9 285.5,285.0 286.0,285.4 286.5,285.7 287.0,286.1 287.5,286.1 288.0,285.7 288.5,285.8 289.0,284.5 289.5,285.2 290.0,285.0 290.5,285.9 291.0,285.1 291.5,285.3 292.0,284.9 292.5,285.0 293.0,284.7 293.5,285.5 294.0,285.2 294.5,285.6 295.0,285.2 295.5,285.8 296.0,285.8 296.5,285.9 297.0,285.8 297.5,285.0 298.0,286.0 298.5,286.2 299.0,287.0 299.5,286.2 300.0,285.9 300.5,285.3 301.0,284.7 301.5,284.7 302.0,285.4 302.5,285.3 303.0,286.0 303.5,285.3 304.0,284.9 304.5,284.3 305.0,284.9 305.5,285.2 306.0,285.3 306.5,284.5 307.0,285.2 307.5,285.3 308.0,286.1 308.5,285.7 309.0,285.6 309.5,285.9 310.0,285.5 310.5,285.1 311.0,285.6 311.5,285.8 312.0,286.5 312.5,286.0 313.0,285.6 313.5,285.2 314.0,284.8 314.5,285.5 315.0,285.1 315.5,285.2 316.0,285.1 316.5,285.3 317.0,284.8 317.5,284.9 318.0,285.2 318.5,286.3 319.0,285.9 319.5,285.7 320.0,285.5 320.5,286.5 321.0,286.7 321.5,286.1 322.0,284.9 322.5,284.7 323.0,284.4 323.5,284.8 324.0,285.1 324.5,285.7 325.0,285.3 325.5,284.3 326.0,283.1 326.5,282.5 327.0,281.0 327.5,280.2 328.0,278.6 328.5,277.5 329.0,276.9 329.5,277.1 330.0,278.6 330.5,280.1 331.0,282.2 331.5,283.6 332.0,284.2 332.5,284.8 333.0,285.1 333.5,285.0 334.0,284.1 334.5,284.2 335.0,285.1 335.5,286.3 336.0,286.8 336.5,286.4 337.0,285.2 337.5,284.5 338.0,285.5 338.5,285.4 339.0,285.8 339.5,284.3 340.0,284.7 340.5,285.4 341.0,285.7 341.5,285.7 342.0,285.6 342.5,285.5 343.0,285.8 343.5,286.0 344.0,286.4 344.5,286.5 345.0,285.5 345.5,285.2 346.0,285.5 346.5,286.1 347.0,285.9 347.5,286.1 348.0,285.6 348.5,286.6 349.0,285.3 349.5,286.1 350.0,285.8 350.5,286.3 351.0,285.9 351.5,285.7 352.0,285.3 352.5,285.5 353.0,285.7 353.5,285.9 354.0,286.3 354.5,285.6 355.0,286.1 355.5,286.9 356.0,287.3 356.5,288.4 357.0,286.9 357.5,286.3 358.0,285.1 358.5,285.3 359.0,285.7 359.5,286.0 360.0,286.6 360.5,286.4 361.0,286.7 361.5,285.3 362.0,285.8 362.5,285.5 363.0,286.7 363.5,286.3 364.0,285.6 364.5,286.3 365.0,286.5 365.5,287.6 366.0,286.6 366.5,287.5 367.0,285.3 367.5,285.1 368.0,284.3 368.5,286.3 369.0,286.6 369.5,286.2 370.0,285.5 370.5,285.1 371.0,285.2 371.5,284.9 372.0,285.7 372.5,285.9 373.0,286.8 373.5,286.8 374.0,286.9 374.5,286.5 375.0,285.4 375.5,284.9 376.0,285.0 376.5,286.4 377.0,286.3 377.5,286.7 378.0,285.9 378.5,286.5 379.0,286.0 379.5,285.3 380.0,284.8 380.5,284.2 381.0,285.3 381.5,284.9 382.0,286.0 382.5,285.8 383.0,287.2 383.5,286.7 384.0,286.9 384.5,286.1 385.0,285.9 385.5,285.4 386.0,285.3 386.5,285.7 387.0,286.3 387.5,286.7 388.0,286.1 388.5,285.1 389.0,284.1 389.5,284.7 390.0,285.4 390.5,286.2 391.0,285.6 391.5,285.3 392.0,285.5 392.5,285.4 393.0,286.1 393.5,286.1 394.0,286.6 394.5,286.6 395.0,286.2 395.5,285.9 396.0,285.5 396.5,285.9 397.0,286.0 397.5,286.2 398.0,285.9 398.5,286.4 399.0,286.4 399.5,286.0 400.0,285.4 400.5,284.8 401.0,285.4 401.5,285.2 402.0,286.0 402.5,285.5 403.0,284.7 403.5,285.5 404.0,286.0 404.5,287.2 405.0,286.9 405.5,286.9 406.0,287.3 406.5,286.4 407.0,286.8 407.5,286.6 408.0,286.7 408.5,286.1 409.0,285.8 409.5,285.9 410.0,286.2 410.5,285.7 411.0,285.6 411.5,286.1 412.0,286.9 412.5,286.7 413.0,285.8 413.5,285.7 414.0,285.4 414.5,285.8 415.0,285.0 415.5,286.1 416.0,287.1 416.5,288.3 417.0,288.2 417.5,286.7 418.0,286.1 418.5,286.0 419.0,287.0 419.5,287.0 420.0,286.9 420.5,286.1 421.0,287.6 421.5,286.7 422.0,287.1 422.5,285.7 423.0,286.4 423.5,285.7 424.0,286.0 424.5,285.4 425.0,286.0 425.5,285.8 426.0,285.8 426.5,285.4 427.0,285.3 427.5,285.8 428.0,286.2 428.5,286.0 429.0,286.0 429.5,285.3 430.0,286.2 430.5,286.8 431.0,287.6 431.5,286.8 432.0,286.9 432.5,287.3 433.0,288.4 433.5,287.5 434.0,287.9 434.5,287.4 435.0,288.0 435.5,286.9 436.0,287.0 436.5,286.4 437.0,287.0 437.5,286.9 438.0,286.2 438.5,286.1 439.0,286.0 439.5,287.0 440.0,287.7 440.5,288.1 441.0,288.3 441.5,287.6 442.0,287.3 442.5,286.6 443.0,286.7 443.5,286.2 444.0,287.7 444.5,287.2 445.0,287.1 445.5,285.9 446.0,286.0 446.5,285.7 447.0,285.9 447.5,285.6 448.0,285.4 448.5,285.8 449.0,285.4 449.5,286.5 450.0,285.4 450.5,286.2 451.0,285.7 451.5,286.7 452.0,286.3 452.5,286.5 453.0,286.6 453.5,286.8 454.0,287.1 454.5,286.5 455.0,286.1 455.5,286.0 456.0,286.1 456.5,286.2 457.0,285.9 457.5,286.3 458.0,287.1 458.5,287.2 459.0,286.1 459.5,285.6 460.0,285.8 460.5,286.6 461.0,286.9 461.5,286.6 462.0,286.6 462.5,286.5 463.0,286.4 463.5,286.1 464.0,286.2 464.5,286.5 465.0,286.2 465.5,285.5 466.0,284.8 466.5,285.3 467.0,286.3 467.5,287.0 468.0,287.0 468.5,287.2 469.0,286.7 469.5,287.1 470.0,286.5 470.5,286.6 471.0,286.3 471.5,286.2 472.0,286.8 472.5,286.9 473.0,287.4 473.5,286.5 474.0,286.8 474.5,286.1 475.0,286.1 475.5,286.5 476.0,286.6 476.5,287.5 477.0,286.8 477.5,287.9 478.0,288.2 478.5,289.7 479.0,289.2 479.5,288.4 480.0,286.6 480.5,284.7 481.0,282.8 481.5,279.9 482.0,278.3 482.5,277.3 483.0,278.0 483.5,278.8 484.0,280.2 484.5,282.1 485.0,284.1 485.5,285.7 486.0,286.8 486.5,287.3 487.0,287.3 487.5,287.2 488.0,286.7 488.5,286.2 489.0,285.7 489.5,285.5 490.0,286.1 490.5,286.3 491.0,286.5 491.5,285.3 492.0,285.2 492.5,284.7 493.0,285.4 493.5,285.6 494.0,287.0 494.5,286.5 495.0,286.2 495.5,286.1 496.0,286.3 496.5,287.0 497.0,286.5 497.5,286.4 498.0,285.4 498.5,286.2 499.0,287.1 499.5,287.8 500.0,287.1 500.5,285.8 501.0,285.5 501.5,286.2 502.0,287.0 502.5,287.1 503.0,287.1 503.5,286.8 504.0,286.6 504.5,286.4 505.0,286.9 505.5,287.7 506.0,287.3 506.5,286.8 507.0,285.8 507.5,286.2 508.0,286.2 508.5,286.9 509.0,286.6 509.5,287.6 510.0,287.8 510.5,287.8 511.0,287.8 511.5,287.1 512.0,288.0 512.5,287.1 513.0,287.7 513.5,286.4 514.0,287.7 514.5,287.4 515.0,287.1 515.5,287.0 516.0,286.5 516.5,287.1 517.0,285.8 517.5,286.0 518.0,285.6 518.5,285.5 519.0,285.0 519.5,286.6 520.0,287.7 520.5,288.8 521.0,287.8 521.5,287.5 522.0,286.8 522.5,287.5 523.0,286.1 523.5,286.4 524.0,286.0 524.5,286.9 525.0,286.4 525.5,286.2 526.0,286.6 526.5,287.3 527.0,287.5 527.5,287.2 528.0,287.3 528.5,287.0 529.0,288.0 529.5,287.2 530.0,287.7 530.5,286.5 531.0,286.5 531.5,286.1 532.0,286.7 532.5,286.4 533.0,285.8 533.5,285.7 534.0,287.0 534.5,287.0 535.0,286.8 535.5,285.6 536.0,285.8 536.5,285.8 537.0,285.6 537.5,285.5 538.0,286.2 538.5,287.1 539.0,287.2 539.5,287.0 540.0,286.3 540.5,286.7 541.0,286.7 541.5,286.9 542.0,286.6 542.5,286.2 543.0,286.1 543.5,285.5 544.0,285.1 544.5,285.2 545.0,286.2 545.5,287.5 546.0,287.6 546.5,288.2 547.0,288.0 547.5,287.7 548.0,286.5 548.5,286.1 549.0,286.7 549.5,287.1 550.0,287.1 550.5,286.8 551.0,286.9 551.5,286.7 552.0,287.3 552.5,288.0 553.0,287.5 553.5,287.8 554.0,287.2 554.5,287.4 555.0,286.4 555.5,286.4 556.0,286.9 556.5,286.9 557.0,287.2 557.5,287.4 558.0,287.6 558.5,286.3 559.0,286.2 559.5,286.3 560.0,287.3 560.5,286.8 561.0,286.2 561.5,286.1 562.0,286.2 562.5,286.4 563.0,286.6 563.5,286.7 564.0,287.0 564.5,286.4 565.0,286.4 565.5,286.4 566.0,287.1 566.5,288.1 567.0,287.9 567.5,286.9 568.0,285.6 568.5,285.8 569.0,286.9 569.5,286.8 570.0,287.0 570.5,286.8 571.0,287.2 571.5,286.7 572.0,286.6 572.5,286.7 573.0,286.5 573.5,287.4 574.0,287.2 574.5,287.8 575.0,286.5 575.5,286.7 576.0,286.7 576.5,287.6 577.0,287.6 577.5,286.4 578.0,286.2 578.5,286.4 579.0,287.1 579.5,287.0 580.0,286.4 580.5,286.5 581.0,286.1 581.5,286.0 582.0,286.1 582.5,286.2 583.0,287.4 583.5,287.8 584.0,287.4 584.5,285.6 585.0,284.5 585.5,284.3 586.0,283.3 586.5,282.5 587.0,281.3 587.5,282.5 588.0,283.0 588.5,284.1 589.0,284.9 589.5,285.8 590.0,286.0 590.5,286.6 591.0,286.9 591.5,287.7 592.0,288.2 592.5,287.3 593.0,286.5 593.5,285.0 594.0,286.3 594.5,287.2 595.0,287.5 595.5,286.5 596.0,286.2 596.5,286.4 597.0,287.4 597.5,287.3 598.0,287.6 598.5,286.4 599.0,287.2 599.5,286.5 600.0,286.2 600.5,285.5 601.0,286.1 601.5,287.3 602.0,286.0 602.5,286.4 603.0,286.7 603.5,287.7 604.0,288.3 604.5,287.5 605.0,288.0 605.5,287.2 606.0,287.5 606.5,287.6 607.0,287.9 607.5,287.3 608.0,287.3 608.5,286.0 609.0,286.1 609.5,284.9 610.0,285.4 610.5,285.7 611.0,286.7 611.5,287.3 612.0,288.0 612.5,287.7 613.0,287.5 613.5,286.3 614.0,286.5 614.5,285.9 615.0,286.4 615.5,285.8 616.0,285.6 616.5,286.0 617.0,286.5 617.5,286.8 618.0,286.9 618.5,286.4 619.0,286.7 619.5,286.2 620.0,286.5 620.5,286.8 621.0,287.0 621.5,288.0 622.0,287.1 622.5,287.9 623.0,286.9 623.5,287.8 624.0,287.3 624.5,286.8 625.0,285.7 625.5,285.8 626.0,286.9 626.5,287.6 627.0,287.2 627.5,286.5 628.0,286.4 628.5,286.6 629.0,287.2 629.5,287.5 630.0,287.9 630.5,287.0 631.0,287.8 631.5,287.5 632.0,289.3 632.5,288.2 633.0,287.6 633.5,286.9 634.0,287.2 634.5,288.3 635.0,287.4 635.5,287.4 636.0,286.2 636.5,286.3 637.0,286.1 637.5,286.6 638.0,286.0 638.5,286.6 639.0,286.2 639.5,286.5 640.0,286.1 640.5,286.7 641.0,287.0 641.5,286.0 642.0,285.6 642.5,285.7 643.0,286.3 643.5,286.8 644.0,285.5 644.5,285.7 645.0,285.0 645.5,286.3 646.0,286.0 646.5,286.5 647.0,286.4 647.5,286.3 648.0,286.9 648.5,286.9 649.0,287.3 649.5,286.5 650.0,286.1 650.5,286.3 651.0,286.2 651.5,286.3 652.0,286.2 652.5,287.3 653.0,288.4 653.5,288.6 654.0,286.9 654.5,286.3 655.0,286.2 655.5,287.2 656.0,286.6 656.5,285.7 657.0,285.8 657.5,286.5 658.0,288.4 658.5,288.5 659.0,288.4 659.5,287.9 660.0,287.9 660.5,286.4 661.0,286.0 661.5,286.1 662.0,288.2 662.5,288.2 663.0,288.1 663.5,286.8 664.0,286.8 664.5,285.4 665.0,285.7 665.5,284.5 666.0,285.1 666.5,285.2 667.0,285.9 667.5,286.2 668.0,286.6 668.5,286.6 669.0,287.2 669.5,286.0 670.0,285.9 670.5,285.0 671.0,286.4 671.5,286.7 672.0,287.8 672.5,287.7 673.0,287.8 673.5,287.4 674.0,287.2 674.5,286.8 675.0,286.6 675.5,286.1 676.0,286.1 676.5,285.8 677.0,285.5 677.5,285.5 678.0,285.7 678.5,286.1 679.0,286.2 679.5,286.4 680.0,286.3 680.5,286.3 681.0,286.6 681.5,286.9 682.0,286.6 682.5,286.7 683.0,287.3 683.5,288.1 684.0,288.3 684.5,288.2 685.0,288.6 685.5,288.6 686.0,287.6 686.5,286.3 687.0,286.6 687.5,286.1 688.0,286.9 688.5,286.9 689.0,287.7 689.5,287.4 690.0,287.1 690.5,287.7 691.0,287.8 691.5,287.4 692.0,287.2 692.5,287.0 693.0,287.2 693.5,287.1 694.0,287.1 694.5,287.0 695.0,286.6 695.5,287.4 696.0,287.8 696.5,287.6 697.0,286.1 697.5,286.0 698.0,286.8 698.5,288.2 699.0,289.0 699.5,289.3 700.0,287.8 700.5,286.4 701.0,285.1 701.5,286.3 702.0,286.2 702.5,286.2 703.0,285.8 703.5,285.5 704.0,285.8 704.5,285.7 705.0,285.5 705.5,285.1 706.0,285.1 706.5,285.3 707.0,285.6 707.5,286.1 708.0,287.2 708.5,288.4 709.0,287.0 709.5,286.5 710.0,286.0 710.5,287.0 711.0,287.5 711.5,286.8 712.0,285.5 712.5,283.6 713.0,283.2 713.5,282.9 714.0,281.6 714.5,279.6 715.0,278.6 715.5,279.4 716.0,280.3 716.5,281.7 717.0,283.1 717.5,284.7 718.0,286.4 718.5,288.3 719.0,289.8 719.5,290.4 720.0,290.6 720.5,291.3 721.0,291.7 721.5,290.7 722.0,288.9 722.5,287.6 723.0,287.3 723.5,287.4 724.0,287.1 724.5,287.1 725.0,287.5 725.5,287.4 726.0,286.9 726.5,285.7 727.0,286.4 727.5,286.1 728.0,287.3 728.5,286.2 729.0,287.0 729.5,286.9 730.0,286.6 730.5,286.0 731.0,286.1 731.5,286.9 732.0,287.3 732.5,287.2 733.0,286.4 733.5,285.5 734.0,285.5 734.5,286.6 735.0,288.5 735.5,289.2 736.0,289.4 736.5,288.9 737.0,287.9 737.5,287.7 738.0,286.8 738.5,286.8 739.0,285.8 739.5,285.3 740.0,285.0 740.5,284.6 741.0,285.6 741.5,286.3 742.0,286.8 742.5,287.3 743.0,286.7 743.5,287.7 744.0,287.5 744.5,286.9 745.0,285.8 745.5,286.7 746.0,286.8 746.5,286.7 747.0,285.3 747.5,285.4 748.0,286.2 748.5,287.0 749.0,287.3 749.5,287.1 750.0,286.9 750.5,287.8 751.0,287.9 751.5,287.9 752.0,288.3 752.5,288.5 753.0,288.3 753.5,287.0 754.0,286.9 754.5,287.3 755.0,287.2 755.5,287.0 756.0,286.9 756.5,286.6 757.0,285.6 757.5,285.5 758.0,286.5 758.5,287.2 759.0,287.5 759.5,286.7 760.0,286.8 760.5,286.9 761.0,287.4 761.5,287.9 762.0,287.7 762.5,287.6 763.0,287.4 763.5,286.5 764.0,286.5 764.5,286.4 765.0,286.2 765.5,286.6 766.0,286.9 766.5,287.9 767.0,287.0 767.5,286.2 768.0,285.9 768.5,286.9 769.0,287.0 769.5,287.4 770.0,287.6 770.5,287.9 771.0,286.8 771.5,285.7 772.0,286.5 772.5,286.4 773.0,286.7 773.5,286.1 774.0,287.5 774.5,287.8 775.0,287.4 775.5,287.9 776.0,287.5 776.5,288.6 777.0,286.8 777.5,286.9 778.0,286.8 778.5,286.9 779.0,287.3 779.5,287.2 780.0,287.0 780.5,286.2 781.0,285.6 781.5,285.7 782.0,286.7 782.5,286.3 783.0,286.4 783.5,285.9 784.0,286.1 784.5,286.0 785.0,286.4 785.5,287.1 786.0,287.2 786.5,286.0 787.0,286.3 787.5,286.5 788.0,288.4 788.5,287.3 789.0,287.7 789.5,286.8 790.0,287.2 790.5,287.5 791.0,287.7 791.5,287.2 792.0,286.3 792.5,285.2 793.0,285.9 793.5,286.2 794.0,286.8 794.5,286.5 795.0,286.8 795.5,286.6 796.0,286.4 796.5,286.2 797.0,286.9 797.5,287.1 798.0,286.8 798.5,286.6 799.0,287.4 799.5,288.0 800.0,287.8 800.5,287.4 801.0,286.9 801.5,286.4 802.0,286.0 802.5,286.2 803.0,286.7 803.5,286.8 804.0,286.7 804.5,286.6 805.0,287.0 805.5,287.1 806.0,286.8 806.5,286.3 807.0,286.2 807.5,286.8 808.0,286.9 808.5,287.4 809.0,286.6 809.5,285.8 810.0,285.0 810.5,286.1 811.0,288.0 811.5,289.0 812.0,288.8 812.5,287.3 813.0,286.1 813.5,286.0 814.0,286.7 814.5,286.6 815.0,286.5 815.5,286.9 816.0,288.4 816.5,288.8 817.0,288.3 817.5,286.0 818.0,286.0 818.5,285.4 819.0,286.7 819.5,286.9 820.0,286.8 820.5,287.0 821.0,287.3 821.5,288.1 822.0,289.3 822.5,289.7 823.0,288.6 823.5,287.6 824.0,286.6 824.5,287.3 825.0,286.6 825.5,286.4 826.0,286.4 826.5,286.6 827.0,286.9 827.5,286.7 828.0,287.5 828.5,288.0 829.0,288.8 829.5,289.2 830.0,289.1 830.5,288.4 831.0,287.7 831.5,287.1 832.0,286.1 832.5,287.2 833.0,287.8 833.5,289.7 834.0,288.1 834.5,287.9 835.0,287.6 835.5,287.8 836.0,288.6 836.5,287.8 837.0,287.9 837.5,287.0 838.0,286.5 838.5,286.2 839.0,286.0 839.5,286.3 840.0,285.3 840.5,283.8 841.0,283.1 841.5,282.2 842.0,281.9 842.5,280.6 843.0,280.9 843.5,281.9 844.0,283.7 844.5,285.3 845.0,285.8 845.5,287.1 846.0,289.3 846.5,290.4 847.0,290.5 847.5,289.5 848.0,288.8 848.5,288.1 849.0,287.6 849.5,287.0 850.0,287.2 850.5,287.4 851.0,288.5 851.5,288.1 852.0,287.0 852.5,286.5 853.0,286.8 853.5,288.0 854.0,287.8 854.5,288.1 855.0,288.1 855.5,287.5 856.0,287.2 856.5,287.1 857.0,287.9 857.5,287.0 858.0,286.8 858.5,287.1 859.0,288.3 859.5,288.4 860.0,289.2 860.5,289.3 861.0,288.1 861.5,287.1 862.0,287.0 862.5,288.4 863.0,288.0 863.5,287.6 864.0,287.7 864.5,288.2 865.0,288.2 865.5,288.6 866.0,289.0 866.5,289.4 867.0,288.5 867.5,287.0 868.0,286.3 868.5,286.1 869.0,286.6 869.5,287.4 870.0,287.0 870.5,287.5 871.0,286.2 871.5,287.1 872.0,286.3 872.5,285.8 873.0,285.6 873.5,287.3 874.0,288.3 874.5,287.9 875.0,287.3 875.5,288.1 876.0,288.1 876.5,287.6 877.0,287.3 877.5,288.0 878.0,287.8 878.5,287.5 879.0,288.0 879.5,288.6 880.0,289.4 880.5,287.8 881.0,288.6 881.5,288.3 882.0,288.0 882.5,287.2 883.0,286.6 883.5,287.8 884.0,287.5 884.5,287.9 885.0,287.7 885.5,287.6 886.0,288.5 886.5,288.5 887.0,288.8 887.5,289.0 888.0,290.2 888.5,289.7 889.0,287.7 889.5,287.0 890.0,286.9 890.5,287.7 891.0,287.5 891.5,288.6 892.0,289.0 892.5,288.8 893.0,288.4 893.5,288.2 894.0,289.1 894.5,289.6 895.0,289.3 895.5,287.4 896.0,286.4 896.5,287.0 897.0,288.1 897.5,288.8 898.0,287.7 898.5,288.2 899.0,288.4 899.5,288.6 900.0,288.4 900.5,287.7 901.0,287.3 901.5,286.8 902.0,286.6 902.5,287.5 903.0,287.5 903.5,288.3 904.0,288.8 904.5,289.7 905.0,290.5 905.5,290.4 906.0,291.2 906.5,291.3 907.0,291.5 907.5,289.7 908.0,287.9 908.5,286.9 909.0,287.3 909.5,287.6 910.0,287.1 910.5,286.9 911.0,287.4 911.5,287.7 912.0,288.4 912.5,288.2 913.0,289.2 913.5,288.3 914.0,288.7 914.5,287.5 915.0,288.6 915.5,289.0 916.0,290.5 916.5,289.8 917.0,289.4 917.5,288.9 918.0,288.5 918.5,289.4 919.0,288.9 919.5,288.5 920.0,286.9 920.5,286.9 921.0,287.1 921.5,286.7 922.0,287.3 922.5,288.4 923.0,288.8 923.5,288.8 924.0,287.5 924.5,287.5 925.0,284.7 925.5,284.0 926.0,282.9 926.5,283.8 927.0,284.9 927.5,285.7 928.0,287.3 928.5,288.0 929.0,288.1 929.5,286.9 930.0,286.8 930.5,287.5 931.0,288.4 931.5,287.6 932.0,287.7 932.5,287.2 933.0,287.6 933.5,288.2 934.0,289.5 934.5,288.2 935.0,286.9 935.5,286.6 936.0,287.3 936.5,287.5 937.0,286.8 937.5,287.7 938.0,289.0 938.5,290.1 939.0,289.8 939.5,288.6 940.0,288.1 940.5,288.1 941.0,287.8 941.5,288.0 942.0,288.0 942.5,288.8 943.0,288.8 943.5,288.6 944.0,287.4 944.5,286.1 945.0,286.1 945.5,286.3 946.0,287.5 946.5,288.2 947.0,288.8 947.5,288.0 948.0,287.5 948.5,288.0 949.0,287.3 949.5,287.8 950.0,287.5 950.5,288.2 951.0,287.2 951.5,286.6 952.0,286.8 952.5,287.6 953.0,287.9 953.5,287.3 954.0,287.1 954.5,287.5 955.0,287.9 955.5,288.5 956.0,288.0 956.5,287.9 957.0,287.2 957.5,287.4 958.0,287.0 958.5,287.5 959.0,287.0 959.5,287.6 960.0,288.4 960.5,289.1 961.0,289.1 961.5,286.6 962.0,285.8 962.5,285.8 963.0,287.7 963.5,288.5 964.0,288.4 964.5,287.4 965.0,288.6 965.5,288.9 966.0,289.4 966.5,288.1 967.0,287.7 967.5,286.9 968.0,286.3 968.5,287.1 969.0,287.6 969.5,287.4 970.0,287.5 970.5,287.6 971.0,288.2 971.5,287.2 972.0,287.3 972.5,287.3 973.0,287.3 973.5,287.8 974.0,287.4 974.5,287.8 975.0,287.1 975.5,287.6 976.0,288.0 976.5,287.9 977.0,288.4 977.5,287.3 978.0,287.1 978.5,286.9 979.0,287.4 979.5,287.0 980.0,286.7 980.5,287.9 981.0,288.7 981.5,288.8 982.0,287.4 982.5,287.9 983.0,287.8 983.5,287.6 984.0,286.5 984.5,286.7 985.0,288.0 985.5,289.1 986.0,289.8 986.5,289.0 987.0,288.9 987.5,288.4 988.0,288.6 988.5,288.6 989.0,287.4 989.5,286.9 990.0,286.7 990.5,288.0 991.0,288.3 991.5,287.1 992.0,286.4 992.5,286.7 993.0,288.0 993.5,289.2 994.0,289.0 994.5,288.6 995.0,287.6 995.5,288.8 996.0,288.8 996.5,289.8 997.0,288.8 997.5,289.2 998.0,288.7 998.5,287.9 999.0,288.0 999.5,287.0 1000.0,287.4 1000.5,287.1 1001.0,287.5 1001.5,287.0 1002.0,286.3 1002.5,287.0 1003.0,287.3 1003.5,287.2 1004.0,286.5 1004.5,287.3 1005.0,287.8 1005.5,288.4 1006.0,287.7 1006.5,288.5 1007.0,287.9 1007.5,287.3 1008.0,286.4 1008.5,286.5 1009.0,288.0 1009.5,287.3 1010.0,287.2 1010.5,287.3 1011.0,288.2 1011.5,289.0 1012.0,288.0 1012.5,287.4 1013.0,286.4 1013.5,287.1 1014.0,287.7 1014.5,287.5 1015.0,288.2 1015.5,289.7 1016.0,290.1 1016.5,289.8 1017.0,288.6 1017.5,288.3 1018.0,287.1 1018.5,287.4 1019.0,288.0 1019.5,287.5 1020.0,286.8 1020.5,286.3 1021.0,287.0 1021.5,287.6 1022.0,288.1 1022.5,288.6 1023.0,288.4 1023.5,288.0 1024.0,288.1 1024.5,287.5 1025.0,287.7 1025.5,287.1 1026.0,288.2 1026.5,288.2 1027.0,288.1 1027.5,287.0 1028.0,286.5 1028.5,286.7 1029.0,286.7 1029.5,286.8 1030.0,287.5 1030.5,288.7 1031.0,289.6 1031.5,288.9 1032.0,289.4 1032.5,288.9 1033.0,288.3 1033.5,287.3 1034.0,287.5 1034.5,287.8 1035.0,287.7 1035.5,288.0 1036.0,288.7 1036.5,287.9 1037.0,287.8 1037.5,287.1 1038.0,287.5 1038.5,286.9 1039.0,287.0 1039.5,286.7 1040.0,287.4 1040.5,288.4 1041.0,289.6 1041.5,289.1 1042.0,288.3 1042.5,287.2 1043.0,286.9 1043.5,286.3 1044.0,286.3 1044.5,285.9 1045.0,286.9 1045.5,287.5 1046.0,288.6 1046.5,288.0 1047.0,287.9 1047.5,287.5 1048.0,287.8 1048.5,287.4 1049.0,286.7 1049.5,286.3 1050.0,287.0 1050.5,287.7 1051.0,287.3 1051.5,287.1 1052.0,287.3 1052.5,288.0 1053.0,287.4 1053.5,287.9 1054.0,288.6 1054.5,289.7 1055.0,289.5 1055.5,288.1 1056.0,286.7 1056.5,286.7 1057.0,287.3 1057.5,287.1 1058.0,285.0 1058.5,284.4 1059.0,284.0 1059.5,284.6 1060.0,284.3 1060.5,285.4 1061.0,287.0 1061.5,287.7 1062.0,288.2 1062.5,286.9 1063.0,287.2 1063.5,286.8 1064.0,288.1 1064.5,287.5 1065.0,287.2 1065.5,287.1 1066.0,286.9 1066.5,287.5 1067.0,288.1 1067.5,288.0 1068.0,287.2 1068.5,286.6 1069.0,287.4 1069.5,288.1 1070.0,287.3 1070.5,287.4 1071.0,287.7 1071.5,289.7 1072.0,289.5 1072.5,289.6 1073.0,288.5 1073.5,289.0 1074.0,288.8 1074.5,289.5 1075.0,288.8 1075.5,288.2 1076.0,286.8 1076.5,287.2 1077.0,287.4 1077.5,288.2 1078.0,287.7 1078.5,287.9 1079.0,287.7 1079.5,287.6 1080.0,287.0 1080.5,286.1 1081.0,287.3 1081.5,289.2 1082.0,292.2 1082.5,293.2 1083.0,294.7 1083.5,296.2 1084.0,297.3 1084.5,296.6 1085.0,294.5 1085.5,293.5 1086.0,292.1 1086.5,291.2 1087.0,289.2 1087.5,288.8 1088.0,287.9 1088.5,287.7 1089.0,286.8 1089.5,286.8 1090.0,287.2 1090.5,286.9 1091.0,287.6 1091.5,287.3 1092.0,288.9 1092.5,288.6 1093.0,289.0 1093.5,287.6 1094.0,286.1 1094.5,286.2 1095.0,287.0 1095.5,287.7 1096.0,286.7 1096.5,285.6 1097.0,286.4 1097.5,287.2 1098.0,288.4 1098.5,288.0 1099.0,287.5 1099.5,287.2 1100.0,287.8 1100.5,287.6 1101.0,286.9 1101.5,285.3 1102.0,285.2 1102.5,284.1 1103.0,284.2 1103.5,284.5 1104.0,285.5 1104.5,286.2 1105.0,286.5 1105.5,286.4 1106.0,286.1 1106.5,286.3 1107.0,286.3 1107.5,286.7 1108.0,285.6 1108.5,286.6 1109.0,285.9 1109.5,286.4 1110.0,285.4 1110.5,285.9 1111.0,285.6 1111.5,285.5 1112.0,285.5 1112.5,284.8 1113.0,285.9 1113.5,285.5 1114.0,286.4 1114.5,286.4 1115.0,286.2 1115.5,286.3 1116.0,285.6 1116.5,285.3 1117.0,284.3 1117.5,284.1 1118.0,284.8 1118.5,286.7 1119.0,286.5 1119.5,287.0 1120.0,286.4 1120.5,286.7 1121.0,285.9 1121.5,285.5 1122.0,285.4 1122.5,284.9 1123.0,284.4 1123.5,284.2 1124.0,285.2 1124.5,285.5 1125.0,285.6 1125.5,285.4 1126.0,285.9 1126.5,286.2 1127.0,286.3 1127.5,285.1 1128.0,284.4 1128.5,283.4 1129.0,283.8 1129.5,284.8 1130.0,285.6 1130.5,285.7 1131.0,285.1 1131.5,285.0 1132.0,285.6 1132.5,284.8 1133.0,285.2 1133.5,284.3 1134.0,285.2 1134.5,284.5 1135.0,284.4 1135.5,284.3 1136.0,285.0 1136.5,285.9 1137.0,284.9 1137.5,283.8 1138.0,282.1 1138.5,283.5 1139.0,282.7 1139.5,283.9 1140.0,283.1 1140.5,285.0 1141.0,286.0 1141.5,285.9 1142.0,285.7 1142.5,284.7 1143.0,285.6 1143.5,285.9 1144.0,285.9 1144.5,286.7 1145.0,286.5 1145.5,286.3 1146.0,284.4 1146.5,284.9 1147.0,284.5 1147.5,283.5 1148.0,283.9 1148.5,283.7 1149.0,284.2 1149.5,282.6 1150.0,283.0 1150.5,283.7 1151.0,285.0 1151.5,285.0 1152.0,284.4 1152.5,283.0 1153.0,283.0 1153.5,283.9 1154.0,284.1 1154.5,285.1 1155.0,283.9 1155.5,284.2 1156.0,284.2 1156.5,285.6 1157.0,285.7 1157.5,285.5 1158.0,284.7 1158.5,283.7 1159.0,283.7 1159.5,283.1 1160.0,284.1 1160.5,283.8 1161.0,284.6 1161.5,285.1 1162.0,285.1 1162.5,284.7 1163.0,284.1 1163.5,282.8 1164.0,282.6 1164.5,281.2 1165.0,281.8 1165.5,282.0 1166.0,281.9 1166.5,283.1 1167.0,281.8 1167.5,282.2 1168.0,280.3 1168.5,280.0 1169.0,279.8 1169.5,280.3 1170.0,282.1 1170.5,283.1 1171.0,283.9 1171.5,284.2 1172.0,283.8 1172.5,284.5 1173.0,284.3 1173.5,284.8 1174.0,284.1 1174.5,283.5 1175.0,282.5 1175.5,283.1 1176.0,282.9 1176.5,283.5 1177.0,283.8 1177.5,284.8 1178.0,285.3 1178.5,284.4 1179.0,284.3 1179.5,284.3 1180.0,283.3 1180.5,283.8 1181.0,283.8 1181.5,283.7 1182.0,281.7 1182.5,283.0 1183.0,284.9 1183.5,286.6 1184.0,285.1 1184.5,284.8 1185.0,284.9 1185.5,285.8 1186.0,286.7 1186.5,286.3 1187.0,286.3 1187.5,286.1 1188.0,286.4 1188.5,285.9 1189.0,285.0 1189.5,284.7 1190.0,284.5 1190.5,282.9 1191.0,282.6 1191.5,281.8 1192.0,283.1 1192.5,284.2 1193.0,284.8 1193.5,284.1 1194.0,282.9 1194.5,281.3 1195.0,282.4 1195.5,281.8 1196.0,284.3 1196.5,284.4 1197.0,285.3 1197.5,285.3 1198.0,283.6 1198.5,283.1 1199.0,282.7 1199.5,284.4 1200.0,285.1 1200.5,284.4 1201.0,283.4 1201.5,283.5 1202.0,282.1 1202.5,282.5 1203.0,281.5 1203.5,282.8 1204.0,280.9 1204.5,280.5 1205.0,279.9 1205.5,281.3 1206.0,282.0 1206.5,282.4 1207.0,282.3 1207.5,283.7 1208.0,286.3 1208.5,289.3 1209.0,289.5 1209.5,287.8 1210.0,286.5 1210.5,285.5 1211.0,286.0 1211.5,284.4 1212.0,284.1 1212.5,282.8 1213.0,283.0 1213.5,281.9 1214.0,282.1 1214.5,283.0 1215.0,283.8 1215.5,284.1 1216.0,283.1 1216.5,284.5 1217.0,284.8 1217.5,285.2 1218.0,283.2 1218.5,281.6 1219.0,280.1 1219.5,280.4 1220.0,280.6 1220.5,281.9 1221.0,281.9 1221.5,282.2 1222.0,282.5 1222.5,282.8 1223.0,282.1 1223.5,281.8 1224.0,282.6 1224.5,281.7 1225.0,282.5 1225.5,281.0 1226.0,283.3 1226.5,282.7 1227.0,283.4 1227.5,282.9 1228.0,282.9 1228.5,283.7 1229.0,283.6 1229.5,284.5 1230.0,283.4 1230.5,283.8 1231.0,282.3 1231.5,282.9 1232.0,281.4 1232.5,281.7 1233.0,282.5 1233.5,284.4 1234.0,284.3 1234.5,284.2 1235.0,283.9 1235.5,284.0 1236.0,281.2 1236.5,281.1 1237.0,281.5 1237.5,284.6 1238.0,284.4 1238.5,285.5 1239.0,285.2 1239.5,284.6 1240.0,283.2 1240.5,282.8 1241.0,282.6 1241.5,282.6 1242.0,282.8 1242.5,282.2 1243.0,281.0 1243.5,279.6 1244.0,279.6 1244.5,280.3 1245.0,280.4 1245.5,280.8 1246.0,281.3 1246.5,282.9 1247.0,286.0 1247.5,287.5 1248.0,287.5 1248.5,286.0 1249.0,285.2 1249.5,284.5 1250.0,282.3 1250.5,280.7 1251.0,279.2 1251.5,280.9 1252.0,280.1 1252.5,280.3 1253.0,277.4 1253.5,276.4 1254.0,278.0 1254.5,278.9 1255.0,281.5 1255.5,281.1 1256.0,282.2 1256.5,281.9 1257.0,283.0 1257.5,282.8 1258.0,281.5 1258.5,281.3 1259.0,283.0 1259.5,284.5 1260.0,284.3 1260.5,283.7 1261.0,284.7 1261.5,284.4 1262.0,285.1 1262.5,285.1 1263.0,284.2 1263.5,282.3 1264.0,281.2 1264.5,281.5 1265.0,281.6 1265.5,281.8 1266.0,282.8 1266.5,282.9 1267.0,284.3 1267.5,282.2 1268.0,282.8 1268.5,282.4 1269.0,284.2 1269.5,283.8 1270.0,283.1 1270.5,282.6 1271.0,283.3 1271.5,283.3 1272.0,283.4 1272.5,283.5 1273.0,283.5 1273.5,282.9 1274.0,283.9 1274.5,284.5 1275.0,284.5 1275.5,282.9 1276.0,283.0 1276.5,284.5 1277.0,284.3 1277.5,283.8 1278.0,284.2 1278.5,287.0 1279.0,287.9 1279.5,286.4 1280.0,285.2 1280.5,284.9 1281.0,285.0 1281.5,282.9 1282.0,282.3 1282.5,281.5 1283.0,282.1 1283.5,282.9 1284.0,282.6 1284.5,282.2 1285.0,280.6 1285.5,281.2 1286.0,281.7 1286.5,282.9 1287.0,283.8 1287.5,285.3 1288.0,284.2 1288.5,284.3 1289.0,285.5 1289.5,287.7 1290.0,289.9 1290.5,290.1 1291.0,289.8 1291.5,287.3 1292.0,284.9 1292.5,282.0 1293.0,281.2 1293.5,281.7 1294.0,283.1 1294.5,284.8 1295.0,285.9 1295.5,287.9 1296.0,287.6 1296.5,286.8 1297.0,285.3 1297.5,285.7 1298.0,283.4 1298.5,282.1 1299.0,278.5 1299.5,278.6 1300.0,278.6 1300.5,280.6 1301.0,280.6 1301.5,280.4 1302.0,281.7 1302.5,283.1 1303.0,283.8 1303.5,282.2 1304.0,279.6 1304.5,278.2 1305.0,276.9 1305.5,277.4 1306.0,279.8 1306.5,280.3 1307.0,283.4 1307.5,282.7 1308.0,284.3 1308.5,282.5 1309.0,281.5 1309.5,281.5 1310.0,283.5 1310.5,284.8 1311.0,284.0 1311.5,284.5 1312.0,284.2 1312.5,284.3 1313.0,283.2 1313.5,283.4 1314.0,284.1 1314.5,282.0 1315.0,280.5 1315.5,280.9 1316.0,281.5 1316.5,281.3 1317.0,278.6 1317.5,278.7 1318.0,277.8 1318.5,278.6 1319.0,278.8 1319.5,282.7 1320.0,284.9 1320.5,285.9 1321.0,285.7 1321.5,284.4 1322.0,283.7 1322.5,282.9 1323.0,282.6 1323.5,282.0 1324.0,281.6 1324.5,283.0 1325.0,284.0 1325.5,285.0 1326.0,283.2 1326.5,283.7 1327.0,283.4 1327.5,284.3 1328.0,283.2 1328.5,282.4 1329.0,282.1 1329.5,281.7 1330.0,282.0 1330.5,281.8 1331.0,282.3 1331.5,283.1 1332.0,284.0 1332.5,284.9 1333.0,286.0 1333.5,286.1 1334.0,285.8 1334.5,284.5 1335.0,283.6 1335.5,283.1 1336.0,283.0 1336.5,283.0 1337.0,282.9 1337.5,282.0 1338.0,281.8 1338.5,283.0 1339.0,283.2 1339.5,283.9 1340.0,282.6 1340.5,283.2 1341.0,283.6 1341.5,283.3 1342.0,281.6 1342.5,280.5 1343.0,281.3 1343.5,283.3 1344.0,283.9 1344.5,284.3 1345.0,284.5 1345.5,284.6 1346.0,284.9 1346.5,284.7 1347.0,283.9 1347.5,282.6 1348.0,282.4 1348.5,282.3 1349.0,282.8 1349.5,282.1 1350.0,283.0 1350.5,282.9 1351.0,283.3 1351.5,283.3 1352.0,284.1 1352.5,283.2 1353.0,283.7 1353.5,283.1 1354.0,283.2 1354.5,281.8 1355.0,281.9 1355.5,283.5 1356.0,285.5 1356.5,285.2 1357.0,283.8 1357.5,281.9 1358.0,282.6 1358.5,283.2 1359.0,284.4 1359.5,283.5 1360.0,284.4 1360.5,283.6 1361.0,284.0 1361.5,282.8 1362.0,283.5 1362.5,283.8 1363.0,283.4 1363.5,283.1 1364.0,281.9 1364.5,282.7 1365.0,281.4 1365.5,282.9 1366.0,281.6 1366.5,282.6 1367.0,282.6 1367.5,283.6 1368.0,283.0 1368.5,282.3 1369.0,282.2 1369.5,283.0 1370.0,283.8 1370.5,284.1 1371.0,284.1 1371.5,284.0 1372.0,283.8 1372.5,284.4 1373.0,282.8 1373.5,281.9 1374.0,280.5 1374.5,280.2 1375.0,281.5 1375.5,282.3 1376.0,283.7 1376.5,282.7 1377.0,282.7 1377.5,282.8 1378.0,283.6 1378.5,283.3 1379.0,282.1 1379.5,281.1 1380.0,281.8 1380.5,283.1 1381.0,282.9 1381.5,283.5 1382.0,282.6 1382.5,283.9 1383.0,283.0 1383.5,282.7 1384.0,282.2 1384.5,283.8 1385.0,283.7 1385.5,284.9 1386.0,283.3 1386.5,284.9 1387.0,284.3 1387.5,282.4 1388.0,281.5 1388.5,282.2 1389.0,283.8 1389.5,284.9 1390.0,283.9 1390.5,283.3 1391.0,282.2 1391.5,282.8 1392.0,283.4 1392.5,283.4 1393.0,281.9 1393.5,282.9 1394.0,283.2 1394.5,284.2 1395.0,283.9 1395.5,284.9 1396.0,283.7 1396.5,282.4 1397.0,281.6 1397.5,282.9 1398.0,283.8 1398.5,285.0 1399.0,284.7 1399.5,284.9 1400.0,285.4 1400.5,287.3 1401.0,287.7 1401.5,287.4 1402.0,286.5 1402.5,286.4 1403.0,284.0 1403.5,283.9 1404.0,284.0 1404.5,284.6 1405.0,283.9 1405.5,283.3 1406.0,284.0 1406.5,283.8 1407.0,284.8 1407.5,284.2 1408.0,283.7 1408.5,282.7 1409.0,281.5 1409.5,282.4 1410.0,281.5 1410.5,282.5 1411.0,282.0 1411.5,282.1 1412.0,281.6 1412.5,282.2 1413.0,283.5 1413.5,284.3 1414.0,285.3 1414.5,285.9 1415.0,285.1 1415.5,283.9 1416.0,281.3 1416.5,281.7 1417.0,282.0 1417.5,283.2 1418.0,282.8 1418.5,282.2 1419.0,282.6 1419.5,283.8 1420.0,284.8 1420.5,283.7 1421.0,283.7 1421.5,282.7 1422.0,282.3 1422.5,280.4 1423.0,279.1 1423.5,280.1 1424.0,281.9 1424.5,283.1 1425.0,283.6 1425.5,282.6 1426.0,282.6 1426.5,282.3 1427.0,282.7 1427.5,283.9 1428.0,284.4 1428.5,283.9 1429.0,282.7 1429.5,282.2 1430.0,282.9 1430.5,283.3 1431.0,283.2 1431.5,284.0 1432.0,283.9 1432.5,284.1 1433.0,282.6 1433.5,281.7 1434.0,282.3 1434.5,283.5 1435.0,284.9 1435.5,284.3 1436.0,282.7 1436.5,282.7 1437.0,283.5 1437.5,284.4 1438.0,284.4 1438.5,283.4 1439.0,283.8 1439.5,283.1 1440.0,284.2 1440.5,284.3 1441.0,283.8 1441.5,282.9 1442.0,282.9 1442.5,283.4 1443.0,283.1 1443.5,282.1 1444.0,282.0 1444.5,282.5 1445.0,282.6 1445.5,281.9 1446.0,283.0 1446.5,283.3 1447.0,284.8 1447.5,284.6 1448.0,284.1 1448.5,284.3 1449.0,283.7 1449.5,284.7 1450.0,283.8 1450.5,282.6 1451.0,282.1 1451.5,282.0 1452.0,281.7 1452.5,281.6 1453.0,283.5 1453.5,284.8 1454.0,285.1 1454.5,283.9 1455.0,283.0 1455.5,283.7 1456.0,283.2 1456.5,284.4 1457.0,283.7 1457.5,283.4 1458.0,283.1 1458.5,282.8 1459.0,283.3 1459.5,283.0 1460.0,283.5 1460.5,283.2 1461.0,282.7 1461.5,282.6 1462.0,283.3 1462.5,283.9" stroke="#ff7f0e" stroke-width="2.08" stroke-linejoin="round" fill="none"/>
</g>
<rect x="1047.50" y="48.60" width="406.10" height="80.10" rx="2.8" ry="2.8" fill="#fff" fill-opacity="0.8" stroke="#ccc" stroke-opacity="0.8" stroke-width="1.4"/>
<circle cx="1073.4" cy="63.70" r="2.75" fill="#1f77b4"/>
<path d="M1053.2 101.90H1091.9" stroke="#ff7f0e" stroke-width="2.08" fill="none"/>
<text x="1106.60" y="68.80" font-size="20.10" text-anchor="start" textLength="98.5" lengthAdjust="spacingAndGlyphs">Raw Data</text>
<text x="1106.60" y="95.70" font-size="20.10" text-anchor="start" textLength="270.5" lengthAdjust="spacingAndGlyphs">Butterworth Filtered Data</text>
<text x="1106.60" y="116.90" font-size="20.10" text-anchor="start" textLength="338.5" lengthAdjust="spacingAndGlyphs">(N=6, Tc=3.3333 min, Type: low)</text>
<rect x="119.50" y="38.50" width="1343.00" height="480.00" fill="none" stroke="#000" stroke-width="1.11"/>
<path d="M119.50 518.50v4.86M287.50 518.50v4.86M455.50 518.50v4.86M623.50 518.50v4.86M791.50 518.50v4.86M958.50 518.50v4.86M1126.50 518.50v4.86M1294.50 518.50v4.86M119.50 104.50h-4.86M119.50 201.50h-4.86M119.50 297.50h-4.86M119.50 394.50h-4.86M119.50 490.50h-4.86" stroke="#000" stroke-width="1.11" fill="none"/>
<rect x="119.50" y="575.50" width="1343.00" height="479.00" fill="#fff"/>
<rect x="258.30" y="575.50" width="517.60" height="479.00" fill="#e9e9e9"/>
<path d="M258.30 575.50V1054.50M775.90 575.50V1054.50" stroke="#dfdfdf" stroke-width="1.2" fill="none"/>
<path d="M287.50 1054.50V575.50M455.50 1054.50V575.50M623.50 1054.50V575.50M791.50 1054.50V575.50M958.50 1054.50V575.50M1126.50 1054.50V575.50M1294.50 1054.50V575.50M119.50 630.50H1462.50M119.50 691.50H1462.50M119.50 753.00H1462.50M119.50 814.50H1462.50M119.50 875.50H1462.50M119.50 937.00H1462.50M119.50 998.50H1462.50" stroke="#868686" stroke-width="1.11" stroke-dasharray="1.11 1.83" fill="none"/>
<g clip-path="url(#cb)">
<path d="M119.5 885.5V929.2M120.5 885.4V932.3M121.5 885.1V927.5M122.5 884.9V928.6M123.5 890.4V946.4M124.5 898.6V950.2M125.5 906.9V952.0M126.5 910.2V950.1M127.5 913.2V955.7M128.5 915.0V956.4M129.5 912.5V952.9M130.5 915.7V943.0M131.5 907.5V945.9M132.5 905.3V942.9M133.5 905.6V943.9M134.5 912.5V942.0M135.5 911.8V937.3M136.5 909.1V946.9M137.5 907.0V947.9M138.5 907.0V950.0M139.5 907.1V939.4M140.5 907.3V942.6M141.5 908.2V946.9M142.5 910.1V960.7M143.5 913.6V963.4M144.5 910.7V962.6M145.5 911.2V950.6M146.5 909.6V954.6M147.5 913.3V951.1M148.5 911.3V951.8M149.5 904.9V943.1M150.5 903.2V942.5M151.5 901.3V954.1M152.5 905.3V954.8M153.5 907.8V953.7M154.5 901.0V938.7M155.5 893.7V936.0M156.5 891.8V940.5M157.5 889.9V944.7M158.5 896.3V943.2M159.5 892.7V945.2M160.5 890.3V933.0M161.5 884.1V932.9M162.5 880.5V951.2M163.5 880.1V953.2M164.5 881.8V955.9M165.5 883.6V951.8M166.5 885.2V957.9M167.5 886.7V957.4M168.5 888.2V967.9M169.5 886.0V969.2M170.5 889.0V965.4M171.5 888.0V948.7M172.5 878.7V950.4M173.5 877.1V954.2M174.5 879.8V950.4M175.5 882.6V951.6M176.5 887.6V944.2M177.5 895.6V956.3M178.5 903.6V953.2M179.5 907.0V961.6M180.5 914.2V964.4M181.5 917.2V967.7M182.5 912.3V957.8M183.5 912.5V974.3M184.5 913.7V977.5M185.5 914.6V977.5M186.5 930.8V973.3M187.5 919.4V960.7M188.5 917.2V969.3M189.5 918.1V966.6M190.5 915.4V967.9M191.5 915.5V960.3M192.5 913.1V958.4M193.5 913.0V969.5M194.5 900.4V977.4M195.5 894.5V977.4M196.5 884.0V972.2M197.5 873.5V949.1M198.5 869.4V961.4M199.5 880.3V956.9M200.5 885.6V951.7M201.5 879.5V955.0M202.5 870.9V944.0M203.5 871.8V964.3M204.5 876.4V969.0M205.5 881.0V971.4M206.5 885.6V964.8M207.5 884.0V974.7M208.5 880.0V976.4M209.5 876.0V975.8M210.5 881.1V969.9M211.5 886.3V972.5M212.5 891.5V970.8M213.5 893.2V971.4M214.5 905.2V967.9M215.5 897.0V955.7M216.5 898.9V977.9M217.5 889.7V978.6M218.5 888.9V977.7M219.5 888.9V954.2M220.5 891.3V960.3M221.5 893.1V975.1M222.5 907.9V974.3M223.5 888.9V977.7M224.5 888.9V964.5M225.5 893.4V970.0M226.5 898.0V988.0M227.5 902.6V989.7M228.5 903.4V985.8M229.5 918.0V977.5M230.5 916.8V974.8M231.5 896.9V974.3M232.5 896.3V971.6M233.5 897.5V970.5M234.5 900.2V953.3M235.5 899.8V968.1M236.5 899.2V966.9M237.5 895.5V965.7M238.5 901.3V959.2M239.5 888.2V954.7M240.5 886.1V961.9M241.5 888.5V960.7M242.5 894.8V963.4M243.5 893.1V951.3M244.5 894.7V954.2M245.5 892.6V972.8M246.5 897.2V974.9M247.5 889.1V969.8M248.5 893.8V946.9M249.5 889.9V942.6M250.5 882.1V954.4M251.5 880.3V950.9M252.5 879.1V950.7M253.5 892.0V944.0M254.5 892.2V948.8M255.5 875.3V949.9M256.5 874.1V949.7M257.5 879.4V951.1M258.5 885.7V931.6M259.5 890.6V954.4M260.5 888.3V956.1M261.5 892.1V958.4M262.5 883.6V946.9M263.5 881.7V948.0M264.5 885.7V953.8M265.5 889.7V968.2M266.5 890.6V970.6M267.5 885.3V968.5M268.5 898.1V955.7M269.5 874.6V946.8M270.5 870.2V954.8M271.5 869.1V950.2M272.5 877.4V952.0M273.5 866.7V939.2M274.5 866.2V957.3M275.5 870.1V960.0M276.5 875.6V966.6M277.5 877.7V965.8M278.5 881.7V966.0M279.5 887.3V967.1M280.5 901.6V997.6M281.5 898.7V1002.3M282.5 904.3V1000.3M283.5 895.7V986.5M284.5 891.5V996.3M285.5 876.9V991.8M286.5 874.3V978.4M287.5 857.8V965.1M288.5 848.3V951.7M289.5 847.8V947.4M290.5 859.9V934.2M291.5 847.3V939.4M292.5 847.1V935.4M293.5 847.0V931.8M294.5 850.2V908.6M295.5 855.3V915.4M296.5 853.2V921.3M297.5 858.2V922.4M298.5 847.0V929.4M299.5 847.9V915.0M300.5 850.9V943.4M301.5 853.9V949.6M302.5 857.0V952.1M303.5 861.0V945.4M304.5 865.0V957.1M305.5 869.0V955.9M306.5 862.6V947.4M307.5 876.6V938.9M308.5 847.6V930.3M309.5 840.1V927.0M310.5 832.5V919.1M311.5 840.4V916.5M312.5 817.1V912.7M313.5 814.1V922.2M314.5 816.8V921.7M315.5 838.5V922.2M316.5 822.3V921.2M317.5 824.9V923.2M318.5 826.4V922.8M319.5 834.2V915.8M320.5 829.4V897.8M321.5 830.9V901.8M322.5 821.6V894.8M323.5 829.4V891.0M324.5 801.1V887.4M325.5 790.9V876.8M326.5 786.1V881.4M327.5 794.0V878.2M328.5 785.9V872.6M329.5 786.8V853.5M330.5 778.9V850.8M331.5 777.3V848.6M332.5 776.1V842.8M333.5 775.0V843.8M334.5 773.8V830.0M335.5 775.3V845.8M336.5 783.6V846.8M337.5 780.9V847.8M338.5 783.7V835.6M339.5 783.6V849.8M340.5 784.3V850.8M341.5 782.5V857.8M342.5 782.0V867.1M343.5 788.5V876.5M344.5 806.7V883.5M345.5 801.4V873.1M346.5 805.9V878.3M347.5 807.3V898.5M348.5 810.2V902.8M349.5 814.3V904.8M350.5 811.5V879.9M351.5 812.8V887.2M352.5 812.4V898.7M353.5 838.4V912.8M354.5 824.9V914.8M355.5 811.2V915.6M356.5 810.8V904.1M357.5 814.5V907.3M358.5 824.7V893.8M359.5 828.6V894.3M360.5 830.3V897.6M361.5 834.3V919.0M362.5 836.8V920.7M363.5 847.7V924.3M364.5 841.8V924.9M365.5 844.3V925.7M366.5 846.8V935.1M367.5 849.3V939.1M368.5 851.8V948.1M369.5 854.3V957.1M370.5 856.3V958.8M371.5 865.0V943.6M372.5 872.3V947.1M373.5 862.3V942.4M374.5 864.3V963.5M375.5 864.7V964.6M376.5 878.1V963.2M377.5 863.4V953.4M378.5 859.4V946.2M379.5 850.4V951.9M380.5 840.7V947.4M381.5 829.2V940.8M382.5 817.7V934.1M383.5 811.6V927.3M384.5 811.1V918.6M385.5 818.4V910.0M386.5 827.1V901.3M387.5 816.6V898.0M388.5 809.2V880.9M389.5 808.8V893.0M390.5 808.8V890.5M391.5 823.2V890.0M392.5 828.3V885.6M393.5 826.5V886.0M394.5 829.4V890.2M395.5 810.5V893.2M396.5 810.6V893.3M397.5 810.1V891.7M398.5 815.7V877.0M399.5 817.9V873.6M400.5 809.2V886.9M401.5 807.9V885.3M402.5 808.4V889.2M403.5 811.1V885.2M404.5 831.5V897.7M405.5 816.5V901.9M406.5 819.3V901.1M407.5 820.7V894.0M408.5 828.9V882.0M409.5 822.1V891.4M410.5 821.6V888.7M411.5 819.6V886.7M412.5 829.5V878.4M413.5 827.3V879.6M414.5 824.1V878.2M415.5 811.6V878.7M416.5 809.7V876.7M417.5 808.3V876.0M418.5 817.5V867.7M419.5 817.5V865.2M420.5 816.2V873.3M421.5 803.0V873.3M422.5 801.7V872.7M423.5 801.2V873.6M424.5 821.5V873.6M425.5 828.4V876.4M426.5 815.5V879.6M427.5 810.6V883.2M428.5 802.1V889.7M429.5 803.3V879.6M430.5 808.3V902.7M431.5 813.3V908.7M432.5 818.3V909.2M433.5 822.3V898.2M434.5 837.7V910.2M435.5 830.3V910.7M436.5 834.3V908.8M437.5 834.5V891.1M438.5 840.9V896.3M439.5 835.4V887.7M440.5 831.5V899.2M441.5 831.2V899.9M442.5 831.6V903.9M443.5 838.0V898.2M444.5 842.2V911.9M445.5 832.8V915.4M446.5 832.9V917.1M447.5 831.4V918.8M448.5 854.2V920.3M449.5 828.4V917.1M450.5 826.9V905.0M451.5 824.3V910.6M452.5 829.7V907.3M453.5 818.8V911.3M454.5 816.0V917.6M455.5 816.4V923.1M456.5 822.9V924.8M457.5 850.5V922.3M458.5 835.9V928.3M459.5 842.4V930.1M460.5 841.2V934.4M461.5 861.4V937.9M462.5 856.2V942.5M463.5 835.2V936.5M464.5 833.2V953.0M465.5 831.9V956.2M466.5 855.6V951.6M467.5 855.5V945.2M468.5 840.2V928.5M469.5 833.5V913.6M470.5 828.6V933.0M471.5 828.4V929.3M472.5 830.4V930.0M473.5 841.9V918.7M474.5 834.4V923.0M475.5 836.4V920.8M476.5 828.0V919.4M477.5 833.1V924.1M478.5 809.0V933.9M479.5 799.5V933.6M480.5 792.2V919.8M481.5 806.7V906.1M482.5 780.2V900.0M483.5 779.3V871.7M484.5 784.8V886.7M485.5 791.0V876.4M486.5 795.8V885.4M487.5 800.1V906.7M488.5 798.8V908.4M489.5 797.4V912.8M490.5 796.1V883.9M491.5 791.2V892.2M492.5 786.2V926.0M493.5 781.2V930.4M494.5 776.2V927.0M495.5 776.5V920.4M496.5 791.7V916.0M497.5 784.7V910.5M498.5 784.0V907.9M499.5 784.7V890.9M500.5 783.0V884.8M501.5 789.6V907.9M502.5 781.0V912.9M503.5 778.0V932.9M504.5 776.3V951.3M505.5 791.0V958.0M506.5 812.9V964.6M507.5 834.8V971.3M508.5 837.0V968.2M509.5 853.4V948.9M510.5 838.0V960.2M511.5 838.5V956.2M512.5 837.7V954.3M513.5 845.1V934.6M514.5 845.4V934.4M515.5 833.2V938.9M516.5 832.5V948.1M517.5 833.0V951.0M518.5 836.9V950.1M519.5 834.0V948.5M520.5 834.3V933.1M521.5 833.3V929.6M522.5 856.4V943.7M523.5 847.6V942.1M524.5 830.3V944.7M525.5 829.3V922.5M526.5 836.2V940.5M527.5 845.2V946.0M528.5 854.2V956.6M529.5 857.7V958.1M530.5 876.2V952.6M531.5 876.4V946.6M532.5 869.5V941.5M533.5 856.1V936.7M534.5 855.7V933.7M535.5 855.3V929.1M536.5 867.7V927.7M537.5 869.6V924.7M538.5 854.1V921.7M539.5 853.7V910.5M540.5 854.7V915.7M541.5 859.1V912.7M542.5 868.6V914.4M543.5 860.8V892.4M544.5 859.4V910.6M545.5 860.6V917.2M546.5 859.9V915.8M547.5 862.2V919.7M548.5 859.6V931.5M549.5 858.6V931.5M550.5 862.2V925.5M551.5 848.2V919.5M552.5 846.1V913.9M553.5 845.1V910.9M554.5 850.1V891.3M555.5 848.1V887.8M556.5 855.0V894.5M557.5 841.1V898.9M558.5 840.1V895.9M559.5 837.2V896.5M560.5 834.4V885.0M561.5 838.0V889.3M562.5 834.1V889.0M563.5 840.6V903.1M564.5 819.7V906.5M565.5 816.6V906.1M566.5 814.1V900.9M567.5 814.5V878.5M568.5 809.1V880.2M569.5 806.5V885.3M570.5 803.5V880.1M571.5 811.7V876.1M572.5 797.5V856.0M573.5 794.5V854.7M574.5 793.7V864.1M575.5 805.6V860.1M576.5 793.2V859.8M577.5 793.0V851.4M578.5 794.1V850.2M579.5 803.2V864.3M580.5 800.9V865.2M581.5 802.9V865.2M582.5 802.9V848.3M583.5 804.4V856.4M584.5 803.4V846.9M585.5 803.2V865.2M586.5 805.1V865.3M587.5 800.7V869.3M588.5 799.4V863.2M589.5 798.4V877.3M590.5 797.7V881.3M591.5 804.3V882.8M592.5 801.1V860.8M593.5 802.2V868.5M594.5 795.3V860.8M595.5 796.3V864.3M596.5 799.1V871.8M597.5 816.4V887.1M598.5 804.6V886.4M599.5 806.5V882.2M600.5 805.3V870.3M601.5 811.9V864.7M602.5 810.4V869.6M603.5 823.3V865.4M604.5 809.1V864.8M605.5 799.6V848.6M606.5 798.5V845.6M607.5 795.8V863.6M608.5 798.1V863.2M609.5 804.1V861.3M610.5 791.4V846.1M611.5 783.0V838.7M612.5 780.6V834.1M613.5 779.2V850.1M614.5 778.5V848.5M615.5 780.5V849.8M616.5 779.3V826.9M617.5 773.9V852.3M618.5 772.6V853.4M619.5 770.6V848.6M620.5 769.8V820.5M621.5 766.7V839.1M622.5 765.6V834.4M623.5 767.9V836.1M624.5 784.0V830.1M625.5 777.3V826.5M626.5 778.8V819.3M627.5 777.1V824.8M628.5 779.0V855.0M629.5 777.6V858.8M630.5 793.0V861.7M631.5 774.8V831.4M632.5 773.4V831.4M633.5 771.9V839.2M634.5 770.4V872.9M635.5 768.8V877.2M636.5 770.0V887.2M637.5 771.2V897.2M638.5 772.4V907.2M639.5 746.0V909.6M640.5 731.7V909.6M641.5 721.7V909.8M642.5 712.1V910.1M643.5 702.6V910.4M644.5 702.6V910.8M645.5 702.6V906.5M646.5 702.6V902.1M647.5 708.6V897.8M648.5 716.0V894.5M649.5 720.6V839.1M650.5 736.2V843.1M651.5 734.9V854.9M652.5 719.7V854.8M653.5 713.9V882.9M654.5 708.0V880.5M655.5 703.2V882.8M656.5 709.3V815.4M657.5 715.4V831.4M658.5 721.5V836.4M659.5 730.4V832.0M660.5 740.1V907.8M661.5 741.8V911.8M662.5 753.6V910.9M663.5 752.3V839.7M664.5 740.7V828.0M665.5 740.3V908.1M666.5 741.3V907.3M667.5 743.2V906.6M668.5 744.7V840.9M669.5 746.0V863.3M670.5 747.2V873.7M671.5 747.0V870.3M672.5 745.3V903.3M673.5 743.6V903.0M674.5 742.0V904.3M675.5 741.1V860.3M676.5 777.6V876.7M677.5 780.5V882.8M678.5 779.1V884.8M679.5 761.8V911.0M680.5 763.8V913.2M681.5 786.4V917.7M682.5 786.0V897.1M683.5 741.1V926.7M684.5 742.5V931.2M685.5 750.9V931.0M686.5 763.8V922.1M687.5 776.2V925.9M688.5 785.0V923.5M689.5 794.1V921.3M690.5 805.9V923.3M691.5 817.7V909.7M692.5 821.8V894.5M693.5 829.2V929.3M694.5 825.6V929.3M695.5 826.8V926.9M696.5 828.2V885.6M697.5 829.8V902.2M698.5 835.4V919.7M699.5 862.0V917.3M700.5 878.5V918.1M701.5 888.3V920.4M702.5 857.8V922.8M703.5 862.0V924.5M704.5 861.3V924.0M705.5 860.6V895.6M706.5 860.0V905.5M707.5 850.1V909.9M708.5 868.0V915.5M709.5 824.7V921.5M710.5 811.7V913.9M711.5 797.7V890.5M712.5 783.7V867.2M713.5 774.4V853.0M714.5 765.0V845.2M715.5 755.7V836.4M716.5 748.9V833.0M717.5 757.0V830.6M718.5 739.6V834.6M719.5 735.9V838.6M720.5 741.2V842.6M721.5 746.5V846.1M722.5 751.9V835.6M723.5 759.3V841.4M724.5 769.3V856.6M725.5 776.7V859.5M726.5 784.4V861.1M727.5 787.9V845.9M728.5 792.9V847.0M729.5 794.9V865.9M730.5 798.4V867.5M731.5 799.9V871.4M732.5 807.8V868.5M733.5 817.4V882.7M734.5 801.2V887.2M735.5 800.6V882.9M736.5 799.9V878.6M737.5 799.9V874.2M738.5 800.7V871.7M739.5 814.4V867.3M740.5 813.6V862.1M741.5 815.4V865.5M742.5 805.5V865.3M743.5 806.7V863.7M744.5 805.6V861.7M745.5 826.9V857.8M746.5 818.5V855.7M747.5 813.0V855.0M748.5 808.3V853.7M749.5 799.0V854.9M750.5 797.6V876.9M751.5 799.6V898.9M752.5 832.0V909.6M753.5 825.9V918.0M754.5 805.6V924.8M755.5 803.8V909.4M756.5 795.8V894.0M757.5 787.9V878.5M758.5 781.3V860.5M759.5 774.6V842.5M760.5 767.9V837.0M761.5 766.5V817.8M762.5 769.7V813.4M763.5 777.3V823.9M764.5 772.5V830.6M765.5 774.5V829.0M766.5 772.8V827.4M767.5 783.8V822.8M768.5 781.7V819.6M769.5 767.5V819.8M770.5 765.6V821.0M771.5 763.3V819.5M772.5 768.1V818.3M773.5 758.8V801.8M774.5 756.6V806.3M775.5 752.0V807.7M776.5 752.7V813.5M777.5 747.7V806.2M778.5 736.3V792.2M779.5 732.2V780.8M780.5 733.7V782.0M781.5 740.7V769.8M782.5 736.7V784.5M783.5 738.2V785.8M784.5 738.4V786.1M785.5 753.9V784.3M786.5 749.9V783.8M787.5 752.6V778.7M788.5 744.5V782.5M789.5 734.2V783.6M790.5 733.4V783.1M791.5 728.7V784.4M792.5 728.7V776.4M793.5 717.4V775.4M794.5 708.5V776.2M795.5 701.7V778.9M796.5 702.7V796.3M797.5 704.2V798.7M798.5 708.9V798.3M799.5 736.4V791.8M800.5 723.6V780.7M801.5 730.9V783.2M802.5 731.5V787.1M803.5 736.1V784.3M804.5 732.8V782.9M805.5 740.6V777.2M806.5 740.1V775.0M807.5 736.3V767.6M808.5 733.2V766.7M809.5 733.5V770.6M810.5 731.9V776.2M811.5 736.3V780.9M812.5 728.8V781.0M813.5 728.3V782.9M814.5 735.6V784.0M815.5 732.7V782.1M816.5 714.9V782.9M817.5 714.7V789.0M818.5 718.0V791.7M819.5 721.3V792.0M820.5 724.7V795.8M821.5 724.2V796.9M822.5 745.8V792.3M823.5 740.1V786.1M824.5 732.9V773.9M825.5 740.8V778.7M826.5 718.4V774.1M827.5 717.2V773.5M828.5 716.3V772.6M829.5 719.7V757.7M830.5 725.7V762.5M831.5 722.5V752.0M832.5 724.7V773.5M833.5 729.0V773.5M834.5 711.3V776.0M835.5 707.3V744.0M836.5 719.1V753.3M836.5 708.9V709.0M836.5 701.3V701.4M837.5 722.7V749.3M837.5 718.4V718.5M837.5 707.8V707.9M837.5 704.6V704.7M837.5 701.2V701.3M838.5 709.1V746.0M838.5 698.2V698.3M838.5 690.6V690.7M838.5 685.5V685.6M838.5 754.8V754.9M838.5 769.0V769.1M838.5 778.0V778.1M838.5 783.5V783.6M838.5 788.7V788.8M839.5 701.4V733.5M839.5 698.3V698.4M839.5 694.9V695.0M839.5 691.2V691.3M839.5 681.7V681.7M839.5 678.3V678.3M839.5 737.6V737.7M839.5 741.1V741.2M839.5 744.7V744.8M839.5 754.3V754.4M839.5 757.8V757.8M839.5 761.5V761.5M839.5 765.5V765.5M839.5 771.5V771.5M839.5 778.5V778.6M839.5 787.8V787.8M840.5 692.1V729.7M840.5 688.4V688.5M840.5 685.3V685.4M840.5 676.8V676.9M840.5 671.0V671.0M840.5 733.6V733.6M840.5 742.1V742.1M840.5 749.7V749.7M840.5 752.9V753.0M840.5 758.1V758.1M840.5 766.0V766.0M840.5 772.1V772.1M840.5 775.3V775.4M840.5 778.8V778.9M840.5 782.7V782.7M841.5 687.6V710.5M841.5 683.0V683.1M841.5 676.1V676.2M841.5 668.0V668.0M842.5 687.4V715.0M842.5 681.1V681.1M842.5 677.2V677.2M842.5 672.4V672.5M842.5 667.7V667.7M842.5 664.5V664.5M842.5 657.7V657.8M843.5 682.7V711.8M843.5 678.3V678.4M843.5 674.4V674.4M843.5 662.8V662.9M843.5 648.9V649.0M843.5 718.3V718.4M843.5 724.5V724.5M843.5 727.5V727.6M843.5 732.7V732.7M843.5 737.0V737.0M843.5 740.1V740.2M843.5 761.8V761.9M844.5 674.5V709.8M844.5 671.0V671.1M844.5 654.8V654.8M844.5 648.0V648.0M844.5 644.7V644.7M844.5 641.0V641.1M844.5 714.6V714.7M844.5 720.7V720.7M844.5 723.7V723.8M844.5 728.8V728.8M844.5 737.5V737.6M844.5 740.5V740.6M844.5 744.8V744.8M844.5 751.2V751.2M844.5 754.3V754.3M845.5 664.0V706.3M845.5 655.8V655.8M845.5 647.8V647.8M845.5 637.5V637.5M845.5 633.1V633.1M845.5 710.7V710.7M845.5 715.9V715.9M845.5 720.8V720.9M845.5 725.0V725.1M845.5 729.4V729.5M845.5 733.7V733.7M845.5 738.9V738.9M845.5 747.2V747.3M845.5 752.0V752.0M845.5 766.5V766.5M846.5 694.9V730.6M846.5 687.4V687.4M846.5 684.0V684.0M846.5 679.0V679.1M846.5 675.2V675.3M846.5 669.7V669.7M846.5 660.2V660.2M846.5 655.7V655.7M846.5 643.5V643.6M846.5 639.2V639.2M846.5 635.9V635.9M846.5 632.2V632.2M846.5 629.4V629.4M846.5 736.0V736.1M846.5 740.0V740.0M846.5 744.0V744.0M846.5 761.6V761.7M846.5 765.8V765.9M846.5 770.9V770.9M846.5 775.2V775.3M846.5 779.5V779.5M847.5 713.7V752.4M847.5 710.5V710.5M847.5 701.6V701.6M847.5 697.9V697.9M847.5 693.0V693.0M847.5 683.8V683.9M847.5 677.0V677.1M847.5 671.5V671.5M847.5 660.3V660.4M847.5 657.0V657.1M847.5 652.5V652.6M847.5 647.8V647.9M847.5 644.1V644.2M847.5 637.9V637.9M847.5 759.9V760.0M847.5 765.0V765.1M847.5 770.9V770.9M847.5 776.0V776.1M847.5 785.6V785.7M847.5 796.2V796.3M848.5 720.7V763.8M848.5 711.3V711.4M848.5 704.4V704.5M848.5 701.2V701.3M848.5 690.6V690.6M848.5 687.0V687.0M848.5 681.5V681.5M848.5 677.2V677.2M848.5 673.1V673.1M848.5 668.0V668.1M848.5 663.6V663.7M848.5 660.0V660.1M848.5 654.7V654.7M848.5 646.4V646.4M848.5 774.1V774.2M848.5 782.2V782.2M848.5 788.2V788.2M848.5 793.4V793.4M848.5 797.0V797.0M848.5 800.8V800.8M848.5 805.8V805.9M848.5 810.8V810.9M848.5 816.2V816.3M849.5 735.2V772.1M849.5 728.1V728.2M849.5 719.8V719.8M849.5 714.9V714.9M849.5 707.7V707.7M849.5 692.7V692.7M849.5 685.6V685.7M849.5 681.0V681.0M849.5 675.9V675.9M849.5 672.4V672.5M849.5 668.2V668.2M849.5 656.9V657.0M849.5 775.6V775.7M849.5 779.5V779.6M849.5 784.5V784.6M849.5 788.1V788.2M849.5 791.7V791.8M849.5 808.0V808.1M849.5 811.0V811.1M849.5 818.4V818.4M849.5 830.2V830.3M849.5 833.2V833.3M850.5 755.6V788.0M850.5 749.7V749.7M850.5 746.4V746.4M850.5 740.3V740.4M850.5 728.0V728.1M850.5 723.3V723.4M850.5 719.5V719.5M850.5 711.3V711.4M850.5 700.3V700.3M850.5 695.6V695.6M850.5 690.9V690.9M850.5 687.1V687.1M850.5 683.4V683.4M850.5 670.8V670.8M850.5 667.2V667.3M850.5 791.9V791.9M850.5 797.8V797.8M850.5 811.1V811.1M850.5 814.5V814.6M850.5 821.6V821.7M850.5 827.1V827.2M850.5 840.9V841.0M851.5 780.6V825.0M851.5 770.0V770.1M851.5 766.3V766.4M851.5 762.3V762.3M851.5 759.0V759.1M851.5 754.5V754.5M851.5 751.2V751.2M851.5 741.9V742.0M851.5 738.7V738.8M851.5 735.6V735.6M851.5 730.2V730.2M851.5 721.4V721.5M851.5 718.3V718.3M851.5 712.4V712.4M851.5 708.2V708.2M851.5 701.4V701.5M851.5 698.2V698.3M851.5 695.1V695.2M851.5 676.2V676.2M851.5 835.4V835.5M851.5 844.0V844.1M851.5 847.6V847.6M852.5 793.6V828.8M852.5 789.8V789.9M852.5 784.5V784.5M852.5 780.3V780.3M852.5 775.9V776.0M852.5 769.8V769.8M852.5 764.0V764.1M852.5 759.1V759.1M852.5 755.4V755.4M852.5 749.0V749.0M852.5 744.0V744.1M852.5 740.7V740.7M852.5 735.9V735.9M852.5 731.4V731.5M852.5 727.4V727.4M852.5 724.3V724.3M852.5 720.9V720.9M852.5 717.7V717.7M852.5 714.5V714.5M852.5 709.4V709.5M852.5 706.2V706.3M852.5 697.2V697.2M852.5 690.8V690.9M852.5 685.1V685.1M852.5 679.2V679.3M852.5 833.4V833.5M852.5 844.8V844.9M852.5 848.6V848.7M852.5 852.0V852.1M852.5 854.3V854.3M853.5 751.3V785.5M853.5 743.4V743.4M853.5 734.9V734.9M853.5 729.4V729.5M853.5 724.7V724.7M853.5 711.7V711.8M853.5 707.8V707.8M853.5 704.0V704.0M853.5 696.0V696.0M853.5 692.8V692.8M853.5 792.8V792.9M853.5 797.5V797.5M853.5 800.5V800.6M853.5 805.9V805.9M853.5 811.5V811.5M853.5 818.0V818.1M853.5 822.7V822.7M853.5 826.6V826.7M853.5 830.2V830.3M853.5 834.9V834.9M853.5 839.5V839.5M853.5 843.5V843.5M853.5 849.0V849.0M854.5 719.2V739.2M854.5 714.0V714.1M854.5 707.1V707.2M854.5 704.0V704.0M854.5 700.2V700.2M854.5 694.9V695.0M854.5 691.6V691.7M854.5 688.4V688.5M854.5 683.1V683.1M855.5 714.3V747.1M855.5 705.9V705.9M855.5 700.8V700.8M855.5 696.7V696.8M855.5 694.6V694.6M855.5 754.7V754.7M855.5 761.2V761.3M855.5 765.1V765.2M855.5 770.5V770.5M855.5 778.9V779.0M855.5 781.9V782.0M855.5 785.7V785.8M855.5 790.3V790.3M855.5 800.2V800.3M855.5 806.4V806.4M855.5 809.9V810.0M855.5 813.0V813.0M855.5 816.3V816.3M855.5 820.0V820.0M855.5 823.0V823.1M856.5 705.3V749.4M856.5 697.6V697.6M856.5 685.8V685.8M856.5 682.4V682.5M856.5 762.2V762.2M856.5 767.3V767.4M856.5 772.2V772.2M856.5 776.9V776.9M856.5 780.4V780.5M856.5 784.6V784.7M856.5 788.5V788.6M856.5 791.8V791.8M856.5 802.0V802.1M856.5 806.7V806.7M856.5 809.7V809.7M857.5 715.9V750.0M857.5 709.3V709.4M857.5 705.7V705.7M857.5 697.9V697.9M857.5 694.3V694.4M857.5 690.7V690.8M857.5 684.1V684.2M857.5 755.5V755.6M857.5 761.1V761.2M857.5 765.6V765.6M857.5 770.5V770.6M857.5 774.3V774.3M857.5 791.9V792.0M857.5 799.5V799.5M857.5 805.2V805.3M857.5 811.3V811.4M857.5 815.7V815.8M858.5 717.9V754.9M858.5 713.6V713.6M858.5 709.2V709.3M858.5 705.7V705.8M858.5 701.9V701.9M858.5 697.5V697.6M858.5 681.8V681.9M858.5 758.8V758.8M859.5 730.0V753.2M859.5 724.7V724.8M859.5 719.8V719.9M859.5 716.5V716.6M859.5 713.5V713.6M859.5 710.1V710.2M859.5 703.2V703.3M859.5 698.5V698.5M860.5 752.2V793.9M860.5 740.9V741.0M860.5 736.5V736.6M860.5 725.8V725.9M860.5 721.4V721.4M860.5 716.7V716.8M860.5 712.6V712.7M860.5 692.5V692.5M860.5 807.1V807.1M860.5 812.6V812.6M860.5 815.7V815.8M860.5 828.5V828.6M860.5 835.0V835.1M860.5 839.2V839.2M861.5 767.0V806.3M861.5 756.4V756.5M861.5 751.4V751.4M861.5 742.5V742.6M861.5 737.6V737.7M861.5 731.7V731.8M861.5 723.3V723.3M861.5 714.6V714.6M861.5 710.0V710.0M861.5 705.5V705.6M861.5 700.4V700.5M861.5 693.7V693.8M861.5 689.9V689.9M861.5 676.3V676.3M861.5 811.6V811.6M861.5 818.5V818.5M861.5 826.2V826.3M861.5 836.1V836.2M861.5 841.3V841.4M862.5 745.9V774.3M862.5 740.3V740.3M862.5 735.4V735.4M862.5 725.4V725.5M862.5 721.8V721.8M862.5 717.2V717.2M862.5 710.9V710.9M862.5 699.0V699.0M862.5 693.5V693.5M862.5 683.0V683.0M862.5 679.7V679.7M862.5 673.8V673.9M862.5 779.5V779.5M862.5 783.9V783.9M862.5 789.6V789.6M862.5 796.2V796.3M862.5 799.9V800.0M862.5 804.6V804.6M862.5 821.0V821.1M863.5 708.1V749.2M863.5 703.3V703.4M863.5 690.7V690.7M863.5 682.0V682.0M863.5 678.5V678.6M863.5 669.0V669.0M863.5 753.7V753.7M863.5 760.0V760.0M863.5 764.0V764.0M863.5 768.2V768.2M863.5 780.6V780.6M863.5 789.7V789.8M863.5 800.5V800.6M864.5 711.0V729.1M864.5 732.3V732.4M864.5 736.5V736.5M864.5 740.9V741.0M864.5 746.1V746.1M864.5 750.9V750.9M864.5 758.3V758.4M864.5 765.8V765.8M864.5 769.5V769.6M864.5 774.8V774.8M864.5 778.3V778.3M864.5 781.3V781.4M865.5 696.0V718.8M865.5 727.5V727.6M865.5 734.3V734.3M865.5 738.0V738.0M865.5 741.6V741.6M865.5 747.8V747.9M865.5 755.1V755.2M865.5 759.0V759.1M865.5 762.2V762.2M865.5 765.3V765.4M866.5 671.0V704.2M866.5 666.2V666.3M866.5 662.7V662.7M866.5 656.5V656.5M866.5 651.8V651.9M866.5 707.6V707.7M866.5 712.0V712.1M866.5 716.5V716.6M866.5 723.8V723.9M866.5 729.2V729.3M866.5 733.8V733.9M866.5 738.6V738.6M866.5 741.7V741.8M866.5 747.9V748.0M866.5 752.8V752.9M866.5 756.3V756.3M867.5 659.6V701.6M867.5 645.8V645.8M867.5 704.9V705.0M867.5 709.7V709.7M867.5 713.0V713.1M867.5 717.7V717.7M867.5 727.5V727.5M867.5 732.7V732.8M867.5 735.9V735.9M867.5 742.8V742.8M867.5 745.7V745.7M868.5 658.7V692.5M868.5 652.8V652.9M868.5 647.3V647.3M868.5 639.6V639.7M868.5 698.1V698.2M868.5 702.3V702.3M868.5 706.1V706.2M868.5 710.1V710.1M868.5 721.9V721.9M868.5 727.4V727.4M868.5 731.0V731.1M868.5 735.4V735.4M869.5 652.7V692.1M869.5 646.1V646.2M869.5 641.4V641.5M869.5 635.6V635.6M869.5 630.8V630.8M869.5 696.5V696.5M869.5 700.4V700.5M869.5 705.8V705.8M869.5 713.3V713.3M869.5 717.5V717.5M869.5 722.6V722.6M869.5 725.7V725.8M869.5 741.4V741.4M870.5 653.9V690.9M870.5 641.9V642.0M870.5 635.2V635.2M870.5 630.4V630.5M870.5 626.2V626.3M870.5 621.8V621.8M870.5 695.1V695.1M870.5 701.3V701.3M870.5 706.3V706.4M870.5 714.0V714.0M870.5 718.4V718.4M871.5 657.7V696.2M871.5 650.4V650.5M871.5 646.6V646.6M871.5 643.0V643.1M871.5 631.0V631.1M871.5 626.0V626.1M871.5 619.2V619.3M871.5 616.6V616.7M871.5 704.2V704.3M871.5 706.5V706.6M872.5 661.3V696.5M872.5 657.8V657.9M872.5 654.8V654.8M872.5 651.4V651.4M872.5 648.2V648.2M872.5 644.3V644.4M872.5 638.8V638.9M872.5 635.5V635.5M872.5 630.0V630.0M872.5 626.4V626.5M872.5 623.3V623.4M872.5 614.0V614.1M872.5 700.2V700.3M872.5 704.2V704.2M872.5 714.9V714.9M872.5 718.9V718.9M872.5 725.6V725.7M872.5 731.4V731.4M872.5 736.6V736.7M872.5 741.1V741.1M872.5 747.2V747.3M872.5 751.5V751.6M872.5 755.0V755.0M872.5 759.4V759.4M873.5 658.5V704.9M873.5 654.4V654.5M873.5 649.2V649.2M873.5 643.1V643.1M873.5 639.1V639.2M873.5 635.9V636.0M873.5 625.3V625.3M873.5 619.8V619.9M873.5 615.4V615.4M873.5 611.5V611.6M873.5 710.2V710.3M873.5 713.9V713.9M873.5 716.9V716.9M873.5 722.1V722.1M873.5 728.7V728.8M873.5 735.5V735.6M873.5 739.8V739.9M873.5 751.0V751.1M873.5 763.2V763.3M874.5 667.4V708.8M874.5 662.5V662.5M874.5 658.9V658.9M874.5 654.8V654.8M874.5 648.7V648.8M874.5 644.7V644.7M874.5 633.7V633.7M874.5 629.1V629.2M874.5 621.3V621.3M874.5 616.7V616.7M874.5 713.1V713.2M874.5 722.1V722.1M874.5 726.1V726.2M874.5 732.1V732.1M874.5 736.2V736.3M874.5 741.3V741.4M874.5 746.6V746.7M874.5 752.7V752.8M874.5 759.0V759.0M875.5 678.7V703.0M875.5 669.9V670.0M875.5 663.0V663.0M875.5 657.1V657.2M875.5 650.7V650.7M875.5 647.2V647.2M875.5 641.6V641.6M875.5 636.4V636.5M875.5 626.9V627.0M875.5 623.9V624.0M875.5 620.2V620.2M876.5 686.9V711.6M876.5 677.3V677.3M876.5 671.6V671.7M876.5 662.1V662.1M876.5 655.4V655.5M876.5 644.8V644.8M876.5 639.5V639.5M876.5 634.1V634.1M876.5 626.9V627.0M876.5 624.5V624.6M877.5 689.3V728.9M877.5 682.3V682.3M877.5 665.9V665.9M877.5 660.1V660.2M877.5 654.0V654.1M877.5 647.9V647.9M877.5 643.7V643.7M877.5 638.1V638.2M877.5 634.1V634.2M877.5 629.3V629.4M877.5 622.7V622.8M877.5 733.8V733.9M877.5 744.0V744.0M877.5 747.2V747.2M877.5 750.3V750.4M878.5 693.8V721.2M878.5 725.3V725.4M878.5 731.6V731.6M878.5 734.8V734.8M878.5 742.0V742.1M878.5 755.1V755.2M879.5 648.1V682.5M879.5 641.7V641.8M879.5 637.5V637.5M879.5 627.0V627.0M879.5 622.9V623.0M879.5 619.4V619.4M879.5 614.1V614.2M879.5 690.0V690.0M879.5 693.4V693.5M879.5 698.5V698.5M879.5 705.6V705.6M879.5 708.8V708.8M879.5 715.9V716.0M879.5 721.2V721.2M879.5 726.7V726.8M879.5 738.6V738.7M879.5 745.0V745.1M879.5 748.1V748.2M879.5 756.8V756.9M879.5 764.2V764.2M879.5 768.0V768.1M879.5 772.3V772.3M880.5 664.4V704.6M880.5 657.6V657.6M880.5 653.6V653.6M880.5 646.8V646.8M880.5 640.1V640.1M880.5 636.6V636.7M880.5 631.7V631.7M880.5 626.6V626.6M880.5 622.0V622.0M880.5 616.2V616.3M880.5 608.5V608.5M880.5 711.5V711.5M880.5 721.4V721.5M880.5 724.4V724.5M880.5 729.9V730.0M880.5 733.6V733.6M880.5 737.6V737.6M880.5 741.8V741.8M880.5 744.8V744.8M880.5 749.3V749.3M880.5 754.4V754.5M880.5 762.4V762.5M880.5 767.4V767.5M880.5 771.1V771.2M880.5 777.9V777.9M880.5 784.3V784.4M880.5 788.1V788.1M881.5 707.6V746.9M881.5 699.9V700.0M881.5 696.7V696.7M881.5 693.4V693.5M881.5 681.9V681.9M881.5 675.6V675.7M881.5 670.3V670.4M881.5 666.3V666.4M881.5 662.9V663.0M881.5 645.6V645.6M881.5 642.3V642.3M881.5 634.8V634.9M881.5 630.2V630.2M881.5 625.8V625.9M881.5 621.9V621.9M881.5 616.7V616.8M881.5 614.5V614.5M881.5 751.6V751.7M881.5 756.7V756.7M881.5 760.8V760.8M881.5 764.7V764.7M881.5 771.4V771.4M881.5 784.1V784.1M881.5 787.1V787.1M881.5 792.6V792.6M881.5 796.0V796.1M881.5 802.2V802.2M881.5 805.0V805.0M882.5 701.5V737.9M882.5 697.5V697.6M882.5 689.0V689.0M882.5 685.3V685.4M882.5 673.1V673.1M882.5 665.6V665.6M882.5 662.3V662.3M882.5 657.5V657.5M882.5 652.2V652.2M882.5 741.7V741.8M882.5 746.1V746.2M882.5 751.6V751.6M882.5 764.4V764.4M882.5 769.9V770.0M882.5 781.0V781.0M882.5 785.7V785.7M882.5 789.0V789.1M883.5 686.5V720.7M883.5 667.5V667.5M883.5 661.1V661.1M883.5 654.2V654.2M883.5 647.8V647.9M883.5 644.0V644.0M883.5 639.5V639.6M883.5 635.7V635.8M883.5 629.7V629.8M883.5 626.5V626.5M884.5 676.0V710.0M884.5 666.0V666.1M884.5 658.5V658.5M884.5 643.1V643.1M884.5 637.6V637.7M884.5 631.0V631.1M884.5 714.2V714.2M884.5 719.9V719.9M884.5 723.2V723.3M884.5 726.9V726.9M884.5 730.1V730.2M884.5 733.1V733.2M884.5 736.3V736.4M884.5 742.2V742.3M884.5 746.5V746.6M884.5 749.5V749.5M885.5 675.0V709.8M885.5 666.8V666.9M885.5 661.8V661.8M885.5 658.4V658.5M885.5 652.0V652.1M885.5 646.0V646.0M885.5 642.3V642.4M885.5 633.7V633.7M885.5 719.1V719.1M885.5 722.6V722.7M885.5 734.7V734.7M886.5 675.2V706.5M886.5 713.1V713.1M886.5 722.2V722.3M886.5 725.7V725.7M886.5 730.3V730.4M886.5 732.7V732.7M887.5 661.1V700.8M887.5 656.6V656.7M887.5 652.5V652.6M887.5 649.1V649.1M887.5 645.9V645.9M887.5 639.2V639.2M887.5 706.7V706.8M887.5 713.3V713.4M887.5 722.1V722.2M887.5 725.7V725.8M887.5 729.5V729.6M888.5 669.6V707.3M888.5 662.9V662.9M888.5 659.5V659.6M888.5 655.2V655.3M888.5 651.5V651.6M888.5 648.2V648.2M888.5 641.9V642.0M888.5 710.7V710.7M888.5 716.4V716.5M888.5 725.3V725.3M888.5 728.7V728.7M889.5 676.1V715.5M889.5 669.1V669.2M889.5 665.8V665.8M889.5 661.7V661.8M889.5 657.8V657.9M889.5 649.8V649.8M889.5 720.0V720.0M889.5 723.1V723.2M889.5 726.7V726.7M890.5 677.5V723.5M890.5 729.1V729.2M891.5 676.9V722.5M891.5 669.8V669.8M891.5 729.6V729.6M891.5 735.1V735.1M892.5 690.7V721.1M892.5 687.4V687.4M892.5 679.8V679.8M892.5 733.5V733.5M892.5 737.6V737.7M892.5 742.3V742.3M893.5 693.9V730.9M893.5 689.6V689.7M893.5 687.0V687.1M893.5 742.7V742.8M893.5 745.8V745.9M893.5 747.8V747.9M894.5 710.7V745.0M894.5 703.4V703.5M894.5 694.5V694.5M894.5 691.0V691.1M894.5 751.0V751.1M895.5 713.5V739.0M896.5 706.5V742.3M896.5 703.2V703.2M896.5 699.0V699.1M897.5 710.6V743.2M897.5 706.2V706.2M897.5 702.4V702.4M897.5 751.4V751.5M897.5 755.7V755.8M897.5 758.8V758.8M898.5 705.8V730.4M898.5 700.1V700.2M899.5 719.1V744.7M899.5 749.7V749.8M899.5 758.1V758.2M899.5 764.0V764.1M899.5 767.0V767.1M900.5 713.6V744.3M900.5 756.5V756.6M900.5 763.2V763.3M900.5 768.7V768.8M900.5 771.0V771.1M901.5 715.1V757.4M901.5 708.2V708.2M901.5 761.2V761.3M901.5 771.8V771.9M901.5 778.0V778.1M902.5 701.3V740.9M902.5 694.2V694.2M902.5 691.1V691.2M902.5 746.5V746.5M902.5 753.9V754.0M903.5 692.0V711.5M904.5 699.6V718.9M905.5 711.3V745.5M905.5 755.3V755.3M905.5 759.5V759.5M905.5 765.0V765.1M905.5 768.3V768.4M905.5 778.0V778.1M905.5 791.5V791.5M905.5 796.6V796.6M905.5 806.0V806.1M906.5 726.1V762.8M906.5 722.1V722.2M906.5 715.5V715.6M906.5 771.7V771.7M906.5 775.2V775.3M906.5 781.9V781.9M906.5 786.1V786.1M906.5 789.2V789.3M906.5 795.8V795.8M906.5 802.8V802.9M906.5 807.4V807.5M906.5 812.0V812.1M906.5 816.1V816.1M906.5 819.3V819.3M907.5 739.2V780.1M907.5 736.2V736.3M907.5 731.6V731.7M907.5 728.4V728.4M907.5 722.6V722.7M907.5 784.5V784.5M907.5 790.2V790.3M907.5 794.5V794.6M907.5 798.6V798.7M907.5 801.7V801.7M907.5 806.1V806.2M907.5 812.2V812.2M907.5 815.3V815.3M907.5 821.3V821.3M907.5 829.1V829.2M907.5 834.3V834.3M907.5 839.1V839.2M907.5 844.1V844.1M907.5 848.1V848.2M908.5 781.8V824.1M908.5 773.5V773.6M908.5 769.5V769.6M908.5 764.7V764.8M908.5 759.4V759.4M908.5 749.5V749.5M908.5 745.4V745.5M908.5 740.9V740.9M908.5 827.3V827.3M908.5 831.0V831.1M908.5 841.6V841.7M908.5 852.5V852.6M908.5 855.8V855.9M908.5 861.9V862.0M908.5 868.9V868.9M908.5 872.3V872.3M909.5 820.0V857.8M909.5 816.8V816.8M909.5 810.8V810.8M909.5 807.7V807.8M909.5 802.4V802.5M909.5 862.1V862.1M909.5 865.3V865.3M909.5 870.6V870.7M910.5 816.2V862.9M910.5 811.9V812.0M910.5 804.2V804.3M910.5 796.6V796.6M910.5 790.1V790.1M910.5 782.7V782.8M910.5 778.7V778.7M910.5 865.3V865.4M911.5 818.0V858.9M911.5 809.9V809.9M911.5 803.1V803.1M911.5 799.6V799.6M911.5 796.9V796.9M912.5 822.8V841.5M912.5 819.6V819.7M912.5 813.2V813.2M912.5 807.4V807.5M912.5 803.1V803.1M912.5 796.4V796.5M912.5 794.2V794.2M913.5 815.3V839.3M913.5 806.0V806.0M913.5 799.6V799.7M913.5 792.7V792.8M913.5 789.4V789.5M913.5 785.1V785.1M913.5 781.1V781.1M913.5 778.8V778.9M914.5 814.9V840.8M914.5 799.6V799.7M914.5 780.9V780.9M914.5 774.4V774.5M914.5 769.2V769.2M914.5 764.2V764.2M915.5 810.5V848.2M915.5 806.6V806.7M915.5 801.8V801.9M915.5 788.6V788.7M915.5 781.1V781.1M915.5 772.5V772.5M915.5 769.0V769.0M915.5 762.5V762.5M915.5 759.2V759.2M915.5 749.1V749.1M915.5 746.2V746.2M915.5 858.8V858.8M916.5 780.1V809.6M916.5 773.4V773.4M916.5 770.1V770.2M916.5 762.6V762.7M916.5 759.5V759.6M916.5 750.3V750.4M916.5 745.1V745.1M916.5 738.7V738.7M916.5 735.7V735.7M916.5 732.5V732.5M916.5 729.0V729.0M916.5 814.0V814.0M916.5 818.8V818.9M916.5 835.7V835.7M916.5 842.5V842.6M916.5 850.6V850.6M916.5 855.8V855.8M916.5 859.8V859.8M917.5 738.6V785.9M917.5 733.5V733.5M917.5 727.6V727.7M917.5 715.3V715.4M917.5 711.4V711.4M917.5 707.9V707.9M917.5 704.7V704.7M917.5 789.7V789.7M917.5 793.1V793.1M917.5 796.9V796.9M917.5 800.5V800.6M917.5 808.9V809.0M917.5 813.5V813.6M917.5 818.6V818.6M917.5 822.7V822.7M917.5 843.1V843.1M917.5 848.2V848.2M917.5 862.6V862.6M917.5 868.5V868.5M918.5 715.7V740.4M918.5 712.5V712.5M918.5 708.0V708.0M918.5 697.0V697.0M918.5 692.1V692.2M918.5 684.1V684.2M918.5 681.2V681.2M919.5 718.6V756.3M919.5 711.0V711.1M919.5 707.0V707.1M919.5 700.7V700.7M919.5 697.2V697.3M919.5 687.1V687.1M919.5 679.6V679.7M919.5 671.7V671.8M919.5 759.9V760.0M919.5 766.1V766.1M919.5 774.7V774.7M919.5 778.7V778.8M919.5 783.1V783.1M919.5 792.4V792.4M919.5 795.9V795.9M919.5 799.8V799.9M919.5 807.2V807.3M919.5 812.7V812.7M919.5 819.3V819.3M919.5 823.8V823.8M919.5 829.2V829.2M919.5 833.2V833.3M919.5 837.1V837.1M919.5 843.2V843.3M919.5 847.4V847.5M919.5 851.0V851.0M919.5 856.1V856.2M919.5 860.5V860.6M919.5 864.4V864.5M919.5 867.7V867.8M919.5 874.7V874.7M919.5 887.7V887.8M920.5 742.7V780.2M920.5 736.5V736.6M920.5 725.1V725.1M920.5 718.0V718.1M920.5 711.9V712.0M920.5 707.8V707.8M920.5 703.8V703.8M920.5 698.1V698.2M920.5 693.5V693.5M920.5 686.2V686.3M920.5 784.2V784.2M920.5 790.0V790.0M920.5 795.9V796.0M920.5 803.2V803.2M920.5 809.2V809.2M920.5 815.0V815.0M920.5 824.6V824.6M920.5 830.8V830.9M920.5 835.5V835.6M920.5 844.1V844.1M920.5 855.3V855.4M920.5 859.7V859.7M920.5 864.6V864.6M920.5 869.3V869.4M920.5 887.2V887.3M920.5 894.1V894.1M920.5 896.4V896.5M921.5 795.8V829.2M921.5 788.6V788.7M921.5 783.0V783.0M921.5 777.0V777.1M921.5 769.6V769.7M921.5 762.0V762.1M921.5 756.3V756.3M921.5 746.4V746.5M921.5 740.1V740.1M921.5 736.6V736.7M921.5 729.1V729.1M921.5 716.8V716.8M921.5 712.3V712.4M921.5 702.9V702.9M921.5 700.7V700.8M921.5 834.2V834.2M921.5 837.8V837.8M921.5 840.8V840.8M921.5 844.6V844.6M921.5 851.9V852.0M921.5 864.0V864.0M921.5 869.9V870.0M921.5 877.8V877.9M921.5 882.7V882.8M921.5 887.5V887.6M921.5 893.7V893.7M921.5 897.6V897.7M921.5 902.5V902.5M922.5 851.2V884.0M922.5 845.2V845.3M922.5 839.5V839.6M922.5 835.2V835.2M922.5 830.1V830.1M922.5 821.4V821.4M922.5 815.8V815.8M922.5 806.8V806.9M922.5 792.2V792.2M922.5 778.0V778.0M922.5 772.0V772.1M922.5 768.4V768.4M922.5 760.9V761.0M922.5 756.5V756.5M922.5 750.7V750.8M922.5 745.1V745.1M922.5 741.6V741.6M922.5 731.5V731.6M922.5 728.4V728.5M922.5 723.6V723.6M922.5 718.7V718.8M922.5 716.3V716.3M922.5 886.2V886.2M923.5 870.3V913.8M923.5 867.3V867.3M923.5 862.4V862.4M923.5 856.1V856.1M923.5 852.2V852.2M923.5 847.9V848.0M923.5 844.5V844.5M923.5 840.8V840.8M923.5 832.7V832.7M923.5 827.4V827.5M923.5 822.4V822.4M923.5 818.5V818.6M923.5 813.0V813.1M923.5 809.5V809.5M923.5 804.7V804.8M923.5 796.7V796.7M923.5 793.1V793.1M923.5 787.6V787.6M923.5 784.5V784.6M923.5 777.2V777.3M923.5 772.8V772.8M923.5 765.7V765.8M923.5 762.2V762.3M923.5 759.0V759.0M923.5 744.7V744.8M923.5 735.8V735.8M923.5 732.9V733.0M924.5 869.3V906.3M924.5 864.1V864.2M924.5 856.1V856.2M924.5 850.0V850.1M924.5 911.6V911.7M925.5 830.8V870.4M925.5 827.1V827.1M925.5 823.9V823.9M925.5 817.5V817.6M925.5 813.0V813.1M925.5 804.4V804.4M925.5 800.9V801.0M925.5 789.0V789.1M925.5 784.4V784.5M925.5 775.9V775.9M925.5 772.4V772.5M925.5 768.3V768.3M925.5 766.3V766.3M925.5 876.0V876.1M925.5 883.4V883.4M925.5 887.4V887.5M925.5 892.8V892.9M925.5 896.4V896.5M925.5 898.5V898.6M926.5 811.8V848.8M926.5 808.0V808.0M926.5 802.9V802.9M926.5 796.2V796.2M926.5 791.5V791.5M926.5 783.0V783.0M926.5 778.9V778.9M926.5 853.0V853.1M926.5 859.1V859.1M926.5 870.3V870.3M926.5 877.8V877.9M926.5 885.5V885.5M927.5 785.7V828.1M927.5 780.9V780.9M927.5 762.9V762.9M927.5 841.4V841.4M927.5 846.0V846.0M927.5 852.3V852.3M927.5 858.0V858.1M927.5 862.4V862.5M927.5 865.9V866.0M927.5 872.4V872.4M928.5 785.3V820.0M928.5 781.8V781.9M928.5 775.2V775.2M928.5 772.1V772.1M928.5 764.0V764.1M928.5 753.2V753.2M928.5 749.2V749.2M928.5 746.9V746.9M928.5 824.3V824.4M928.5 828.4V828.4M928.5 838.1V838.2M928.5 841.6V841.6M928.5 852.1V852.2M928.5 856.7V856.8M928.5 865.4V865.4M928.5 871.0V871.1M929.5 784.7V803.8M929.5 781.0V781.0M929.5 774.4V774.5M929.5 764.3V764.4M929.5 760.7V760.8M929.5 757.6V757.6M929.5 753.5V753.5M929.5 750.4V750.5M929.5 744.1V744.1M929.5 740.5V740.5M929.5 733.6V733.6M930.5 757.9V796.4M930.5 752.3V752.3M930.5 743.7V743.7M930.5 729.6V729.6M931.5 725.6V763.8M931.5 767.9V768.0M931.5 777.0V777.1M931.5 781.6V781.7M931.5 788.0V788.0M931.5 792.5V792.6M931.5 808.2V808.3M931.5 813.5V813.6M931.5 821.5V821.6M931.5 824.7V824.7M931.5 828.0V828.1M931.5 839.8V839.9M931.5 844.5V844.6M931.5 848.0V848.0M931.5 851.0V851.1M931.5 854.7V854.8M931.5 857.9V858.0M931.5 861.1V861.1M931.5 866.0V866.1M931.5 870.9V870.9M931.5 874.0V874.1M931.5 878.2V878.3M931.5 881.4V881.5M931.5 885.8V885.9M931.5 892.6V892.7M932.5 750.6V791.2M932.5 744.5V744.5M932.5 738.0V738.0M932.5 734.2V734.3M932.5 731.0V731.0M932.5 726.2V726.2M932.5 798.0V798.0M932.5 815.0V815.1M932.5 819.0V819.0M932.5 830.6V830.6M932.5 841.8V841.8M932.5 845.6V845.6M932.5 851.2V851.3M932.5 860.2V860.3M932.5 867.6V867.7M932.5 874.5V874.5M932.5 878.5V878.6M932.5 884.2V884.3M932.5 888.5V888.5M932.5 892.3V892.4M932.5 895.5V895.5M932.5 899.0V899.1M933.5 792.7V823.7M933.5 785.9V785.9M933.5 781.1V781.1M933.5 775.1V775.2M933.5 771.6V771.7M933.5 753.4V753.5M933.5 750.2V750.2M933.5 739.1V739.1M933.5 736.2V736.2M933.5 828.0V828.0M933.5 834.3V834.3M933.5 838.5V838.5M933.5 842.8V842.9M933.5 848.2V848.3M933.5 852.4V852.4M933.5 856.3V856.3M933.5 860.4V860.4M933.5 865.0V865.1M933.5 868.6V868.7M933.5 872.7V872.7M933.5 881.4V881.5M933.5 885.6V885.7M933.5 890.4V890.4M933.5 895.2V895.3M933.5 900.7V900.8M933.5 906.1V906.1M934.5 815.0V848.1M934.5 808.2V808.2M934.5 798.7V798.7M934.5 795.2V795.3M934.5 792.2V792.2M934.5 785.6V785.7M934.5 781.2V781.2M934.5 777.9V777.9M934.5 757.8V757.8M934.5 753.8V753.8M934.5 747.9V748.0M934.5 857.8V857.8M934.5 869.5V869.6M934.5 872.8V872.8M934.5 876.6V876.7M934.5 880.8V880.8M934.5 884.4V884.4M934.5 895.3V895.4M934.5 898.5V898.5M935.5 837.6V868.2M935.5 831.4V831.5M935.5 824.1V824.1M935.5 821.1V821.1M935.5 810.1V810.1M935.5 806.3V806.4M935.5 802.2V802.2M935.5 798.6V798.6M935.5 791.8V791.9M935.5 785.3V785.4M935.5 780.2V780.3M935.5 775.9V776.0M935.5 766.7V766.8M935.5 750.2V750.2M935.5 873.7V873.8M935.5 878.3V878.3M935.5 883.2V883.2M935.5 887.4V887.4M935.5 892.0V892.1M935.5 895.6V895.7M935.5 900.9V900.9M936.5 849.9V886.7M936.5 846.2V846.2M936.5 838.0V838.1M936.5 835.0V835.1M936.5 829.1V829.2M936.5 826.0V826.1M936.5 822.7V822.8M936.5 818.4V818.4M936.5 810.3V810.3M936.5 805.3V805.3M936.5 801.3V801.4M936.5 795.1V795.2M936.5 791.3V791.3M936.5 787.5V787.5M936.5 783.6V783.6M936.5 778.7V778.7M936.5 769.3V769.3M936.5 765.0V765.0M936.5 760.5V760.5M936.5 757.4V757.5M936.5 748.9V749.0M936.5 746.2V746.2M936.5 892.1V892.2M936.5 901.1V901.1M936.5 904.8V904.9M936.5 913.4V913.4M936.5 919.0V919.0M936.5 922.0V922.0M936.5 925.7V925.8M936.5 930.2V930.2M937.5 862.7V892.6M937.5 858.8V858.9M937.5 840.7V840.8M937.5 836.3V836.3M937.5 831.9V831.9M937.5 824.7V824.8M937.5 819.0V819.1M937.5 813.0V813.0M937.5 809.3V809.3M937.5 802.0V802.0M937.5 792.0V792.1M937.5 786.9V786.9M937.5 781.1V781.2M937.5 774.3V774.4M937.5 769.1V769.1M937.5 766.0V766.1M937.5 762.5V762.5M937.5 751.7V751.7M937.5 744.3V744.4M937.5 902.2V902.3M937.5 911.8V911.9M937.5 918.0V918.0M937.5 928.3V928.3M937.5 931.7V931.7M938.5 842.9V882.4M938.5 836.3V836.3M938.5 828.9V829.0M938.5 825.6V825.6M938.5 819.0V819.1M938.5 806.4V806.4M938.5 797.5V797.6M938.5 792.6V792.6M938.5 782.9V782.9M938.5 778.5V778.5M938.5 772.7V772.7M938.5 768.5V768.5M938.5 756.6V756.6M938.5 751.5V751.5M938.5 745.9V745.9M938.5 740.9V740.9M938.5 738.2V738.2M938.5 891.7V891.8M938.5 899.1V899.2M938.5 907.0V907.1M938.5 917.5V917.5M938.5 923.9V924.0M939.5 828.2V856.3M939.5 824.5V824.5M939.5 820.7V820.8M939.5 809.9V810.0M939.5 805.8V805.8M939.5 799.9V800.0M939.5 796.2V796.2M939.5 786.5V786.5M939.5 774.5V774.5M939.5 766.0V766.1M939.5 762.7V762.8M939.5 757.6V757.6M939.5 752.7V752.7M939.5 746.9V746.9M939.5 743.0V743.0M939.5 738.3V738.4M939.5 734.3V734.3M940.5 804.5V829.9M940.5 794.5V794.6M940.5 789.8V789.9M940.5 784.0V784.1M940.5 772.6V772.7M940.5 769.6V769.6M940.5 765.8V765.9M940.5 762.8V762.9M940.5 759.5V759.5M940.5 756.1V756.2M940.5 752.2V752.2M940.5 747.8V747.8M940.5 742.4V742.5M940.5 737.0V737.1M940.5 731.6V731.7M941.5 773.8V820.1M941.5 765.5V765.5M941.5 762.4V762.4M941.5 749.4V749.5M941.5 826.2V826.3M941.5 836.1V836.1M941.5 839.7V839.8M941.5 854.8V854.8M941.5 859.0V859.1M941.5 862.4V862.5M941.5 867.5V867.6M941.5 872.8V872.9M941.5 876.6V876.6M941.5 884.6V884.6M941.5 888.8V888.8M941.5 893.4V893.5M941.5 896.7V896.7M941.5 900.5V900.6M942.5 746.4V786.6M942.5 740.9V740.9M942.5 733.5V733.5M942.5 790.9V791.0M942.5 793.9V794.0M942.5 797.4V797.5M942.5 801.0V801.0M942.5 806.4V806.4M942.5 810.3V810.3M942.5 815.3V815.3M942.5 818.3V818.4M942.5 822.2V822.3M942.5 825.5V825.6M942.5 831.8V831.9M942.5 838.0V838.1M942.5 846.3V846.4M942.5 849.5V849.6M942.5 857.1V857.2M942.5 864.9V864.9M942.5 879.4V879.5M942.5 883.1V883.2M942.5 888.3V888.3M943.5 736.0V775.2M943.5 730.7V730.7M943.5 726.3V726.3M943.5 723.7V723.7M943.5 778.7V778.7M943.5 782.2V782.3M943.5 786.4V786.5M943.5 793.7V793.7M943.5 797.6V797.7M943.5 801.7V801.7M943.5 805.5V805.6M943.5 808.9V808.9M943.5 815.1V815.1M943.5 818.1V818.2M943.5 821.6V821.7M943.5 825.8V825.9M943.5 832.3V832.4M943.5 837.1V837.2M943.5 841.1V841.2M943.5 845.6V845.6M943.5 858.5V858.6M944.5 721.8V759.2M944.5 762.6V762.7M944.5 767.4V767.4M944.5 772.0V772.1M944.5 777.6V777.7M944.5 783.6V783.7M944.5 792.2V792.2M944.5 798.8V798.9M944.5 810.3V810.4M944.5 813.8V813.9M944.5 822.9V823.0M944.5 831.0V831.0M945.5 728.6V759.6M945.5 724.3V724.4M945.5 762.8V762.8M945.5 771.7V771.7M945.5 775.3V775.4M945.5 781.0V781.0M945.5 785.0V785.1M945.5 793.9V794.0M945.5 803.9V803.9M945.5 809.9V809.9M946.5 745.3V763.9M946.5 770.3V770.4M946.5 785.7V785.7M946.5 791.7V791.8M946.5 800.5V800.5M946.5 807.0V807.0M946.5 809.2V809.2M947.5 748.5V767.8M947.5 775.3V775.4M947.5 778.7V778.7M947.5 782.1V782.1M947.5 793.2V793.3M947.5 798.6V798.6M948.5 739.0V769.5M948.5 731.8V731.9M948.5 775.2V775.3M948.5 780.2V780.2M949.5 743.8V781.4M949.5 734.3V734.4M950.5 755.8V796.1M950.5 751.9V751.9M950.5 744.5V744.5M950.5 741.4V741.4M950.5 738.2V738.3M950.5 734.3V734.4M950.5 724.5V724.6M950.5 712.0V712.1M950.5 708.3V708.4M950.5 800.0V800.1M950.5 806.2V806.2M951.5 748.6V783.9M951.5 742.5V742.5M951.5 736.8V736.8M951.5 731.8V731.9M951.5 728.5V728.6M951.5 725.2V725.2M951.5 720.1V720.2M951.5 715.3V715.4M951.5 708.9V709.0M951.5 702.3V702.3M951.5 697.3V697.3M951.5 691.2V691.2M951.5 687.4V687.4M951.5 683.6V683.7M951.5 680.3V680.4M951.5 788.2V788.3M952.5 714.9V748.9M952.5 710.5V710.5M952.5 702.0V702.1M952.5 692.8V692.8M952.5 685.7V685.7M952.5 679.8V679.8M952.5 673.2V673.2M952.5 669.1V669.2M952.5 662.7V662.7M952.5 658.6V658.7M952.5 655.1V655.2M952.5 753.2V753.3M952.5 756.0V756.1M953.5 676.0V718.7M953.5 670.2V670.2M953.5 666.6V666.6M953.5 663.2V663.2M953.5 658.9V658.9M953.5 653.3V653.4M953.5 722.5V722.6M954.5 658.6V679.8M954.5 686.8V686.8M954.5 689.9V690.0M954.5 700.1V700.1M954.5 703.8V703.8M954.5 707.5V707.6M955.5 656.9V670.2M956.5 657.9V675.2M956.5 654.1V654.2M957.5 658.7V675.8M957.5 653.3V653.4M958.5 656.8V692.4M958.5 653.5V653.5M958.5 696.1V696.2M958.5 699.5V699.6M959.5 655.4V695.5M960.5 656.0V693.9M960.5 697.5V697.5M961.5 658.2V680.3M961.5 655.5V655.5M962.5 660.1V677.9M962.5 656.2V656.2M963.5 654.2V675.3M964.5 654.3V673.1M964.5 651.5V651.5M965.5 649.0V688.7M965.5 693.1V693.1M965.5 696.1V696.2M965.5 700.6V700.6M966.5 658.1V692.0M966.5 652.6V652.7M966.5 697.5V697.6M966.5 701.4V701.5M967.5 677.1V705.6M967.5 709.7V709.7M967.5 712.7V712.7M968.5 669.1V691.4M968.5 660.0V660.0M969.5 670.0V711.9M969.5 664.0V664.0M969.5 717.2V717.2M969.5 720.9V720.9M970.5 676.6V718.8M970.5 673.4V673.5M970.5 670.1V670.1M970.5 722.0V722.1M970.5 725.0V725.1M970.5 732.8V732.9M970.5 738.0V738.0M970.5 755.3V755.4M970.5 764.8V764.8M971.5 701.8V741.2M971.5 696.8V696.8M971.5 690.8V690.9M971.5 683.3V683.3M971.5 679.4V679.5M971.5 750.5V750.5M971.5 760.3V760.4M971.5 766.3V766.4M971.5 770.1V770.1M971.5 776.1V776.2M971.5 782.9V783.0M971.5 791.1V791.1M971.5 794.7V794.7M972.5 724.0V762.2M972.5 718.6V718.6M972.5 711.7V711.7M972.5 707.0V707.1M972.5 702.7V702.8M972.5 697.0V697.0M972.5 686.3V686.3M972.5 773.8V773.8M972.5 777.7V777.8M972.5 782.1V782.1M972.5 789.1V789.2M972.5 796.9V797.0M972.5 802.8V802.8M972.5 807.7V807.8M972.5 811.0V811.1M972.5 819.3V819.3M972.5 826.8V826.9M972.5 832.8V832.9M972.5 836.6V836.6M972.5 847.7V847.7M972.5 853.4V853.5M972.5 856.8V856.8M972.5 863.7V863.7M973.5 768.1V811.0M973.5 760.0V760.1M973.5 755.1V755.1M973.5 748.4V748.5M973.5 744.2V744.3M973.5 737.0V737.0M973.5 727.0V727.0M973.5 723.5V723.6M973.5 717.0V717.0M973.5 708.0V708.1M973.5 703.4V703.5M973.5 699.8V699.9M973.5 693.4V693.4M973.5 814.7V814.7M973.5 821.3V821.3M973.5 824.9V824.9M973.5 829.6V829.6M973.5 835.6V835.7M973.5 842.8V842.9M973.5 855.7V855.7M973.5 865.1V865.2M973.5 869.9V870.0M973.5 873.0V873.0M974.5 794.5V832.8M974.5 791.0V791.0M974.5 777.3V777.3M974.5 771.9V772.0M974.5 764.9V765.0M974.5 757.0V757.1M974.5 749.5V749.6M974.5 745.4V745.5M974.5 737.7V737.7M974.5 733.6V733.6M974.5 722.3V722.3M974.5 718.1V718.1M974.5 714.6V714.7M974.5 710.7V710.7M974.5 705.9V706.0M974.5 699.1V699.1M974.5 696.0V696.1M974.5 842.8V842.9M975.5 741.7V786.8M975.5 733.7V733.7M975.5 725.7V725.8M975.5 718.4V718.5M975.5 714.6V714.6M975.5 711.4V711.5M975.5 700.6V700.6M975.5 693.4V693.4M975.5 794.0V794.0M975.5 799.0V799.0M975.5 804.1V804.2M975.5 812.9V813.0M975.5 818.4V818.4M975.5 823.4V823.4M975.5 826.8V826.8M975.5 830.4V830.5M975.5 834.9V835.0M975.5 844.1V844.1M975.5 848.9V849.0M976.5 715.7V748.6M976.5 753.2V753.3M976.5 759.5V759.5M976.5 762.6V762.7M976.5 775.8V775.9M976.5 779.7V779.7M976.5 783.6V783.6M976.5 788.0V788.0M976.5 791.8V791.8M976.5 800.4V800.4M976.5 804.7V804.8M976.5 808.7V808.7M976.5 822.2V822.2M976.5 834.1V834.1M976.5 838.5V838.5M977.5 711.3V734.0M977.5 738.6V738.7M977.5 742.7V742.7M977.5 760.7V760.8M977.5 764.4V764.4M977.5 777.3V777.3M977.5 790.2V790.2M977.5 797.3V797.3M977.5 803.1V803.2M977.5 806.8V806.9M977.5 810.5V810.5M977.5 814.9V815.0M977.5 823.6V823.7M977.5 828.9V828.9M977.5 832.2V832.3M977.5 834.3V834.4M978.5 685.8V721.3M978.5 726.6V726.7M978.5 732.6V732.6M978.5 741.9V742.0M978.5 751.2V751.3M978.5 755.1V755.1M978.5 758.7V758.8M978.5 764.0V764.1M978.5 775.6V775.6M978.5 778.6V778.7M978.5 783.5V783.6M978.5 787.7V787.8M978.5 804.4V804.5M978.5 808.2V808.3M978.5 813.3V813.3M978.5 818.2V818.3M978.5 823.1V823.1M978.5 826.3V826.4M978.5 829.4V829.4M978.5 835.5V835.5M979.5 726.6V768.6M979.5 721.9V721.9M979.5 713.2V713.2M979.5 705.6V705.7M979.5 700.5V700.5M979.5 690.7V690.8M979.5 688.2V688.2M979.5 772.9V772.9M979.5 780.6V780.6M979.5 784.7V784.8M980.5 779.0V813.7M980.5 766.5V766.6M980.5 761.0V761.1M980.5 757.0V757.1M980.5 751.6V751.7M980.5 745.8V745.9M980.5 742.4V742.5M980.5 736.0V736.1M980.5 724.4V724.5M980.5 721.3V721.3M980.5 716.9V716.9M980.5 711.8V711.9M980.5 707.7V707.7M980.5 702.1V702.1M980.5 817.4V817.4M980.5 826.6V826.6M980.5 834.7V834.8M980.5 841.3V841.3M981.5 816.5V844.3M981.5 812.2V812.3M981.5 807.1V807.2M981.5 800.3V800.3M981.5 793.6V793.7M981.5 789.4V789.5M981.5 784.2V784.2M981.5 780.6V780.7M981.5 765.0V765.1M981.5 761.4V761.4M981.5 758.0V758.1M981.5 753.9V754.0M981.5 750.4V750.5M981.5 736.0V736.0M981.5 728.2V728.3M981.5 722.9V723.0M981.5 719.6V719.6M981.5 712.0V712.1M982.5 809.6V846.8M982.5 802.1V802.2M982.5 797.1V797.1M982.5 785.7V785.7M982.5 777.8V777.9M982.5 771.8V771.9M982.5 760.4V760.5M982.5 756.8V756.8M982.5 747.8V747.8M982.5 739.6V739.6M982.5 735.0V735.0M982.5 729.7V729.7M982.5 726.2V726.3M982.5 723.9V724.0M983.5 803.7V845.4M983.5 798.2V798.2M983.5 772.8V772.9M983.5 769.4V769.4M983.5 765.7V765.7M983.5 760.5V760.5M983.5 757.1V757.2M983.5 752.3V752.3M983.5 744.0V744.0M983.5 736.5V736.5M983.5 733.2V733.3M984.5 819.5V840.3M984.5 809.2V809.3M985.5 814.0V838.0M985.5 844.6V844.6M986.5 761.4V798.8M986.5 758.3V758.4M986.5 754.2V754.2M986.5 807.4V807.5M986.5 810.9V811.0M986.5 815.1V815.1M987.5 799.0V835.8M987.5 793.2V793.2M987.5 787.2V787.2M987.5 775.8V775.9M987.5 772.2V772.2M987.5 766.3V766.4M987.5 756.0V756.0M987.5 843.2V843.3M988.5 798.8V833.6M988.5 794.5V794.5M988.5 789.4V789.4M988.5 786.1V786.2M988.5 777.7V777.8M988.5 771.1V771.2M988.5 765.2V765.3M988.5 761.7V761.7M988.5 749.3V749.4M988.5 838.3V838.4M988.5 842.2V842.3M989.5 767.1V800.2M989.5 763.2V763.3M989.5 759.2V759.2M989.5 808.5V808.5M989.5 812.5V812.5M989.5 816.5V816.6M989.5 833.5V833.6M989.5 839.2V839.2M989.5 847.7V847.8M989.5 857.7V857.8M990.5 736.0V764.9M990.5 768.8V768.8M990.5 773.6V773.7M990.5 787.7V787.8M990.5 791.8V791.8M990.5 795.3V795.3M990.5 798.0V798.0M991.5 742.7V779.1M991.5 738.1V738.1M991.5 732.9V732.9M991.5 729.3V729.4M991.5 787.4V787.5M991.5 790.5V790.6M991.5 796.7V796.8M991.5 806.4V806.5M991.5 810.2V810.2M991.5 815.3V815.3M991.5 822.5V822.6M991.5 826.3V826.4M991.5 830.3V830.4M991.5 848.3V848.3M991.5 851.4V851.5M991.5 855.8V855.9M991.5 860.8V860.8M991.5 864.1V864.1M991.5 867.4V867.5M991.5 871.6V871.7M991.5 879.9V880.0M991.5 883.6V883.7M991.5 892.4V892.5M992.5 799.4V834.3M992.5 790.9V790.9M992.5 783.3V783.4M992.5 777.0V777.1M992.5 771.8V771.8M992.5 766.0V766.0M992.5 753.7V753.8M992.5 740.8V740.9M992.5 736.8V736.9M992.5 841.6V841.7M992.5 846.9V846.9M992.5 851.8V851.8M992.5 863.4V863.5M992.5 871.1V871.2M992.5 874.8V874.9M992.5 879.2V879.3M992.5 899.6V899.6M992.5 908.4V908.4M992.5 917.6V917.6M992.5 920.6V920.7M993.5 840.3V877.1M993.5 827.0V827.1M993.5 824.0V824.1M993.5 813.9V813.9M993.5 810.3V810.3M993.5 807.2V807.2M993.5 799.4V799.4M993.5 791.7V791.7M993.5 786.0V786.0M993.5 779.2V779.2M993.5 774.5V774.6M993.5 768.1V768.2M993.5 757.5V757.5M993.5 754.3V754.4M993.5 750.4V750.5M993.5 745.8V745.9M993.5 882.4V882.5M993.5 889.6V889.6M993.5 896.4V896.4M993.5 903.9V904.0M993.5 908.4V908.4M993.5 916.9V916.9M993.5 922.2V922.3M993.5 925.8V925.9M994.5 851.5V891.2M994.5 847.2V847.3M994.5 840.2V840.3M994.5 825.6V825.7M994.5 821.2V821.3M994.5 814.0V814.0M994.5 809.5V809.6M994.5 797.9V798.0M994.5 790.1V790.1M994.5 785.5V785.6M994.5 779.1V779.2M994.5 775.3V775.3M994.5 770.5V770.5M994.5 764.1V764.1M994.5 760.4V760.4M994.5 756.2V756.2M994.5 899.5V899.6M994.5 904.8V904.9M994.5 909.5V909.6M994.5 914.5V914.5M994.5 918.3V918.3M995.5 835.4V873.7M995.5 827.8V827.9M995.5 822.4V822.4M995.5 815.1V815.2M995.5 810.8V810.8M995.5 807.5V807.6M995.5 799.7V799.7M995.5 794.6V794.7M995.5 789.7V789.8M995.5 777.4V777.5M995.5 773.6V773.6M995.5 766.9V767.0M995.5 758.4V758.5M995.5 754.8V754.8M995.5 882.3V882.3M995.5 886.3V886.3M995.5 892.1V892.1M996.5 824.5V847.9M996.5 851.7V851.7M996.5 855.3V855.3M996.5 861.4V861.5M996.5 866.7V866.8M996.5 873.9V874.0M996.5 878.1V878.2M996.5 881.2V881.3M996.5 891.9V892.0M996.5 895.9V896.0M996.5 899.6V899.7M997.5 798.8V816.2M997.5 820.3V820.4M997.5 824.2V824.2M997.5 828.0V828.0M997.5 832.5V832.6M997.5 845.7V845.8M997.5 855.7V855.8M997.5 860.7V860.7M997.5 863.7V863.8M997.5 868.6V868.6M997.5 872.8V872.9M997.5 877.2V877.3M997.5 883.4V883.5M997.5 886.8V886.9M998.5 779.7V802.6M998.5 823.9V824.0M998.5 837.7V837.7M998.5 841.0V841.1M998.5 850.1V850.1M998.5 859.1V859.1M998.5 864.6V864.7M999.5 754.8V788.4M999.5 791.6V791.6M999.5 795.2V795.3M999.5 800.0V800.1M999.5 808.1V808.2M999.5 812.0V812.0M999.5 818.3V818.4M999.5 821.4V821.4M999.5 828.2V828.3M999.5 832.6V832.7M999.5 842.4V842.5M1000.5 754.8V783.7M1000.5 787.1V787.1M1000.5 793.6V793.6M1000.5 800.9V801.0M1000.5 804.7V804.7M1000.5 810.7V810.7M1000.5 813.7V813.8M1000.5 817.9V817.9M1000.5 823.1V823.2M1001.5 754.8V788.4M1001.5 794.7V794.7M1001.5 800.8V800.9M1001.5 805.3V805.4M1001.5 809.8V809.8M1001.5 814.3V814.4M1002.5 764.1V788.3M1003.5 767.5V793.8M1003.5 798.8V798.9M1003.5 801.1V801.2M1004.5 766.2V793.1M1005.5 762.9V791.5M1005.5 794.9V795.0M1006.5 754.8V777.0M1007.5 758.7V782.6M1007.5 754.8V754.9M1008.5 758.3V788.8M1008.5 756.2V756.3M1009.5 772.6V802.6M1009.5 804.9V805.0M1010.5 763.8V802.5M1010.5 807.5V807.5M1011.5 769.3V796.5M1011.5 802.5V802.5M1011.5 807.4V807.4M1011.5 810.5V810.5M1012.5 764.1V803.0M1013.5 773.3V796.8M1013.5 765.8V765.9M1014.5 780.5V819.7M1014.5 776.7V776.8M1014.5 773.0V773.0M1014.5 767.3V767.4M1015.5 779.8V818.4M1015.5 774.6V774.6M1015.5 770.6V770.7M1015.5 823.0V823.1M1016.5 784.6V822.2M1016.5 780.1V780.1M1016.5 775.6V775.6M1016.5 770.8V770.9M1016.5 827.4V827.5M1017.5 781.0V805.7M1018.5 768.7V790.9M1019.5 784.3V808.0M1019.5 816.5V816.5M1020.5 779.8V810.7M1020.5 770.8V770.8M1020.5 764.8V764.8M1020.5 760.8V760.9M1020.5 814.9V815.0M1020.5 818.5V818.6M1020.5 824.0V824.1M1020.5 830.2V830.3M1020.5 835.4V835.5M1021.5 765.4V808.1M1021.5 758.7V758.7M1021.5 812.5V812.5M1021.5 821.4V821.5M1021.5 824.9V825.0M1021.5 837.4V837.5M1022.5 759.5V798.3M1022.5 754.6V754.7M1022.5 751.3V751.3M1022.5 802.2V802.2M1022.5 805.3V805.3M1022.5 813.3V813.4M1022.5 819.3V819.3M1022.5 827.9V827.9M1022.5 833.2V833.2M1022.5 838.7V838.8M1022.5 842.1V842.2M1023.5 793.6V814.2M1023.5 821.0V821.1M1023.5 827.2V827.2M1023.5 833.0V833.1M1023.5 841.8V841.9M1023.5 847.5V847.6M1024.5 811.8V839.3M1024.5 846.3V846.4M1024.5 852.2V852.3M1025.5 816.6V858.0M1025.5 811.8V811.9M1025.5 808.3V808.4M1025.5 805.1V805.1M1025.5 797.2V797.3M1025.5 790.9V791.0M1025.5 781.2V781.2M1025.5 777.8V777.9M1025.5 766.5V766.5M1025.5 753.4V753.4M1025.5 747.4V747.4M1025.5 737.2V737.2M1025.5 733.4V733.4M1025.5 725.6V725.7M1025.5 722.1V722.2M1025.5 719.3V719.3M1025.5 863.3V863.3M1026.5 769.0V807.1M1026.5 756.9V757.0M1026.5 752.6V752.7M1026.5 749.3V749.3M1026.5 743.2V743.2M1026.5 737.6V737.6M1026.5 734.4V734.5M1026.5 727.3V727.4M1026.5 721.3V721.3M1026.5 717.0V717.1M1026.5 712.9V713.0M1026.5 708.9V709.0M1026.5 810.4V810.5M1026.5 817.1V817.1M1026.5 820.1V820.2M1026.5 825.5V825.5M1026.5 829.0V829.0M1026.5 834.7V834.8M1026.5 840.2V840.3M1026.5 849.7V849.8M1026.5 853.8V853.8M1026.5 859.8V859.8M1026.5 863.2V863.3M1026.5 867.2V867.2M1026.5 870.6V870.6M1027.5 728.0V768.1M1027.5 720.7V720.7M1027.5 709.8V709.9M1027.5 702.5V702.5M1027.5 772.0V772.0M1027.5 775.4V775.4M1027.5 780.9V780.9M1027.5 786.6V786.7M1027.5 790.3V790.3M1027.5 797.5V797.5M1027.5 803.7V803.7M1027.5 808.2V808.3M1027.5 816.5V816.6M1027.5 822.9V823.0M1027.5 828.4V828.5M1027.5 836.7V836.8M1027.5 847.7V847.8M1027.5 852.3V852.3M1027.5 856.2V856.2M1027.5 862.0V862.1M1028.5 726.1V749.5M1028.5 755.4V755.5M1028.5 760.0V760.0M1028.5 765.0V765.1M1028.5 769.0V769.1M1028.5 775.6V775.6M1028.5 783.7V783.7M1028.5 790.9V791.0M1028.5 794.2V794.3M1028.5 797.5V797.5M1028.5 807.9V807.9M1028.5 813.6V813.7M1028.5 819.1V819.2M1028.5 823.9V823.9M1028.5 826.6V826.6M1029.5 720.2V749.8M1029.5 755.6V755.7M1029.5 768.7V768.8M1029.5 772.7V772.7M1029.5 775.9V775.9M1029.5 782.3V782.3M1029.5 786.7V786.8M1029.5 794.3V794.4M1029.5 801.1V801.1M1029.5 804.9V805.0M1029.5 812.8V812.8M1029.5 816.3V816.3M1029.5 828.5V828.5M1029.5 833.7V833.7M1029.5 839.5V839.6M1029.5 850.6V850.6M1030.5 707.0V742.7M1030.5 703.5V703.5M1030.5 697.9V698.0M1030.5 683.1V683.1M1030.5 749.1V749.2M1030.5 754.5V754.6M1030.5 762.7V762.8M1030.5 769.3V769.3M1030.5 773.7V773.7M1030.5 777.4V777.5M1030.5 796.3V796.3M1030.5 803.7V803.7M1030.5 809.6V809.6M1030.5 814.8V814.9M1030.5 823.2V823.2M1030.5 831.5V831.5M1030.5 834.5V834.6M1030.5 840.6V840.6M1030.5 843.9V844.0M1031.5 688.6V725.0M1031.5 680.4V680.5M1031.5 676.7V676.7M1031.5 730.7V730.8M1031.5 737.5V737.5M1031.5 742.0V742.1M1031.5 749.1V749.1M1031.5 753.5V753.5M1031.5 758.0V758.1M1031.5 766.3V766.4M1031.5 778.7V778.7M1031.5 782.5V782.5M1031.5 801.2V801.2M1031.5 809.1V809.2M1031.5 813.8V813.8M1031.5 819.4V819.5M1031.5 828.6V828.7M1031.5 832.9V833.0M1031.5 848.1V848.1M1031.5 854.3V854.3M1032.5 717.2V752.6M1032.5 710.9V710.9M1032.5 707.5V707.5M1032.5 700.5V700.6M1032.5 695.0V695.0M1032.5 691.8V691.9M1032.5 688.2V688.3M1032.5 685.9V686.0M1032.5 758.0V758.1M1032.5 765.4V765.4M1032.5 772.1V772.1M1032.5 778.5V778.5M1032.5 784.5V784.6M1032.5 789.5V789.5M1032.5 796.1V796.1M1032.5 799.3V799.3M1032.5 802.9V803.0M1032.5 808.5V808.5M1032.5 818.7V818.8M1032.5 825.1V825.2M1032.5 829.0V829.1M1032.5 835.0V835.1M1032.5 849.9V849.9M1032.5 854.8V854.8M1032.5 863.4V863.4M1032.5 868.5V868.6M1032.5 874.2V874.3M1032.5 876.6V876.6M1033.5 755.4V791.7M1033.5 751.9V751.9M1033.5 747.9V748.0M1033.5 803.7V803.8M1033.5 807.4V807.5M1033.5 811.0V811.0M1033.5 816.5V816.6M1033.5 820.7V820.8M1033.5 831.7V831.7M1033.5 835.5V835.5M1033.5 844.8V844.8M1033.5 855.5V855.6M1033.5 860.6V860.6M1033.5 865.2V865.2M1033.5 869.1V869.2M1033.5 875.5V875.6M1033.5 881.2V881.2M1033.5 884.7V884.7M1033.5 888.0V888.1M1033.5 894.0V894.1M1033.5 898.6V898.6M1034.5 799.0V835.6M1034.5 789.0V789.0M1034.5 784.2V784.2M1034.5 777.5V777.6M1034.5 773.5V773.5M1034.5 761.1V761.2M1034.5 758.0V758.0M1034.5 754.0V754.1M1034.5 749.1V749.1M1034.5 745.5V745.5M1034.5 741.6V741.6M1034.5 738.4V738.5M1034.5 733.6V733.6M1034.5 725.1V725.2M1034.5 721.2V721.3M1034.5 717.3V717.3M1034.5 710.2V710.3M1034.5 704.4V704.4M1034.5 840.9V841.0M1034.5 844.3V844.4M1034.5 848.3V848.4M1034.5 853.8V853.9M1034.5 857.7V857.7M1034.5 862.8V862.9M1034.5 870.6V870.6M1034.5 878.1V878.2M1034.5 882.2V882.2M1034.5 891.0V891.0M1034.5 897.8V897.8M1034.5 903.0V903.0M1034.5 910.1V910.1M1035.5 842.0V883.5M1035.5 836.6V836.7M1035.5 831.9V832.0M1035.5 821.7V821.7M1035.5 818.2V818.2M1035.5 813.9V813.9M1035.5 810.4V810.4M1035.5 806.7V806.8M1035.5 801.9V802.0M1035.5 794.2V794.3M1035.5 791.1V791.1M1035.5 786.6V786.6M1035.5 782.3V782.3M1035.5 777.1V777.2M1035.5 767.3V767.4M1035.5 759.7V759.7M1035.5 755.2V755.2M1035.5 751.4V751.5M1035.5 745.1V745.1M1035.5 741.7V741.7M1035.5 737.6V737.7M1035.5 733.9V734.0M1035.5 730.9V731.0M1035.5 726.2V726.3M1035.5 721.6V721.6M1035.5 888.9V889.0M1035.5 898.2V898.3M1036.5 869.4V911.1M1036.5 864.2V864.2M1036.5 859.5V859.5M1036.5 848.8V848.9M1036.5 845.1V845.1M1036.5 841.0V841.0M1036.5 834.2V834.2M1036.5 828.6V828.6M1036.5 822.1V822.1M1036.5 816.8V816.9M1036.5 808.2V808.3M1036.5 804.4V804.4M1036.5 799.2V799.3M1036.5 793.6V793.6M1036.5 913.8V913.9M1037.5 894.0V926.3M1037.5 889.9V890.0M1037.5 880.8V880.8M1037.5 873.1V873.1M1037.5 854.7V854.8M1037.5 847.5V847.6M1037.5 840.0V840.0M1037.5 831.2V831.3M1037.5 827.5V827.6M1038.5 888.9V930.9M1038.5 884.0V884.1M1038.5 880.4V880.5M1038.5 876.9V877.0M1038.5 869.9V869.9M1038.5 865.7V865.7M1038.5 862.7V862.7M1038.5 857.7V857.7M1038.5 852.9V852.9M1038.5 847.4V847.5M1038.5 842.4V842.4M1039.5 881.6V922.5M1039.5 877.2V877.3M1039.5 874.2V874.3M1039.5 928.0V928.0M1039.5 932.0V932.0M1040.5 885.0V923.2M1040.5 880.5V880.6M1040.5 877.1V877.1M1040.5 873.9V874.0M1040.5 870.4V870.5M1040.5 865.6V865.6M1040.5 863.5V863.6M1041.5 898.8V926.1M1041.5 893.5V893.6M1041.5 889.7V889.7M1041.5 886.1V886.2M1041.5 879.0V879.1M1041.5 874.3V874.4M1042.5 903.6V928.7M1042.5 898.2V898.2M1042.5 890.3V890.3M1042.5 882.8V882.9M1042.5 879.6V879.7M1043.5 919.0V936.0M1044.5 906.8V934.5M1044.5 937.5V937.6M1045.5 901.8V930.8M1045.5 938.3V938.4M1045.5 941.9V941.9M1046.5 909.1V925.9M1047.5 905.6V947.1M1047.5 902.0V902.1M1047.5 950.5V950.6M1048.5 916.7V954.9M1048.5 912.9V913.0M1048.5 905.1V905.2M1049.5 924.3V954.3M1049.5 915.7V915.8M1049.5 912.3V912.3M1049.5 908.7V908.8M1049.5 905.0V905.1M1049.5 901.8V901.8M1050.5 916.3V941.0M1050.5 913.3V913.4M1051.5 911.2V929.6M1051.5 908.1V908.1M1051.5 902.8V902.8M1051.5 890.9V891.0M1052.5 909.3V934.3M1053.5 895.0V923.2M1053.5 926.6V926.6M1053.5 931.4V931.4M1053.5 939.8V939.8M1053.5 943.3V943.3M1054.5 869.0V910.5M1054.5 920.6V920.6M1054.5 925.0V925.1M1054.5 929.9V929.9M1054.5 934.8V934.9M1054.5 938.5V938.5M1054.5 940.5V940.6M1055.5 861.0V903.6M1055.5 906.9V907.0M1055.5 910.5V910.6M1055.5 913.9V913.9M1055.5 917.8V917.8M1055.5 924.5V924.6M1055.5 927.9V927.9M1055.5 933.0V933.0M1055.5 938.4V938.4M1055.5 945.6V945.6M1056.5 888.0V919.8M1056.5 884.9V884.9M1056.5 878.6V878.7M1056.5 871.3V871.4M1056.5 867.4V867.5M1056.5 863.9V864.0M1056.5 860.8V860.8M1056.5 854.8V854.9M1056.5 923.1V923.1M1056.5 929.0V929.1M1056.5 931.3V931.4M1057.5 911.7V941.8M1057.5 907.4V907.5M1057.5 898.8V898.8M1057.5 889.4V889.5M1057.5 885.4V885.5M1057.5 878.3V878.3M1057.5 868.7V868.7M1057.5 862.2V862.3M1057.5 856.3V856.4M1057.5 850.8V850.9M1057.5 949.9V949.9M1057.5 955.6V955.6M1057.5 959.9V959.9M1058.5 916.0V950.0M1058.5 911.5V911.6M1058.5 953.3V953.3M1058.5 961.6V961.6M1058.5 967.6V967.6M1059.5 918.4V956.3M1059.5 959.8V959.9M1059.5 968.0V968.1M1059.5 976.8V976.9M1060.5 936.1V961.3M1060.5 972.0V972.0M1060.5 979.0V979.0M1060.5 981.8V981.9M1061.5 894.4V933.6M1061.5 887.5V887.5M1061.5 879.9V879.9M1061.5 874.1V874.2M1061.5 868.5V868.6M1061.5 861.8V861.9M1061.5 853.3V853.4M1061.5 844.0V844.0M1061.5 838.7V838.8M1061.5 834.8V834.9M1061.5 936.8V936.9M1061.5 940.9V940.9M1061.5 944.7V944.8M1061.5 949.3V949.3M1061.5 956.7V956.8M1061.5 966.7V966.7M1061.5 970.8V970.9M1061.5 975.6V975.6M1061.5 982.8V982.9M1061.5 986.1V986.1M1062.5 873.6V910.9M1062.5 869.8V869.8M1062.5 863.1V863.2M1062.5 847.8V847.8M1062.5 844.1V844.1M1062.5 841.0V841.1M1062.5 837.6V837.7M1062.5 833.3V833.4M1062.5 831.0V831.0M1062.5 914.0V914.0M1062.5 917.8V917.8M1062.5 922.7V922.8M1062.5 934.3V934.3M1062.5 943.8V943.9M1062.5 947.4V947.4M1062.5 951.0V951.0M1062.5 956.1V956.1M1062.5 964.6V964.7M1062.5 971.0V971.1M1062.5 984.8V984.8M1062.5 987.1V987.1M1063.5 838.9V880.4M1063.5 830.5V830.5M1063.5 827.7V827.7M1063.5 889.1V889.1M1063.5 903.1V903.2M1063.5 906.8V906.9M1063.5 912.4V912.4M1063.5 915.9V916.0M1063.5 920.2V920.2M1063.5 927.5V927.5M1063.5 931.8V931.8M1063.5 939.2V939.3M1063.5 942.6V942.6M1063.5 950.4V950.4M1063.5 953.5V953.6M1063.5 961.0V961.0M1063.5 966.3V966.3M1063.5 971.0V971.0M1063.5 973.7V973.8M1064.5 836.5V863.3M1064.5 867.2V867.2M1064.5 871.6V871.6M1064.5 875.1V875.2M1065.5 821.0V860.8M1065.5 870.1V870.2M1065.5 877.5V877.5M1065.5 880.8V880.9M1065.5 887.2V887.2M1065.5 893.4V893.4M1065.5 898.3V898.3M1065.5 902.4V902.5M1065.5 906.2V906.2M1065.5 909.3V909.3M1065.5 913.5V913.6M1065.5 917.8V917.8M1065.5 922.0V922.0M1065.5 929.4V929.4M1065.5 933.4V933.5M1065.5 936.7V936.8M1065.5 941.0V941.1M1065.5 944.2V944.2M1065.5 947.1V947.1M1066.5 817.7V845.1M1066.5 848.9V848.9M1066.5 854.7V854.7M1066.5 859.0V859.1M1066.5 863.0V863.1M1066.5 866.9V866.9M1066.5 871.2V871.2M1066.5 876.5V876.6M1066.5 881.8V881.9M1066.5 885.0V885.0M1066.5 892.5V892.6M1066.5 896.1V896.1M1066.5 904.2V904.2M1066.5 908.2V908.2M1066.5 916.2V916.3M1066.5 919.4V919.5M1066.5 926.1V926.1M1066.5 933.7V933.8M1067.5 842.0V870.7M1067.5 838.9V838.9M1067.5 834.1V834.1M1067.5 830.8V830.9M1067.5 881.5V881.5M1067.5 885.8V885.8M1067.5 894.3V894.3M1067.5 901.4V901.4M1067.5 907.2V907.3M1067.5 911.3V911.4M1067.5 918.5V918.6M1067.5 921.7V921.8M1067.5 931.4V931.4M1068.5 873.6V901.3M1068.5 869.0V869.0M1068.5 864.9V865.0M1068.5 860.6V860.7M1069.5 895.6V922.1M1069.5 889.5V889.5M1069.5 885.8V885.8M1069.5 879.2V879.2M1069.5 876.4V876.4M1070.5 899.7V933.4M1070.5 890.8V890.9M1070.5 880.4V880.5M1071.5 900.1V934.6M1071.5 892.5V892.5M1072.5 904.4V937.1M1072.5 900.6V900.6M1072.5 895.5V895.5M1073.5 923.9V936.8M1074.5 927.0V941.6M1075.5 930.1V943.3M1076.5 920.4V947.1M1076.5 915.5V915.6M1076.5 912.0V912.0M1076.5 907.5V907.6M1077.5 918.0V947.9M1077.5 914.7V914.8M1077.5 910.6V910.7M1077.5 906.3V906.3M1078.5 921.7V945.4M1078.5 916.2V916.2M1078.5 910.6V910.7M1078.5 903.4V903.4M1078.5 892.8V892.9M1078.5 889.4V889.5M1079.5 918.5V937.2M1079.5 939.4V939.5M1080.5 895.4V915.0M1080.5 923.8V923.8M1080.5 927.9V928.0M1080.5 931.1V931.2M1080.5 936.5V936.5M1081.5 862.5V898.0M1082.5 854.1V891.1M1082.5 850.3V850.4M1082.5 846.6V846.7M1082.5 841.2V841.3M1082.5 832.5V832.6M1082.5 829.4V829.5M1082.5 903.0V903.1M1082.5 912.6V912.7M1082.5 917.9V918.0M1082.5 922.2V922.3M1082.5 931.8V931.8M1082.5 935.4V935.5M1083.5 841.6V879.7M1083.5 835.0V835.0M1083.5 830.9V831.0M1083.5 823.5V823.6M1083.5 819.5V819.6M1083.5 883.0V883.0M1083.5 888.4V888.5M1083.5 892.2V892.3M1083.5 895.7V895.8M1083.5 912.3V912.4M1083.5 920.1V920.1M1083.5 931.7V931.7M1084.5 838.1V877.1M1084.5 832.1V832.1M1084.5 825.9V825.9M1084.5 817.5V817.6M1084.5 885.4V885.5M1084.5 889.5V889.6M1084.5 894.9V894.9M1084.5 898.2V898.2M1084.5 901.5V901.6M1084.5 910.1V910.2M1084.5 913.1V913.2M1084.5 916.7V916.8M1084.5 920.6V920.7M1084.5 928.1V928.2M1084.5 931.8V931.8M1085.5 871.9V893.0M1085.5 901.7V901.8M1085.5 906.9V906.9M1085.5 910.3V910.3M1085.5 920.8V920.8M1085.5 925.1V925.1M1086.5 868.4V897.8M1086.5 900.9V901.0M1086.5 905.7V905.7M1086.5 913.1V913.1M1087.5 859.8V892.5M1087.5 850.3V850.3M1087.5 844.6V844.7M1087.5 838.5V838.5M1087.5 834.7V834.8M1087.5 831.2V831.2M1087.5 827.6V827.7M1087.5 823.7V823.7M1087.5 819.5V819.6M1087.5 812.6V812.6M1087.5 899.3V899.4M1087.5 902.4V902.4M1087.5 905.8V905.8M1087.5 910.4V910.4M1087.5 914.4V914.5M1088.5 852.7V886.1M1088.5 843.8V843.8M1088.5 839.2V839.2M1088.5 834.8V834.9M1088.5 830.7V830.8M1088.5 823.8V823.8M1088.5 820.0V820.1M1088.5 815.8V815.8M1088.5 811.4V811.5M1088.5 893.4V893.4M1088.5 899.8V899.8M1088.5 906.2V906.2M1088.5 910.1V910.2M1088.5 913.8V913.8M1088.5 919.4V919.4M1088.5 923.0V923.0M1088.5 925.8V925.8M1089.5 831.3V869.6M1089.5 824.5V824.5M1089.5 820.5V820.5M1089.5 814.9V815.0M1089.5 808.3V808.4M1089.5 805.8V805.8M1089.5 873.1V873.1M1089.5 876.3V876.3M1089.5 883.4V883.5M1089.5 889.2V889.3M1089.5 894.9V894.9M1089.5 908.8V908.8M1089.5 918.0V918.1M1089.5 925.7V925.7M1090.5 816.9V854.3M1090.5 813.8V813.9M1090.5 808.3V808.4M1090.5 804.9V805.0M1090.5 801.8V801.8M1090.5 863.5V863.6M1090.5 868.5V868.6M1090.5 878.3V878.4M1090.5 882.3V882.3M1090.5 888.5V888.5M1090.5 910.9V910.9M1090.5 915.1V915.1M1090.5 921.1V921.1M1090.5 927.7V927.7M1091.5 810.3V836.9M1091.5 804.3V804.4M1091.5 800.7V800.7M1092.5 817.2V853.7M1092.5 806.5V806.6M1092.5 859.7V859.7M1092.5 864.8V864.8M1093.5 821.3V847.7M1093.5 817.5V817.6M1093.5 814.7V814.8M1094.5 854.8V891.2M1094.5 851.7V851.8M1094.5 834.4V834.5M1094.5 822.0V822.0M1094.5 816.8V816.9M1094.5 895.9V895.9M1094.5 907.2V907.3M1095.5 876.5V911.2M1095.5 856.8V856.8M1095.5 851.4V851.5M1095.5 846.9V847.0M1095.5 842.0V842.0M1095.5 835.6V835.7M1095.5 831.6V831.7M1095.5 827.2V827.3M1095.5 818.5V818.5M1096.5 880.2V904.9M1096.5 867.1V867.2M1096.5 853.9V853.9M1096.5 848.8V848.9M1096.5 843.1V843.2M1096.5 836.0V836.1M1096.5 830.4V830.4M1096.5 823.7V823.7M1096.5 817.1V817.1M1097.5 885.9V924.1M1097.5 880.1V880.2M1097.5 867.4V867.4M1097.5 863.8V863.8M1097.5 859.3V859.3M1097.5 927.3V927.4M1097.5 941.7V941.7M1098.5 881.6V913.2M1098.5 867.5V867.5M1098.5 863.9V864.0M1098.5 859.9V859.9M1098.5 856.6V856.7M1098.5 853.4V853.4M1098.5 847.5V847.5M1098.5 843.0V843.0M1098.5 835.0V835.1M1098.5 831.9V831.9M1098.5 824.6V824.6M1098.5 820.3V820.4M1098.5 816.6V816.6M1098.5 812.4V812.5M1098.5 809.0V809.0M1098.5 916.6V916.6M1098.5 920.0V920.0M1098.5 925.4V925.4M1098.5 930.2V930.2M1098.5 933.5V933.5M1098.5 941.2V941.2M1099.5 847.9V886.4M1099.5 844.6V844.7M1099.5 837.7V837.8M1099.5 832.4V832.5M1099.5 821.3V821.3M1099.5 817.4V817.5M1099.5 812.8V812.8M1099.5 807.4V807.4M1099.5 805.2V805.2M1099.5 900.4V900.4M1099.5 907.0V907.0M1099.5 911.6V911.7M1099.5 919.1V919.2M1099.5 927.0V927.1M1099.5 936.1V936.1M1100.5 832.3V856.2M1100.5 828.1V828.2M1100.5 824.1V824.1M1100.5 819.5V819.6M1100.5 814.0V814.0M1100.5 810.0V810.1M1101.5 847.2V873.7M1101.5 839.4V839.4M1101.5 833.3V833.4M1101.5 829.8V829.8M1101.5 825.8V825.8M1101.5 819.5V819.6M1101.5 816.5V816.6M1102.5 868.3V897.2M1102.5 864.1V864.2M1102.5 853.5V853.5M1102.5 851.3V851.4M1103.5 855.7V893.5M1103.5 852.0V852.1M1103.5 840.8V840.9M1103.5 836.1V836.1M1103.5 832.1V832.2M1103.5 826.0V826.1M1103.5 898.0V898.0M1103.5 902.1V902.1M1103.5 908.7V908.7M1103.5 912.2V912.2M1103.5 914.2V914.2M1104.5 843.5V877.4M1104.5 839.9V839.9M1104.5 834.7V834.8M1104.5 830.7V830.8M1104.5 826.7V826.7M1104.5 880.5V880.5M1104.5 889.4V889.5M1104.5 892.4V892.5M1104.5 896.0V896.1M1104.5 901.7V901.7M1104.5 906.9V907.0M1104.5 909.9V910.0M1104.5 913.3V913.3M1104.5 919.0V919.1M1105.5 825.6V861.9M1105.5 822.0V822.1M1105.5 868.4V868.5M1105.5 871.7V871.7M1105.5 882.4V882.5M1105.5 887.9V888.0M1105.5 892.5V892.5M1105.5 897.2V897.2M1105.5 903.9V904.0M1105.5 909.4V909.4M1105.5 914.0V914.0M1105.5 916.0V916.0M1106.5 837.9V861.5M1106.5 866.1V866.2M1106.5 879.2V879.3M1106.5 883.5V883.6M1106.5 887.1V887.2M1106.5 892.3V892.4M1106.5 896.5V896.5M1106.5 901.2V901.2M1106.5 905.7V905.8M1106.5 913.9V914.0M1106.5 917.0V917.0M1106.5 920.6V920.6M1107.5 819.8V854.0M1107.5 813.7V813.7M1107.5 858.6V858.7M1107.5 861.7V861.7M1107.5 865.7V865.8M1107.5 878.3V878.3M1107.5 883.0V883.1M1107.5 885.8V885.8M1108.5 811.6V853.0M1108.5 808.0V808.1M1108.5 857.8V857.9M1108.5 866.3V866.3M1108.5 871.2V871.2M1108.5 875.9V875.9M1108.5 884.1V884.1M1108.5 892.3V892.3M1108.5 897.4V897.5M1108.5 901.6V901.6M1108.5 906.5V906.5M1109.5 815.9V857.3M1109.5 810.7V810.7M1109.5 867.6V867.6M1109.5 871.9V871.9M1109.5 877.2V877.2M1109.5 883.1V883.2M1109.5 886.9V886.9M1109.5 889.9V890.0M1109.5 900.8V900.9M1109.5 906.9V907.0M1109.5 910.6V910.7M1109.5 919.2V919.2M1109.5 923.2V923.2M1109.5 926.7V926.7M1109.5 932.6V932.7M1110.5 843.6V878.5M1110.5 885.9V886.0M1110.5 889.1V889.2M1110.5 895.9V896.0M1110.5 899.0V899.1M1110.5 908.3V908.3M1111.5 861.1V899.6M1111.5 854.3V854.3M1111.5 851.5V851.6M1111.5 907.3V907.3M1111.5 913.9V913.9M1111.5 917.3V917.4M1111.5 928.6V928.7M1111.5 936.0V936.0M1111.5 939.3V939.4M1111.5 944.6V944.6M1112.5 868.4V903.2M1112.5 854.0V854.0M1112.5 850.1V850.1M1112.5 908.5V908.5M1112.5 916.1V916.1M1112.5 919.2V919.2M1112.5 922.4V922.4M1112.5 925.4V925.4M1112.5 932.8V932.8M1112.5 938.1V938.1M1112.5 945.6V945.6M1112.5 949.4V949.4M1113.5 838.0V876.4M1113.5 832.1V832.2M1113.5 817.0V817.1M1113.5 813.5V813.6M1113.5 880.2V880.2M1113.5 884.3V884.4M1113.5 889.8V889.9M1113.5 906.3V906.4M1113.5 927.5V927.5M1113.5 937.1V937.2M1113.5 942.2V942.2M1113.5 946.6V946.6M1113.5 949.4V949.5M1114.5 814.8V840.2M1115.5 838.7V869.1M1115.5 830.8V830.8M1115.5 825.8V825.9M1115.5 815.9V816.0M1115.5 874.0V874.1M1115.5 882.6V882.7M1115.5 889.0V889.0M1115.5 892.9V893.0M1115.5 896.7V896.7M1115.5 900.5V900.6M1115.5 905.3V905.4M1115.5 909.6V909.6M1116.5 853.6V890.7M1116.5 896.3V896.4M1116.5 898.4V898.5M1117.5 873.6V906.0M1117.5 865.8V865.9M1117.5 853.5V853.6M1117.5 846.8V846.9M1117.5 842.3V842.4M1117.5 838.7V838.8M1117.5 834.1V834.2M1117.5 831.0V831.1M1117.5 821.4V821.4M1117.5 818.0V818.1M1117.5 915.2V915.3M1117.5 919.3V919.4M1117.5 930.5V930.5M1118.5 876.7V919.4M1118.5 869.3V869.4M1118.5 864.6V864.7M1118.5 859.0V859.0M1118.5 852.6V852.6M1118.5 844.1V844.1M1118.5 838.5V838.5M1118.5 835.1V835.2M1118.5 830.3V830.3M1118.5 825.5V825.5M1118.5 819.3V819.4M1118.5 922.4V922.5M1118.5 926.9V927.0M1119.5 870.1V911.0M1119.5 866.2V866.3M1119.5 857.0V857.0M1119.5 852.4V852.4M1119.5 846.3V846.4M1119.5 843.0V843.0M1119.5 835.2V835.2M1119.5 831.1V831.2M1119.5 823.0V823.1M1119.5 817.0V817.1M1119.5 915.3V915.4M1119.5 920.8V920.9M1119.5 923.5V923.6M1120.5 855.8V891.6M1120.5 853.5V853.6M1120.5 900.1V900.2M1121.5 830.9V865.1M1121.5 828.6V828.6M1121.5 873.1V873.1M1122.5 817.1V848.7M1122.5 811.9V811.9M1122.5 806.7V806.8M1122.5 803.0V803.1M1122.5 801.0V801.1M1122.5 853.0V853.1M1122.5 860.2V860.2M1122.5 865.4V865.5M1122.5 871.5V871.6M1122.5 876.7V876.7M1122.5 883.3V883.3M1122.5 898.6V898.7M1122.5 901.7V901.8M1122.5 905.5V905.5M1122.5 910.6V910.7M1122.5 915.3V915.4M1123.5 801.6V841.3M1123.5 797.6V797.7M1123.5 844.4V844.4M1123.5 849.7V849.7M1123.5 854.4V854.5M1123.5 858.5V858.6M1123.5 864.8V864.9M1123.5 869.4V869.5M1123.5 878.5V878.6M1123.5 883.7V883.7M1123.5 889.1V889.2M1123.5 893.0V893.0M1123.5 901.0V901.1M1123.5 913.5V913.5M1124.5 803.8V849.2M1124.5 798.9V798.9M1124.5 853.0V853.0M1124.5 857.5V857.5M1124.5 862.3V862.4M1124.5 866.6V866.6M1124.5 882.6V882.7M1124.5 886.9V886.9M1124.5 902.8V902.9M1124.5 907.0V907.0M1124.5 910.8V910.9M1125.5 830.7V853.1M1125.5 859.4V859.4M1125.5 869.2V869.2M1125.5 875.4V875.4M1125.5 880.4V880.5M1125.5 883.8V883.9M1125.5 889.5V889.6M1125.5 897.8V897.9M1125.5 905.8V905.8M1125.5 909.2V909.2M1125.5 913.4V913.4M1126.5 824.6V856.2M1126.5 819.9V819.9M1126.5 814.6V814.6M1126.5 807.4V807.4M1126.5 804.2V804.3M1126.5 859.7V859.8M1126.5 863.8V863.8M1126.5 869.9V870.0M1126.5 875.1V875.1M1126.5 878.4V878.5M1126.5 883.8V883.8M1126.5 889.0V889.0M1126.5 891.6V891.6M1127.5 829.3V873.7M1127.5 816.5V816.6M1127.5 813.0V813.0M1127.5 807.6V807.7M1127.5 880.6V880.6M1128.5 845.2V878.9M1128.5 833.5V833.6M1128.5 828.1V828.1M1128.5 821.6V821.7M1128.5 816.7V816.8M1128.5 812.7V812.7M1128.5 883.7V883.8M1128.5 887.0V887.1M1128.5 892.2V892.3M1128.5 896.7V896.8M1128.5 900.7V900.7M1128.5 904.7V904.8M1129.5 855.9V893.9M1129.5 900.0V900.1M1129.5 919.6V919.6M1129.5 928.2V928.2M1129.5 933.4V933.4M1129.5 937.2V937.2M1130.5 882.1V916.6M1130.5 877.5V877.6M1130.5 874.7V874.8M1130.5 923.0V923.0M1130.5 926.3V926.4M1130.5 936.0V936.0M1130.5 939.0V939.1M1130.5 943.4V943.4M1131.5 904.5V935.1M1131.5 901.4V901.5M1131.5 897.5V897.5M1131.5 892.8V892.8M1131.5 889.2V889.2M1131.5 873.7V873.8M1131.5 866.5V866.5M1131.5 863.0V863.0M1131.5 859.9V859.9M1131.5 844.6V844.7M1131.5 841.0V841.1M1131.5 836.7V836.7M1131.5 945.8V945.9M1132.5 898.0V919.6M1132.5 891.9V891.9M1132.5 888.7V888.8M1132.5 883.1V883.1M1132.5 878.4V878.4M1132.5 874.0V874.0M1132.5 868.7V868.8M1132.5 863.2V863.3M1132.5 851.2V851.2M1132.5 847.6V847.6M1132.5 843.9V844.0M1133.5 884.2V904.0M1133.5 880.4V880.4M1133.5 876.1V876.2M1133.5 872.1V872.2M1133.5 867.1V867.1M1133.5 862.6V862.7M1133.5 855.8V855.8M1133.5 852.2V852.3M1133.5 845.1V845.2M1134.5 862.1V900.6M1134.5 847.2V847.2M1134.5 908.3V908.4M1134.5 911.7V911.7M1134.5 915.3V915.4M1134.5 918.5V918.5M1134.5 924.6V924.7M1134.5 930.1V930.2M1134.5 935.7V935.8M1134.5 939.0V939.0M1134.5 942.6V942.7M1134.5 946.2V946.2M1134.5 950.6V950.6M1135.5 861.0V903.5M1135.5 849.8V849.9M1135.5 845.9V845.9M1135.5 909.8V909.9M1135.5 913.7V913.8M1135.5 917.2V917.3M1135.5 923.4V923.4M1135.5 931.5V931.5M1135.5 935.7V935.7M1135.5 941.6V941.7M1135.5 946.3V946.4M1135.5 952.9V953.0M1136.5 860.3V892.4M1136.5 857.0V857.1M1136.5 853.4V853.4M1136.5 850.2V850.3M1136.5 846.5V846.6M1136.5 898.5V898.5M1136.5 902.0V902.1M1136.5 905.3V905.3M1136.5 910.4V910.4M1136.5 922.0V922.1M1136.5 925.5V925.5M1136.5 929.6V929.7M1136.5 936.5V936.5M1136.5 944.0V944.0M1136.5 948.9V949.0M1136.5 953.1V953.1M1136.5 956.2V956.3M1136.5 959.4V959.5M1136.5 962.2V962.3M1137.5 886.2V904.3M1137.5 877.2V877.3M1137.5 873.3V873.4M1137.5 869.9V869.9M1137.5 866.0V866.1M1137.5 861.9V861.9M1137.5 853.2V853.2M1137.5 848.9V848.9M1138.5 924.1V958.6M1138.5 920.1V920.1M1138.5 915.0V915.0M1138.5 911.8V911.9M1138.5 900.3V900.4M1138.5 888.1V888.1M1138.5 882.2V882.2M1138.5 874.7V874.7M1138.5 869.4V869.4M1138.5 864.7V864.8M1138.5 961.9V961.9M1138.5 974.1V974.1M1138.5 979.8V979.8M1139.5 931.0V971.6M1139.5 927.8V927.8M1139.5 922.9V922.9M1139.5 918.7V918.8M1139.5 902.2V902.2M1139.5 895.6V895.7M1139.5 975.1V975.2M1139.5 978.6V978.6M1139.5 981.7V981.7M1139.5 985.2V985.3M1139.5 990.2V990.3M1140.5 909.6V954.4M1140.5 903.9V904.0M1140.5 895.6V895.6M1140.5 890.0V890.1M1140.5 882.2V882.2M1140.5 879.2V879.2M1140.5 873.6V873.6M1140.5 864.4V864.5M1140.5 860.7V860.7M1140.5 959.8V959.8M1140.5 962.9V963.0M1140.5 969.2V969.3M1140.5 973.9V973.9M1140.5 977.6V977.7M1140.5 982.2V982.2M1140.5 987.0V987.1M1140.5 990.1V990.1M1141.5 896.0V917.7M1141.5 889.9V890.0M1141.5 880.7V880.8M1141.5 875.5V875.6M1141.5 866.6V866.6M1141.5 863.5V863.5M1141.5 860.7V860.7M1142.5 872.2V892.7M1142.5 866.4V866.4M1142.5 855.6V855.6M1143.5 849.4V879.9M1143.5 847.3V847.4M1143.5 892.9V893.0M1143.5 896.3V896.3M1143.5 901.9V902.0M1143.5 905.7V905.8M1143.5 910.4V910.5M1143.5 922.7V922.7M1143.5 956.6V956.6M1143.5 964.1V964.1M1143.5 967.9V967.9M1143.5 974.1V974.1M1144.5 840.7V870.9M1144.5 878.2V878.2M1144.5 884.9V885.0M1144.5 894.4V894.5M1144.5 898.9V898.9M1144.5 915.4V915.5M1144.5 924.6V924.6M1144.5 938.1V938.1M1144.5 941.3V941.3M1144.5 946.7V946.7M1144.5 950.0V950.0M1144.5 955.9V956.0M1144.5 959.1V959.1M1144.5 970.0V970.0M1145.5 886.0V933.1M1145.5 882.8V882.8M1145.5 877.2V877.2M1145.5 873.0V873.1M1145.5 868.1V868.2M1145.5 865.0V865.1M1145.5 861.2V861.2M1145.5 857.7V857.7M1145.5 854.6V854.7M1145.5 846.1V846.2M1145.5 844.1V844.2M1145.5 938.3V938.4M1145.5 947.5V947.5M1145.5 951.7V951.7M1145.5 957.9V957.9M1145.5 965.7V965.8M1145.5 972.0V972.0M1145.5 976.3V976.4M1145.5 979.4V979.4M1145.5 983.0V983.1M1146.5 943.7V979.4M1146.5 934.0V934.0M1146.5 927.4V927.4M1146.5 919.3V919.3M1146.5 914.5V914.6M1146.5 910.2V910.3M1146.5 898.6V898.6M1146.5 892.5V892.6M1146.5 883.7V883.7M1146.5 880.3V880.4M1146.5 876.6V876.6M1146.5 869.5V869.5M1146.5 986.1V986.1M1147.5 929.3V962.0M1147.5 922.4V922.5M1147.5 908.5V908.6M1147.5 893.2V893.2M1147.5 887.9V887.9M1147.5 879.9V880.0M1147.5 874.3V874.4M1147.5 866.0V866.0M1148.5 909.4V928.2M1148.5 902.8V902.9M1148.5 893.2V893.3M1148.5 887.1V887.1M1148.5 880.9V880.9M1148.5 876.9V876.9M1149.5 904.8V931.0M1149.5 893.3V893.4M1149.5 889.3V889.3M1149.5 881.9V881.9M1150.5 911.6V945.1M1150.5 905.4V905.5M1150.5 897.1V897.1M1150.5 895.1V895.1M1150.5 948.6V948.7M1150.5 956.3V956.4M1151.5 908.1V946.4M1151.5 903.9V904.0M1151.5 951.1V951.1M1152.5 905.3V938.4M1152.5 946.8V946.9M1153.5 899.6V918.2M1153.5 927.3V927.3M1153.5 937.3V937.3M1153.5 941.1V941.2M1153.5 946.6V946.6M1154.5 893.6V913.7M1154.5 919.1V919.1M1154.5 927.7V927.7M1154.5 932.2V932.3M1154.5 941.4V941.4M1154.5 945.8V945.8M1155.5 874.0V908.0M1155.5 912.7V912.7M1155.5 917.3V917.4M1155.5 921.4V921.5M1155.5 924.7V924.7M1155.5 934.1V934.2M1156.5 873.1V899.8M1157.5 875.1V906.6M1157.5 909.9V909.9M1157.5 920.5V920.6M1158.5 889.6V913.4M1158.5 919.4V919.4M1158.5 927.4V927.5M1158.5 942.6V942.6M1158.5 948.0V948.0M1159.5 904.4V923.1M1159.5 931.6V931.7M1159.5 936.1V936.1M1159.5 946.0V946.0M1159.5 948.6V948.6M1160.5 912.2V943.1M1160.5 947.7V947.8M1160.5 954.6V954.6M1161.5 926.1V952.9M1161.5 956.6V956.6M1162.5 918.8V935.9M1162.5 915.6V915.7M1162.5 909.5V909.6M1162.5 901.9V901.9M1162.5 892.9V893.0M1162.5 885.1V885.1M1163.5 915.2V941.3M1163.5 906.0V906.0M1163.5 899.4V899.5M1163.5 890.6V890.6M1163.5 887.1V887.1M1164.5 932.4V968.3M1164.5 927.5V927.5M1164.5 922.5V922.6M1164.5 918.8V918.8M1164.5 908.9V908.9M1164.5 905.2V905.3M1164.5 900.0V900.0M1164.5 896.9V897.0M1164.5 892.1V892.2M1164.5 888.0V888.1M1164.5 884.1V884.2M1164.5 973.6V973.6M1164.5 978.6V978.6M1165.5 936.7V977.3M1165.5 929.2V929.2M1165.5 924.5V924.5M1165.5 921.1V921.2M1165.5 983.4V983.5M1166.5 938.2V976.7M1166.5 934.1V934.2M1166.5 928.0V928.0M1166.5 914.1V914.1M1166.5 908.8V908.8M1166.5 903.0V903.0M1166.5 896.6V896.7M1166.5 891.3V891.4M1166.5 980.4V980.5M1167.5 931.0V950.2M1167.5 922.5V922.6M1167.5 917.2V917.2M1167.5 911.7V911.8M1167.5 908.0V908.0M1167.5 902.3V902.3M1167.5 890.0V890.0M1167.5 887.1V887.2M1168.5 919.1V941.7M1168.5 912.3V912.4M1168.5 902.4V902.4M1168.5 888.9V889.0M1168.5 883.7V883.7M1168.5 870.9V870.9M1168.5 867.3V867.4M1168.5 860.1V860.2M1169.5 896.1V922.0M1169.5 880.3V880.4M1169.5 877.0V877.1M1169.5 874.0V874.0M1169.5 869.5V869.5M1169.5 860.9V861.0M1169.5 854.1V854.2M1170.5 872.1V908.9M1170.5 867.3V867.3M1170.5 863.2V863.3M1170.5 858.3V858.4M1170.5 853.3V853.4M1170.5 848.0V848.1M1170.5 845.0V845.1M1170.5 842.7V842.7M1170.5 913.0V913.0M1170.5 919.8V919.8M1170.5 925.5V925.6M1170.5 929.7V929.7M1170.5 933.2V933.2M1170.5 937.1V937.1M1170.5 944.6V944.6M1170.5 952.2V952.2M1170.5 956.8V956.8M1170.5 965.6V965.6M1170.5 968.4V968.5M1171.5 853.6V891.3M1171.5 839.2V839.2M1171.5 835.9V836.0M1171.5 828.3V828.3M1171.5 894.5V894.6M1171.5 901.4V901.4M1171.5 914.9V914.9M1171.5 926.1V926.1M1171.5 929.9V929.9M1171.5 935.1V935.2M1171.5 938.4V938.5M1171.5 942.5V942.6M1171.5 956.2V956.2M1171.5 962.5V962.6M1171.5 965.7V965.7M1172.5 868.5V899.9M1172.5 865.2V865.3M1172.5 860.1V860.2M1172.5 847.8V847.9M1172.5 841.2V841.3M1172.5 835.5V835.5M1172.5 831.4V831.5M1172.5 826.2V826.2M1172.5 822.4V822.4M1172.5 903.3V903.4M1172.5 909.6V909.6M1172.5 914.0V914.0M1172.5 923.0V923.0M1172.5 930.2V930.3M1172.5 940.4V940.4M1172.5 945.0V945.0M1172.5 948.1V948.1M1172.5 951.3V951.3M1172.5 955.4V955.4M1172.5 959.3V959.4M1172.5 964.8V964.8M1173.5 876.0V898.3M1173.5 865.9V866.0M1173.5 861.7V861.8M1173.5 857.2V857.2M1173.5 852.6V852.6M1173.5 848.4V848.5M1173.5 844.8V844.9M1173.5 841.1V841.2M1174.5 876.2V903.0M1174.5 869.0V869.1M1174.5 858.2V858.2M1175.5 899.8V940.4M1175.5 895.7V895.7M1175.5 892.1V892.2M1175.5 888.8V888.9M1175.5 885.5V885.6M1175.5 882.2V882.2M1175.5 876.1V876.2M1175.5 944.3V944.3M1176.5 917.8V955.5M1176.5 912.1V912.2M1176.5 904.4V904.4M1176.5 900.0V900.1M1176.5 894.0V894.1M1176.5 890.8V890.9M1176.5 885.7V885.7M1176.5 880.0V880.0M1176.5 959.2V959.2M1177.5 903.0V938.3M1177.5 896.5V896.6M1177.5 893.1V893.1M1177.5 889.6V889.7M1177.5 886.3V886.4M1177.5 946.8V946.8M1177.5 953.4V953.5M1177.5 957.8V957.9M1177.5 960.1V960.1M1178.5 902.0V927.3M1178.5 931.6V931.7M1178.5 935.9V936.0M1178.5 939.1V939.2M1178.5 944.1V944.2M1178.5 955.8V955.9M1178.5 960.6V960.6M1179.5 908.6V926.1M1179.5 929.6V929.7M1179.5 934.4V934.5M1179.5 942.4V942.5M1179.5 950.1V950.1M1179.5 955.0V955.1M1180.5 898.0V937.6M1180.5 940.7V940.8M1181.5 899.0V923.5M1181.5 891.5V891.6M1181.5 886.7V886.8M1181.5 874.7V874.7M1182.5 915.0V932.1M1182.5 907.6V907.6M1182.5 900.6V900.7M1182.5 897.3V897.4M1182.5 892.9V893.0M1182.5 885.1V885.2M1182.5 878.3V878.3M1182.5 869.3V869.3M1182.5 865.5V865.6M1182.5 863.2V863.2M1183.5 913.2V953.5M1183.5 900.1V900.1M1183.5 895.0V895.1M1183.5 887.6V887.6M1183.5 867.5V867.6M1183.5 862.0V862.0M1183.5 956.6V956.6M1183.5 963.2V963.3M1184.5 895.8V934.7M1184.5 892.4V892.4M1184.5 880.8V880.8M1184.5 873.8V873.8M1184.5 869.2V869.3M1184.5 865.1V865.2M1184.5 860.5V860.6M1184.5 857.9V858.0M1184.5 944.6V944.6M1184.5 952.1V952.1M1184.5 956.4V956.5M1184.5 961.8V961.8M1184.5 965.5V965.5M1185.5 885.4V921.4M1185.5 878.0V878.0M1185.5 873.6V873.7M1185.5 868.2V868.3M1185.5 862.3V862.3M1185.5 926.2V926.2M1185.5 931.0V931.0M1185.5 936.9V937.0M1185.5 946.1V946.1M1185.5 950.8V950.8M1185.5 957.2V957.3M1185.5 960.8V960.9M1186.5 883.0V908.8M1186.5 879.6V879.6M1186.5 867.0V867.1M1186.5 862.6V862.7M1186.5 859.4V859.5M1186.5 856.6V856.6M1187.5 893.7V919.9M1187.5 890.0V890.0M1187.5 886.4V886.5M1188.5 876.4V912.5M1188.5 872.9V873.0M1188.5 863.4V863.5M1188.5 860.4V860.5M1188.5 853.1V853.2M1188.5 849.4V849.4M1188.5 916.7V916.7M1188.5 924.3V924.4M1188.5 934.7V934.7M1188.5 939.6V939.7M1189.5 857.3V895.5M1189.5 852.7V852.8M1189.5 845.7V845.7M1189.5 899.5V899.5M1189.5 902.6V902.7M1189.5 906.4V906.4M1189.5 911.1V911.2M1189.5 914.2V914.3M1189.5 917.6V917.6M1189.5 928.5V928.5M1189.5 932.8V932.9M1190.5 849.7V884.2M1190.5 844.2V844.2M1190.5 887.6V887.7M1190.5 894.9V895.0M1190.5 898.6V898.6M1190.5 903.1V903.2M1190.5 910.1V910.2M1190.5 923.2V923.2M1190.5 925.8V925.9M1191.5 845.7V883.9M1191.5 842.7V842.7M1191.5 888.2V888.3M1191.5 893.5V893.6M1191.5 899.0V899.1M1191.5 908.8V908.8M1191.5 914.5V914.5M1191.5 920.7V920.7M1191.5 924.7V924.8M1192.5 848.6V894.5M1192.5 842.8V842.8M1192.5 899.4V899.5M1192.5 906.0V906.1M1192.5 909.5V909.5M1192.5 914.8V914.9M1192.5 921.9V922.0M1192.5 925.5V925.5M1193.5 863.6V894.7M1193.5 851.3V851.3M1193.5 847.9V848.0M1193.5 899.1V899.2M1193.5 901.6V901.6M1194.5 861.1V884.4M1195.5 866.0V889.9M1196.5 865.2V884.9M1197.5 869.6V912.2M1197.5 866.5V866.6M1197.5 920.8V920.8M1197.5 928.8V928.8M1198.5 879.8V917.2M1198.5 876.3V876.4M1198.5 870.4V870.4M1198.5 868.3V868.4M1198.5 921.7V921.8M1198.5 929.7V929.7M1199.5 889.2V928.7M1199.5 886.2V886.2M1199.5 875.2V875.3M1199.5 870.3V870.4M1199.5 866.4V866.5M1199.5 863.0V863.0M1199.5 933.5V933.6M1199.5 936.9V937.0M1200.5 893.9V919.9M1200.5 887.7V887.8M1200.5 884.1V884.1M1200.5 873.5V873.6M1200.5 868.7V868.7M1200.5 865.1V865.1M1200.5 860.6V860.7M1200.5 857.5V857.6M1201.5 906.3V929.9M1201.5 903.3V903.4M1201.5 899.6V899.7M1201.5 894.5V894.6M1201.5 890.1V890.1M1201.5 886.8V886.9M1201.5 883.2V883.2M1201.5 879.1V879.2M1201.5 875.7V875.8M1201.5 870.1V870.1M1201.5 866.4V866.5M1201.5 862.6V862.6M1202.5 909.4V947.4M1202.5 905.5V905.6M1202.5 896.2V896.2M1202.5 887.5V887.5M1202.5 882.9V883.0M1202.5 877.2V877.3M1202.5 952.8V952.9M1203.5 888.9V928.2M1203.5 885.9V885.9M1203.5 881.9V881.9M1203.5 874.9V875.0M1203.5 871.0V871.1M1203.5 859.7V859.8M1203.5 853.8V853.9M1203.5 850.6V850.7M1203.5 846.1V846.1M1203.5 840.8V840.9M1203.5 935.0V935.1M1203.5 939.4V939.4M1203.5 942.5V942.6M1203.5 945.9V945.9M1203.5 954.3V954.3M1203.5 956.6V956.7M1204.5 871.4V909.4M1204.5 863.7V863.8M1204.5 859.4V859.4M1204.5 849.7V849.8M1204.5 844.8V844.9M1204.5 836.9V837.0M1204.5 833.2V833.2M1204.5 912.7V912.7M1204.5 917.3V917.4M1204.5 923.5V923.5M1204.5 929.6V929.7M1204.5 932.7V932.8M1204.5 936.0V936.1M1204.5 940.3V940.4M1204.5 946.8V946.8M1204.5 952.8V952.9M1204.5 955.2V955.3M1205.5 848.5V893.6M1205.5 837.3V837.4M1205.5 832.7V832.7M1205.5 828.4V828.5M1205.5 821.9V822.0M1205.5 896.7V896.8M1205.5 900.8V900.8M1205.5 906.4V906.5M1205.5 911.1V911.1M1205.5 915.6V915.6M1205.5 920.4V920.5M1205.5 925.1V925.1M1205.5 935.5V935.5M1205.5 939.6V939.6M1205.5 942.6V942.7M1206.5 839.5V857.9M1206.5 827.6V827.7M1206.5 821.8V821.8M1206.5 818.6V818.6M1206.5 813.2V813.3M1207.5 816.5V849.1M1207.5 811.9V811.9M1207.5 806.1V806.2M1207.5 802.1V802.1M1207.5 796.2V796.3M1208.5 821.5V843.9M1208.5 814.4V814.4M1208.5 810.2V810.3M1208.5 799.0V799.1M1208.5 791.4V791.4M1208.5 787.5V787.6M1208.5 782.3V782.4M1209.5 846.5V885.2M1209.5 842.0V842.0M1209.5 833.0V833.0M1209.5 828.1V828.1M1209.5 823.6V823.7M1209.5 818.0V818.0M1209.5 813.0V813.1M1209.5 803.9V803.9M1209.5 792.0V792.1M1209.5 786.7V786.8M1209.5 783.2V783.2M1209.5 777.8V777.8M1209.5 770.7V770.7M1209.5 766.5V766.6M1210.5 850.5V882.0M1210.5 845.0V845.1M1210.5 841.7V841.8M1210.5 836.9V837.0M1210.5 833.8V833.9M1210.5 828.3V828.3M1210.5 824.9V824.9M1210.5 819.4V819.4M1210.5 813.3V813.4M1210.5 804.2V804.3M1210.5 798.6V798.6M1210.5 791.9V791.9M1210.5 788.4V788.4M1210.5 775.3V775.4M1210.5 770.0V770.1M1210.5 766.8V766.8M1210.5 757.9V757.9M1210.5 752.1V752.1M1210.5 888.3V888.4M1210.5 893.6V893.6M1210.5 911.9V912.0M1210.5 916.6V916.7M1210.5 919.8V919.9M1210.5 923.1V923.1M1210.5 928.0V928.0M1210.5 932.6V932.6M1210.5 942.8V942.9M1210.5 946.6V946.7M1211.5 784.8V820.8M1211.5 781.3V781.4M1211.5 770.0V770.1M1211.5 762.2V762.3M1211.5 757.6V757.6M1211.5 752.1V752.2M1211.5 748.9V748.9M1211.5 745.3V745.3M1211.5 740.0V740.0M1211.5 735.2V735.2M1211.5 829.3V829.3M1211.5 833.5V833.5M1211.5 843.8V843.9M1211.5 847.0V847.1M1211.5 850.4V850.5M1211.5 856.3V856.4M1211.5 859.9V859.9M1211.5 885.1V885.1M1211.5 896.6V896.7M1211.5 900.7V900.7M1211.5 906.1V906.2M1211.5 913.5V913.5M1211.5 924.1V924.1M1211.5 934.1V934.2M1211.5 938.5V938.6M1211.5 944.5V944.6M1212.5 740.5V778.3M1212.5 733.2V733.3M1212.5 730.0V730.0M1212.5 727.1V727.1M1212.5 783.7V783.8M1212.5 787.4V787.5M1212.5 792.5V792.5M1212.5 799.3V799.4M1212.5 807.9V808.0M1212.5 815.5V815.6M1212.5 824.9V825.0M1212.5 829.9V830.0M1212.5 833.5V833.6M1212.5 838.6V838.6M1212.5 843.3V843.3M1212.5 846.6V846.7M1212.5 850.8V850.9M1212.5 857.6V857.6M1212.5 869.1V869.2M1212.5 880.0V880.1M1212.5 884.3V884.3M1212.5 889.9V889.9M1212.5 894.0V894.0M1212.5 901.2V901.3M1212.5 904.9V904.9M1212.5 910.6V910.6M1212.5 913.3V913.3M1213.5 726.4V765.0M1213.5 722.7V722.8M1213.5 720.7V720.7M1213.5 769.3V769.3M1213.5 772.3V772.3M1213.5 779.9V780.0M1213.5 791.4V791.5M1213.5 796.1V796.2M1213.5 801.9V801.9M1213.5 808.8V808.8M1213.5 818.6V818.7M1213.5 822.3V822.4M1213.5 831.2V831.2M1213.5 840.0V840.1M1213.5 844.0V844.0M1213.5 848.6V848.6M1213.5 851.6V851.6M1213.5 855.5V855.6M1213.5 859.7V859.8M1213.5 869.5V869.5M1213.5 876.3V876.3M1214.5 743.1V780.3M1214.5 728.0V728.1M1214.5 724.8V724.8M1214.5 786.9V787.0M1214.5 794.1V794.1M1214.5 797.9V798.0M1214.5 801.1V801.1M1214.5 810.6V810.6M1214.5 814.5V814.6M1214.5 817.6V817.7M1214.5 828.3V828.4M1214.5 831.5V831.6M1214.5 834.6V834.6M1214.5 839.1V839.1M1215.5 762.5V802.2M1215.5 756.1V756.2M1215.5 752.8V752.9M1215.5 750.5V750.5M1215.5 806.9V806.9M1215.5 811.1V811.2M1215.5 815.8V815.9M1215.5 820.1V820.1M1215.5 823.5V823.6M1215.5 828.2V828.3M1215.5 833.2V833.3M1216.5 775.4V812.3M1216.5 767.3V767.4M1216.5 762.1V762.1M1216.5 756.1V756.1M1216.5 751.6V751.7M1216.5 746.3V746.3M1216.5 742.0V742.1M1216.5 739.4V739.5M1216.5 823.9V824.0M1216.5 830.7V830.7M1216.5 835.0V835.1M1217.5 773.5V815.1M1217.5 770.3V770.3M1217.5 766.5V766.5M1217.5 756.3V756.3M1217.5 746.7V746.8M1217.5 826.9V826.9M1217.5 830.5V830.5M1218.5 767.6V808.4M1218.5 764.1V764.1M1218.5 757.1V757.2M1218.5 753.5V753.6M1218.5 750.2V750.2M1218.5 748.1V748.2M1218.5 811.8V811.9M1219.5 803.0V828.4M1220.5 812.6V834.3M1221.5 767.8V802.9M1221.5 762.4V762.4M1221.5 754.3V754.3M1221.5 750.1V750.2M1221.5 806.3V806.4M1221.5 811.4V811.4M1221.5 814.5V814.5M1221.5 825.6V825.7M1221.5 831.0V831.0M1222.5 751.9V792.5M1222.5 749.0V749.1M1222.5 797.2V797.2M1222.5 800.4V800.4M1222.5 812.6V812.6M1222.5 816.0V816.0M1222.5 824.0V824.1M1222.5 834.4V834.5M1222.5 837.2V837.2M1223.5 762.9V800.3M1223.5 751.2V751.2M1223.5 745.8V745.9M1223.5 804.2V804.2M1223.5 809.0V809.0M1223.5 816.0V816.1M1223.5 820.4V820.5M1223.5 824.8V824.9M1223.5 827.9V828.0M1223.5 832.7V832.7M1223.5 836.4V836.5M1224.5 762.3V796.1M1224.5 759.9V760.0M1224.5 799.9V800.0M1224.5 808.3V808.3M1224.5 812.0V812.0M1224.5 816.9V817.0M1224.5 820.3V820.4M1224.5 825.8V825.8M1224.5 828.8V828.9M1224.5 836.9V837.0M1224.5 838.9V839.0M1225.5 738.0V773.0M1225.5 779.3V779.4M1226.5 746.4V773.7M1226.5 742.7V742.8M1226.5 739.2V739.3M1226.5 735.6V735.7M1227.5 765.9V806.5M1227.5 757.7V757.7M1227.5 751.3V751.3M1227.5 744.9V745.0M1227.5 741.9V741.9M1227.5 737.5V737.6M1227.5 810.8V810.8M1227.5 817.8V817.8M1227.5 820.0V820.1M1228.5 778.3V818.7M1228.5 775.3V775.3M1228.5 767.4V767.4M1228.5 824.9V825.0M1228.5 830.8V830.8M1228.5 835.9V836.0M1228.5 843.3V843.4M1229.5 774.7V809.9M1229.5 771.3V771.4M1229.5 768.1V768.1M1229.5 813.2V813.2M1229.5 817.3V817.4M1229.5 823.4V823.5M1229.5 832.9V832.9M1229.5 836.4V836.5M1229.5 839.5V839.5M1229.5 845.1V845.2M1230.5 776.5V820.7M1230.5 771.3V771.4M1230.5 764.4V764.4M1230.5 759.1V759.1M1230.5 755.4V755.4M1230.5 751.6V751.6M1230.5 748.5V748.6M1230.5 824.7V824.8M1230.5 831.1V831.2M1230.5 835.2V835.3M1230.5 844.5V844.5M1230.5 849.5V849.6M1231.5 793.3V813.5M1231.5 789.7V789.8M1231.5 786.5V786.5M1231.5 780.9V780.9M1231.5 771.7V771.8M1231.5 767.8V767.8M1231.5 763.7V763.8M1231.5 760.7V760.8M1231.5 754.7V754.7M1231.5 749.8V749.8M1232.5 783.2V806.5M1232.5 776.6V776.6M1232.5 769.9V770.0M1232.5 762.6V762.6M1232.5 756.5V756.5M1232.5 750.9V751.0M1232.5 747.1V747.1M1233.5 765.7V797.9M1233.5 756.1V756.1M1233.5 752.8V752.9M1233.5 802.9V802.9M1233.5 813.6V813.7M1233.5 818.1V818.2M1233.5 821.9V821.9M1233.5 826.0V826.0M1233.5 830.7V830.8M1233.5 836.2V836.3M1233.5 841.6V841.6M1233.5 844.8V844.9M1233.5 853.1V853.2M1233.5 856.5V856.6M1233.5 860.9V861.0M1234.5 738.0V772.2M1234.5 776.5V776.5M1234.5 782.2V782.3M1234.5 786.6V786.6M1234.5 793.9V794.0M1234.5 797.7V797.7M1234.5 806.7V806.7M1234.5 816.4V816.4M1234.5 820.9V820.9M1234.5 825.8V825.8M1234.5 834.9V834.9M1234.5 838.1V838.1M1234.5 841.8V841.9M1234.5 848.8V848.8M1234.5 856.2V856.2M1234.5 859.2V859.3M1234.5 865.3V865.3M1234.5 868.4V868.5M1234.5 872.0V872.0M1234.5 876.1V876.1M1234.5 878.5V878.6M1235.5 762.9V803.0M1235.5 756.8V756.8M1235.5 749.8V749.9M1235.5 744.5V744.6M1235.5 741.1V741.2M1235.5 734.2V734.2M1235.5 812.4V812.5M1235.5 828.5V828.5M1235.5 842.5V842.5M1235.5 845.8V845.8M1235.5 852.2V852.3M1235.5 860.2V860.3M1235.5 863.3V863.3M1235.5 872.5V872.5M1235.5 875.7V875.8M1235.5 880.6V880.6M1235.5 886.5V886.5M1235.5 892.4V892.5M1235.5 896.7V896.8M1235.5 905.2V905.3M1235.5 908.5V908.6M1236.5 826.7V862.6M1236.5 810.2V810.3M1236.5 802.7V802.7M1236.5 792.4V792.4M1236.5 773.4V773.4M1236.5 766.1V766.1M1236.5 758.3V758.4M1236.5 753.6V753.7M1236.5 746.4V746.5M1236.5 742.2V742.3M1236.5 877.1V877.2M1236.5 880.9V880.9M1236.5 885.7V885.8M1236.5 892.4V892.5M1236.5 896.9V896.9M1236.5 905.6V905.7M1236.5 914.4V914.5M1236.5 926.1V926.2M1236.5 929.3V929.4M1236.5 933.1V933.1M1236.5 936.2V936.2M1236.5 938.5V938.6M1237.5 850.5V881.4M1237.5 885.0V885.1M1237.5 891.2V891.3M1237.5 898.0V898.1M1237.5 908.0V908.1M1237.5 916.8V916.9M1237.5 924.6V924.7M1237.5 931.0V931.0M1237.5 941.7V941.7M1238.5 790.5V833.4M1238.5 787.2V787.2M1238.5 780.9V780.9M1238.5 777.0V777.0M1238.5 773.4V773.4M1238.5 763.4V763.4M1238.5 759.8V759.9M1238.5 838.3V838.4M1238.5 842.1V842.1M1238.5 847.2V847.3M1238.5 853.9V854.0M1238.5 858.3V858.3M1238.5 872.1V872.1M1238.5 878.1V878.2M1238.5 887.5V887.5M1238.5 893.3V893.3M1238.5 896.4V896.5M1238.5 902.9V902.9M1238.5 914.9V914.9M1239.5 767.2V810.8M1239.5 814.6V814.6M1239.5 820.8V820.9M1239.5 825.3V825.4M1239.5 834.7V834.7M1239.5 840.2V840.3M1240.5 772.4V809.8M1240.5 814.2V814.2M1240.5 822.8V822.8M1240.5 827.7V827.7M1240.5 831.3V831.3M1240.5 837.5V837.6M1240.5 840.6V840.7M1240.5 844.3V844.4M1240.5 851.3V851.3M1240.5 856.5V856.6M1240.5 859.8V859.9M1240.5 864.2V864.2M1241.5 789.1V809.4M1241.5 814.6V814.7M1241.5 817.9V818.0M1241.5 820.9V821.0M1241.5 824.6V824.7M1241.5 830.6V830.6M1241.5 836.8V836.8M1241.5 840.5V840.6M1242.5 785.6V815.8M1242.5 821.8V821.8M1242.5 832.7V832.7M1242.5 837.2V837.2M1243.5 778.4V813.5M1243.5 818.5V818.6M1243.5 822.0V822.0M1243.5 826.5V826.6M1244.5 780.4V819.2M1244.5 825.6V825.7M1244.5 830.5V830.6M1245.5 790.1V825.6M1245.5 784.0V784.0M1246.5 795.5V829.7M1246.5 834.0V834.0M1247.5 802.7V825.2M1247.5 797.7V797.8M1247.5 794.4V794.5M1248.5 809.2V834.4M1249.5 817.7V855.1M1249.5 811.8V811.8M1249.5 807.6V807.6M1249.5 799.5V799.5M1249.5 860.2V860.2M1249.5 863.6V863.7M1249.5 867.3V867.3M1249.5 877.1V877.2M1249.5 885.7V885.8M1249.5 889.1V889.2M1250.5 830.2V872.4M1250.5 824.6V824.6M1250.5 808.0V808.1M1250.5 801.7V801.8M1250.5 875.7V875.8M1250.5 879.0V879.0M1250.5 882.5V882.6M1250.5 890.2V890.3M1250.5 895.4V895.5M1250.5 903.0V903.0M1250.5 906.9V906.9M1251.5 828.5V867.8M1251.5 823.0V823.1M1251.5 813.0V813.0M1251.5 810.4V810.4M1251.5 871.9V872.0M1251.5 877.1V877.1M1251.5 880.7V880.8M1251.5 884.7V884.8M1251.5 888.2V888.2M1251.5 893.9V894.0M1251.5 897.6V897.6M1251.5 904.2V904.2M1251.5 908.9V909.0M1251.5 919.5V919.6M1252.5 839.2V857.4M1252.5 832.8V832.8M1252.5 828.7V828.7M1252.5 819.9V820.0M1253.5 857.3V888.1M1253.5 852.9V852.9M1253.5 845.8V845.8M1253.5 841.2V841.2M1253.5 836.3V836.3M1253.5 832.6V832.7M1253.5 827.7V827.8M1253.5 895.8V895.8M1253.5 906.3V906.4M1253.5 914.5V914.6M1253.5 918.3V918.4M1253.5 931.4V931.5M1253.5 937.0V937.1M1253.5 940.2V940.3M1253.5 944.9V944.9M1254.5 881.6V918.9M1254.5 873.5V873.5M1254.5 869.5V869.6M1254.5 866.5V866.5M1254.5 862.9V862.9M1254.5 859.7V859.8M1254.5 855.1V855.1M1254.5 846.4V846.5M1254.5 842.6V842.6M1254.5 836.4V836.4M1254.5 923.4V923.4M1254.5 930.5V930.5M1254.5 937.5V937.5M1254.5 942.7V942.7M1254.5 947.7V947.8M1254.5 952.7V952.7M1254.5 957.5V957.6M1255.5 909.7V938.6M1255.5 896.8V896.8M1255.5 893.0V893.0M1255.5 879.5V879.6M1255.5 874.6V874.6M1255.5 871.1V871.1M1255.5 862.3V862.4M1255.5 854.3V854.3M1255.5 849.5V849.5M1255.5 845.2V845.2M1255.5 840.1V840.2M1255.5 941.8V941.8M1255.5 946.4V946.5M1255.5 955.5V955.5M1255.5 963.6V963.6M1256.5 910.2V945.4M1256.5 905.5V905.5M1256.5 900.8V900.8M1256.5 893.1V893.1M1257.5 918.9V949.1M1257.5 954.8V954.9M1257.5 960.0V960.0M1258.5 913.2V938.5M1258.5 908.4V908.5M1258.5 904.5V904.6M1258.5 898.3V898.3M1258.5 893.5V893.5M1258.5 873.8V873.9M1258.5 867.0V867.1M1258.5 854.5V854.5M1258.5 851.4V851.5M1258.5 847.8V847.8M1258.5 838.9V839.0M1259.5 898.3V934.4M1259.5 888.2V888.2M1259.5 884.5V884.5M1259.5 879.2V879.3M1259.5 873.3V873.4M1259.5 869.1V869.2M1259.5 865.6V865.6M1259.5 862.4V862.5M1259.5 855.1V855.1M1259.5 851.1V851.2M1259.5 845.4V845.4M1259.5 841.1V841.1M1259.5 836.1V836.2M1259.5 943.5V943.5M1259.5 954.3V954.3M1259.5 963.0V963.1M1259.5 967.9V968.0M1259.5 970.9V971.0M1259.5 975.6V975.7M1260.5 874.9V914.1M1260.5 866.3V866.3M1260.5 862.2V862.2M1260.5 856.9V857.0M1260.5 853.3V853.4M1260.5 847.7V847.7M1260.5 841.2V841.3M1260.5 837.7V837.8M1260.5 833.2V833.3M1260.5 827.6V827.6M1260.5 920.5V920.5M1260.5 925.9V926.0M1260.5 930.7V930.8M1260.5 934.4V934.4M1260.5 938.3V938.3M1260.5 941.5V941.6M1260.5 949.4V949.5M1260.5 953.3V953.3M1260.5 959.4V959.5M1260.5 964.8V964.9M1260.5 976.2V976.2M1261.5 849.6V887.7M1261.5 835.6V835.6M1261.5 829.7V829.7M1261.5 818.1V818.2M1261.5 816.1V816.2M1261.5 903.1V903.1M1261.5 911.4V911.4M1261.5 915.6V915.7M1261.5 920.0V920.0M1261.5 924.5V924.6M1261.5 929.0V929.1M1261.5 936.9V937.0M1261.5 940.4V940.5M1261.5 943.7V943.7M1261.5 947.5V947.6M1261.5 951.6V951.7M1261.5 957.1V957.1M1261.5 968.0V968.0M1262.5 826.6V873.4M1262.5 819.1V819.1M1262.5 813.5V813.6M1262.5 809.9V809.9M1262.5 806.1V806.2M1262.5 877.1V877.2M1262.5 880.9V881.0M1262.5 884.4V884.5M1262.5 889.2V889.2M1262.5 892.2V892.3M1262.5 896.4V896.4M1262.5 900.9V901.0M1262.5 914.2V914.2M1262.5 920.1V920.1M1263.5 806.9V848.8M1263.5 801.7V801.8M1263.5 799.6V799.7M1263.5 855.1V855.1M1263.5 858.8V858.9M1263.5 867.7V867.7M1263.5 871.4V871.5M1263.5 877.6V877.6M1263.5 888.9V888.9M1263.5 892.1V892.1M1263.5 895.1V895.2M1263.5 901.1V901.1M1263.5 915.0V915.0M1263.5 924.3V924.3M1263.5 931.4V931.5M1263.5 935.8V935.8M1263.5 939.4V939.5M1263.5 942.8V942.9M1263.5 946.0V946.1M1263.5 949.5V949.6M1264.5 813.3V838.9M1264.5 845.8V845.9M1264.5 850.1V850.1M1264.5 856.8V856.9M1264.5 864.6V864.6M1264.5 868.0V868.0M1264.5 872.8V872.8M1264.5 889.7V889.8M1264.5 905.1V905.2M1264.5 913.1V913.1M1264.5 917.9V917.9M1264.5 925.8V925.8M1264.5 929.1V929.1M1264.5 935.0V935.1M1264.5 943.2V943.3M1265.5 793.3V831.0M1265.5 834.9V835.0M1265.5 839.0V839.1M1265.5 846.2V846.3M1265.5 852.3V852.3M1265.5 860.1V860.1M1265.5 863.4V863.5M1265.5 873.0V873.1M1265.5 880.1V880.2M1265.5 887.4V887.5M1265.5 895.3V895.3M1265.5 899.8V899.8M1265.5 910.2V910.3M1265.5 918.6V918.7M1265.5 921.8V921.8M1265.5 925.6V925.6M1265.5 932.1V932.2M1265.5 935.2V935.3M1266.5 793.4V831.2M1266.5 843.6V843.6M1266.5 853.6V853.7M1266.5 856.7V856.8M1266.5 860.9V860.9M1266.5 869.9V870.0M1266.5 877.7V877.7M1266.5 892.4V892.5M1266.5 898.0V898.1M1266.5 904.0V904.1M1266.5 911.6V911.6M1266.5 914.8V914.8M1266.5 920.3V920.3M1266.5 928.5V928.6M1267.5 794.4V838.0M1267.5 841.5V841.6M1267.5 847.5V847.6M1267.5 850.8V850.9M1267.5 854.8V854.8M1267.5 864.7V864.7M1267.5 870.2V870.2M1267.5 875.6V875.7M1267.5 879.5V879.5M1267.5 884.0V884.0M1267.5 888.2V888.3M1267.5 894.7V894.8M1267.5 898.8V898.9M1267.5 903.6V903.7M1267.5 907.6V907.7M1267.5 912.9V912.9M1267.5 916.6V916.6M1267.5 921.4V921.5M1268.5 819.2V841.4M1268.5 849.8V849.9M1268.5 857.1V857.2M1268.5 861.8V861.8M1268.5 865.5V865.6M1268.5 871.7V871.7M1268.5 876.3V876.4M1268.5 884.1V884.1M1268.5 889.2V889.3M1268.5 893.4V893.4M1268.5 896.6V896.7M1268.5 907.4V907.4M1268.5 913.6V913.7M1269.5 825.9V857.5M1269.5 870.3V870.3M1269.5 877.5V877.5M1269.5 883.9V884.0M1269.5 887.6V887.7M1269.5 891.9V891.9M1269.5 896.7V896.7M1269.5 900.6V900.7M1269.5 904.6V904.6M1269.5 908.5V908.6M1270.5 841.6V879.9M1270.5 834.0V834.0M1270.5 828.8V828.9M1270.5 822.8V822.9M1270.5 818.6V818.6M1270.5 814.5V814.5M1270.5 803.9V804.0M1270.5 891.3V891.3M1270.5 900.5V900.6M1270.5 904.7V904.8M1270.5 909.4V909.4M1270.5 912.4V912.5M1270.5 924.1V924.2M1270.5 929.6V929.6M1271.5 860.3V893.9M1271.5 855.8V855.9M1271.5 852.6V852.6M1271.5 845.5V845.5M1271.5 839.4V839.4M1271.5 836.3V836.4M1271.5 831.3V831.3M1271.5 822.1V822.2M1271.5 817.4V817.4M1271.5 814.3V814.3M1271.5 806.1V806.1M1271.5 900.7V900.8M1271.5 906.1V906.1M1271.5 913.6V913.6M1271.5 925.7V925.8M1271.5 930.3V930.3M1271.5 946.4V946.5M1271.5 954.1V954.2M1271.5 957.6V957.6M1272.5 838.9V876.9M1272.5 835.1V835.2M1272.5 829.5V829.6M1272.5 825.6V825.6M1272.5 821.0V821.0M1272.5 814.7V814.7M1272.5 809.7V809.8M1272.5 805.7V805.8M1272.5 880.5V880.6M1272.5 883.8V883.9M1272.5 887.2V887.2M1272.5 890.3V890.4M1272.5 895.8V895.9M1272.5 903.7V903.8M1272.5 913.5V913.6M1272.5 920.4V920.4M1272.5 927.1V927.2M1272.5 931.6V931.6M1272.5 938.8V938.8M1272.5 942.0V942.0M1272.5 951.8V951.8M1273.5 823.4V858.0M1273.5 818.6V818.6M1273.5 815.1V815.2M1274.5 818.2V852.7M1274.5 857.0V857.1M1275.5 832.3V857.7M1275.5 860.8V860.9M1275.5 870.8V870.8M1275.5 874.8V874.9M1275.5 878.0V878.1M1275.5 883.1V883.1M1275.5 886.6V886.7M1275.5 890.2V890.2M1275.5 894.9V894.9M1275.5 904.4V904.5M1275.5 908.9V909.0M1275.5 914.9V915.0M1275.5 921.9V922.0M1275.5 926.5V926.6M1275.5 929.9V930.0M1276.5 823.8V845.5M1276.5 849.8V849.8M1276.5 852.9V852.9M1276.5 859.4V859.5M1276.5 863.4V863.4M1276.5 872.8V872.9M1276.5 882.3V882.4M1276.5 884.5V884.5M1277.5 815.3V839.0M1277.5 843.0V843.1M1277.5 847.2V847.2M1277.5 851.4V851.4M1277.5 860.3V860.4M1277.5 867.6V867.7M1277.5 874.9V875.0M1277.5 881.0V881.0M1277.5 884.2V884.3M1277.5 888.3V888.3M1277.5 906.9V907.0M1277.5 916.4V916.4M1278.5 805.8V833.3M1278.5 840.4V840.4M1278.5 843.6V843.6M1278.5 848.9V849.0M1278.5 853.5V853.5M1278.5 856.8V856.8M1278.5 861.9V861.9M1278.5 866.9V867.0M1278.5 872.7V872.7M1278.5 881.1V881.1M1278.5 887.2V887.2M1278.5 895.7V895.8M1278.5 899.7V899.7M1278.5 906.1V906.2M1278.5 909.5V909.5M1278.5 915.2V915.2M1279.5 835.8V869.6M1279.5 831.4V831.4M1279.5 822.4V822.4M1279.5 816.9V816.9M1279.5 811.4V811.5M1279.5 808.1V808.1M1279.5 805.8V805.8M1279.5 872.9V873.0M1279.5 878.4V878.4M1279.5 882.4V882.5M1279.5 886.6V886.7M1279.5 891.6V891.6M1279.5 897.8V897.8M1279.5 903.0V903.0M1279.5 908.0V908.0M1279.5 916.2V916.2M1279.5 920.9V921.0M1279.5 926.6V926.7M1279.5 931.5V931.6M1279.5 935.9V936.0M1279.5 939.5V939.6M1279.5 945.0V945.1M1279.5 949.9V949.9M1279.5 952.3V952.4M1280.5 939.6V978.5M1280.5 936.5V936.6M1280.5 928.5V928.6M1280.5 925.1V925.1M1280.5 917.6V917.6M1280.5 910.4V910.5M1280.5 904.7V904.7M1280.5 897.1V897.1M1280.5 886.0V886.1M1280.5 880.5V880.5M1280.5 874.4V874.4M1280.5 869.8V869.9M1280.5 865.7V865.7M1280.5 859.1V859.2M1280.5 855.3V855.3M1280.5 846.0V846.1M1280.5 841.0V841.0M1280.5 828.7V828.8M1280.5 826.4V826.5M1281.5 956.8V991.6M1281.5 947.8V947.9M1281.5 937.4V937.4M1281.5 934.3V934.3M1281.5 930.1V930.1M1281.5 926.8V926.9M1281.5 920.6V920.6M1281.5 915.5V915.6M1281.5 906.5V906.5M1281.5 893.8V893.8M1281.5 887.7V887.8M1281.5 880.4V880.5M1281.5 876.4V876.4M1281.5 872.6V872.6M1281.5 869.5V869.5M1281.5 860.1V860.2M1281.5 853.9V854.0M1281.5 850.8V850.8M1281.5 848.4V848.5M1282.5 951.6V994.3M1282.5 946.0V946.0M1282.5 937.7V937.7M1282.5 927.8V927.9M1282.5 922.1V922.1M1282.5 914.5V914.6M1282.5 909.2V909.2M1282.5 903.0V903.1M1282.5 898.9V899.0M1282.5 895.7V895.7M1282.5 890.3V890.3M1282.5 877.6V877.7M1282.5 873.7V873.7M1283.5 955.3V974.7M1283.5 944.1V944.1M1283.5 940.3V940.3M1283.5 929.9V930.0M1283.5 925.4V925.5M1283.5 922.2V922.3M1283.5 919.0V919.0M1283.5 915.7V915.7M1283.5 909.0V909.0M1283.5 904.3V904.3M1283.5 901.7V901.7M1284.5 953.6V993.2M1284.5 949.2V949.3M1284.5 945.7V945.7M1284.5 938.0V938.0M1284.5 931.9V932.0M1284.5 928.5V928.5M1284.5 925.4V925.4M1284.5 996.8V996.9M1284.5 1000.3V1000.3M1285.5 958.4V992.8M1285.5 955.0V955.0M1285.5 942.7V942.8M1285.5 937.5V937.6M1285.5 929.5V929.5M1285.5 925.9V925.9M1285.5 998.4V998.5M1285.5 1003.4V1003.4M1286.5 956.2V995.6M1286.5 950.9V951.0M1286.5 947.8V947.8M1286.5 999.0V999.0M1286.5 1002.6V1002.7M1286.5 1006.7V1006.7M1286.5 1008.8V1008.8M1287.5 959.5V981.0M1287.5 955.2V955.3M1287.5 951.5V951.6M1287.5 947.9V947.9M1287.5 944.8V944.8M1287.5 939.2V939.2M1287.5 935.5V935.6M1287.5 931.2V931.2M1288.5 964.4V991.0M1288.5 960.8V960.9M1288.5 955.7V955.8M1288.5 950.8V950.9M1288.5 947.2V947.3M1288.5 940.1V940.2M1288.5 933.5V933.5M1288.5 928.6V928.7M1289.5 971.3V1012.5M1289.5 965.0V965.1M1289.5 960.3V960.4M1289.5 957.3V957.3M1289.5 949.7V949.7M1289.5 946.0V946.1M1289.5 934.6V934.7M1289.5 930.8V930.8M1289.5 926.0V926.0M1289.5 921.9V922.0M1289.5 1016.4V1016.4M1289.5 1022.3V1022.3M1289.5 1025.3V1025.3M1290.5 969.2V1000.1M1290.5 951.0V951.0M1290.5 945.5V945.5M1290.5 938.2V938.2M1290.5 934.4V934.4M1290.5 930.4V930.4M1290.5 927.2V927.3M1290.5 920.2V920.3M1290.5 916.3V916.3M1290.5 907.7V907.8M1290.5 903.9V903.9M1290.5 1006.2V1006.2M1290.5 1015.7V1015.7M1290.5 1019.2V1019.2M1290.5 1024.9V1025.0M1291.5 951.6V997.3M1291.5 940.6V940.6M1291.5 934.9V934.9M1291.5 930.6V930.6M1291.5 927.5V927.6M1291.5 923.5V923.6M1291.5 918.3V918.4M1291.5 914.8V914.8M1291.5 910.7V910.8M1291.5 905.7V905.8M1291.5 901.2V901.3M1291.5 897.5V897.5M1291.5 893.8V893.9M1291.5 889.0V889.0M1291.5 886.5V886.6M1291.5 1000.5V1000.5M1291.5 1010.9V1011.0M1292.5 911.5V954.7M1292.5 907.9V908.0M1292.5 891.2V891.3M1292.5 885.0V885.1M1292.5 881.5V881.5M1292.5 877.9V878.0M1292.5 871.0V871.0M1292.5 957.7V957.8M1292.5 966.6V966.6M1292.5 976.1V976.1M1292.5 982.2V982.3M1292.5 993.2V993.2M1293.5 879.7V912.2M1293.5 874.1V874.2M1293.5 868.5V868.5M1293.5 863.9V864.0M1293.5 857.5V857.6M1293.5 854.6V854.7M1293.5 915.9V915.9M1293.5 919.9V919.9M1293.5 923.0V923.0M1293.5 929.7V929.7M1293.5 934.2V934.2M1293.5 938.7V938.8M1293.5 942.7V942.7M1293.5 950.1V950.2M1293.5 953.4V953.4M1293.5 963.3V963.4M1293.5 970.4V970.4M1293.5 974.7V974.7M1293.5 978.6V978.6M1294.5 864.1V898.8M1294.5 845.6V845.7M1294.5 840.8V840.8M1294.5 913.6V913.6M1294.5 917.3V917.3M1294.5 923.4V923.5M1294.5 928.5V928.6M1294.5 932.6V932.6M1294.5 940.2V940.2M1294.5 947.9V947.9M1294.5 952.8V952.9M1294.5 955.9V956.0M1294.5 968.8V968.8M1294.5 972.1V972.2M1295.5 850.5V885.6M1295.5 845.4V845.5M1295.5 841.7V841.8M1295.5 837.0V837.1M1295.5 833.0V833.1M1295.5 828.3V828.3M1295.5 892.0V892.0M1295.5 896.5V896.5M1295.5 904.3V904.4M1295.5 908.8V908.9M1295.5 920.9V921.0M1295.5 925.2V925.3M1295.5 931.5V931.5M1296.5 853.8V871.0M1296.5 850.7V850.8M1296.5 839.8V839.9M1296.5 836.5V836.5M1296.5 828.3V828.4M1296.5 824.9V824.9M1296.5 821.6V821.6M1297.5 829.8V872.2M1297.5 823.5V823.5M1297.5 818.3V818.3M1297.5 875.8V875.8M1297.5 878.9V878.9M1297.5 887.6V887.7M1297.5 894.9V894.9M1297.5 899.2V899.3M1297.5 903.2V903.3M1297.5 906.5V906.5M1297.5 915.0V915.1M1297.5 919.3V919.3M1297.5 924.9V925.0M1297.5 932.1V932.2M1297.5 936.9V937.0M1297.5 940.1V940.1M1297.5 949.2V949.3M1297.5 952.7V952.8M1297.5 955.8V955.9M1297.5 973.5V973.5M1297.5 976.0V976.1M1298.5 834.1V865.6M1298.5 830.6V830.6M1298.5 825.8V825.9M1298.5 822.2V822.3M1298.5 817.1V817.1M1298.5 868.7V868.8M1298.5 882.4V882.5M1298.5 887.9V887.9M1298.5 892.2V892.2M1298.5 896.3V896.3M1298.5 899.9V899.9M1298.5 903.5V903.5M1298.5 913.0V913.1M1298.5 917.2V917.3M1298.5 924.3V924.3M1298.5 931.0V931.0M1298.5 934.8V934.9M1298.5 940.6V940.7M1298.5 943.8V943.8M1298.5 955.8V955.9M1298.5 961.3V961.4M1298.5 964.8V964.9M1298.5 969.7V969.7M1298.5 974.9V975.0M1298.5 977.0V977.1M1299.5 864.5V910.4M1299.5 855.3V855.4M1299.5 847.3V847.4M1299.5 842.1V842.2M1299.5 836.7V836.7M1299.5 832.5V832.6M1299.5 829.1V829.2M1299.5 822.8V822.9M1299.5 820.6V820.7M1299.5 919.3V919.4M1299.5 923.9V924.0M1299.5 931.5V931.6M1299.5 937.8V937.9M1299.5 952.5V952.6M1299.5 956.2V956.3M1299.5 961.3V961.4M1299.5 966.7V966.8M1299.5 974.5V974.5M1299.5 978.4V978.5M1300.5 911.6V937.3M1300.5 905.7V905.7M1300.5 900.4V900.4M1300.5 896.4V896.4M1300.5 893.3V893.3M1300.5 886.4V886.5M1300.5 876.8V876.9M1300.5 866.5V866.6M1300.5 863.2V863.2M1300.5 859.3V859.3M1300.5 846.4V846.5M1300.5 836.2V836.2M1300.5 832.3V832.3M1301.5 945.0V965.1M1301.5 941.4V941.5M1301.5 937.1V937.1M1301.5 930.4V930.5M1301.5 922.2V922.3M1301.5 906.1V906.2M1301.5 900.4V900.4M1301.5 891.6V891.7M1301.5 886.9V887.0M1301.5 882.9V882.9M1301.5 879.5V879.6M1301.5 871.0V871.1M1301.5 866.8V866.8M1301.5 863.1V863.1M1301.5 859.5V859.5M1301.5 855.9V855.9M1301.5 852.1V852.2M1301.5 848.1V848.2M1301.5 839.2V839.3M1301.5 833.4V833.4M1301.5 830.6V830.7M1302.5 944.2V982.9M1302.5 933.6V933.6M1302.5 922.1V922.2M1302.5 914.1V914.1M1302.5 909.1V909.2M1302.5 905.8V905.9M1302.5 899.7V899.7M1302.5 896.2V896.3M1302.5 891.3V891.4M1302.5 886.9V886.9M1302.5 882.8V882.9M1302.5 879.2V879.3M1302.5 872.9V872.9M1302.5 869.0V869.0M1302.5 865.9V866.0M1302.5 862.3V862.3M1302.5 857.9V858.0M1302.5 852.4V852.4M1302.5 848.0V848.1M1302.5 845.0V845.0M1302.5 838.5V838.5M1302.5 835.0V835.1M1303.5 926.8V961.5M1303.5 917.3V917.4M1303.5 914.0V914.0M1303.5 910.7V910.7M1303.5 905.8V905.8M1303.5 893.7V893.7M1303.5 890.2V890.3M1303.5 882.1V882.1M1303.5 875.7V875.8M1303.5 872.2V872.2M1303.5 864.8V864.8M1303.5 856.0V856.1M1303.5 851.7V851.7M1303.5 847.3V847.3M1303.5 839.7V839.7M1303.5 832.4V832.5M1303.5 966.0V966.0M1303.5 972.0V972.1M1303.5 977.1V977.2M1303.5 981.2V981.2M1303.5 984.4V984.5M1304.5 892.5V925.0M1304.5 888.4V888.4M1304.5 881.0V881.1M1304.5 868.9V869.0M1304.5 862.8V862.8M1304.5 855.9V856.0M1304.5 850.8V850.9M1304.5 846.6V846.7M1304.5 841.3V841.4M1304.5 834.0V834.0M1304.5 830.8V830.8M1304.5 932.6V932.7M1304.5 937.7V937.8M1304.5 945.3V945.3M1304.5 956.3V956.3M1304.5 961.7V961.8M1304.5 972.5V972.5M1304.5 980.1V980.1M1304.5 983.9V984.0M1304.5 986.1V986.1M1305.5 855.8V881.4M1305.5 852.8V852.8M1305.5 849.5V849.6M1305.5 841.3V841.3M1305.5 834.4V834.5M1305.5 829.1V829.1M1306.5 876.9V902.6M1306.5 872.8V872.9M1306.5 868.6V868.7M1306.5 864.6V864.6M1306.5 860.6V860.6M1306.5 857.5V857.5M1306.5 846.8V846.8M1306.5 840.7V840.7M1307.5 916.3V941.9M1307.5 910.4V910.4M1307.5 906.6V906.6M1307.5 899.1V899.2M1307.5 889.6V889.6M1307.5 886.2V886.3M1307.5 882.4V882.5M1307.5 872.1V872.1M1307.5 866.4V866.5M1307.5 861.3V861.3M1308.5 933.2V966.9M1308.5 927.5V927.6M1308.5 922.1V922.1M1308.5 916.4V916.5M1308.5 912.0V912.1M1308.5 908.4V908.4M1308.5 900.7V900.7M1308.5 894.8V894.9M1308.5 891.2V891.3M1308.5 878.7V878.7M1309.5 929.8V969.7M1309.5 926.2V926.3M1309.5 922.4V922.4M1309.5 916.8V916.8M1309.5 912.8V912.9M1309.5 908.2V908.2M1309.5 903.0V903.0M1309.5 899.4V899.4M1309.5 896.9V896.9M1309.5 975.1V975.2M1309.5 988.9V988.9M1309.5 992.5V992.5M1310.5 925.8V962.6M1310.5 921.2V921.3M1310.5 915.8V915.9M1310.5 906.7V906.7M1310.5 901.9V901.9M1310.5 968.2V968.2M1310.5 976.5V976.5M1310.5 980.7V980.8M1310.5 984.6V984.6M1310.5 988.3V988.4M1310.5 993.2V993.2M1310.5 996.1V996.1M1311.5 940.6V978.7M1311.5 988.0V988.0M1311.5 991.3V991.4M1311.5 995.3V995.3M1312.5 956.5V980.6M1312.5 987.0V987.1M1312.5 990.0V990.0M1313.5 938.3V976.8M1313.5 935.1V935.2M1313.5 928.3V928.4M1313.5 923.8V923.8M1313.5 916.9V916.9M1313.5 989.7V989.7M1314.5 936.9V975.6M1314.5 930.4V930.5M1314.5 925.2V925.3M1314.5 920.5V920.6M1314.5 916.9V917.0M1314.5 913.4V913.5M1314.5 982.8V982.9M1314.5 988.4V988.4M1315.5 924.7V969.3M1315.5 921.6V921.7M1315.5 912.8V912.8M1315.5 909.7V909.7M1315.5 906.4V906.4M1315.5 897.9V898.0M1315.5 891.6V891.6M1315.5 888.3V888.3M1315.5 974.1V974.2M1315.5 977.4V977.4M1315.5 980.5V980.6M1315.5 984.3V984.3M1315.5 990.5V990.5M1316.5 916.1V949.7M1316.5 911.9V911.9M1316.5 906.0V906.0M1316.5 896.4V896.4M1316.5 892.3V892.4M1316.5 887.2V887.3M1316.5 881.5V881.5M1316.5 868.2V868.2M1316.5 863.9V863.9M1316.5 861.4V861.5M1316.5 957.9V958.0M1316.5 963.5V963.6M1316.5 968.1V968.1M1316.5 979.8V979.9M1316.5 989.3V989.3M1317.5 893.2V934.9M1317.5 888.6V888.6M1317.5 885.0V885.0M1317.5 874.3V874.3M1317.5 867.2V867.3M1317.5 863.5V863.5M1317.5 859.4V859.5M1317.5 856.4V856.4M1317.5 938.4V938.5M1317.5 951.3V951.4M1317.5 955.0V955.0M1317.5 959.5V959.5M1317.5 964.3V964.3M1317.5 968.0V968.1M1317.5 972.6V972.6M1317.5 977.1V977.2M1317.5 980.3V980.3M1317.5 983.8V983.9M1317.5 988.8V988.8M1317.5 995.2V995.3M1318.5 912.5V958.5M1318.5 909.2V909.2M1318.5 905.5V905.5M1318.5 894.0V894.1M1318.5 888.8V888.8M1318.5 883.8V883.8M1318.5 876.9V876.9M1318.5 866.5V866.5M1318.5 856.7V856.8M1318.5 853.7V853.7M1318.5 964.6V964.7M1318.5 968.7V968.7M1318.5 975.8V975.9M1318.5 979.5V979.5M1318.5 982.8V982.9M1318.5 986.1V986.2M1318.5 992.4V992.4M1318.5 997.6V997.6M1318.5 1001.2V1001.3M1318.5 1003.3V1003.3M1319.5 949.4V984.4M1319.5 945.2V945.3M1319.5 935.2V935.3M1319.5 921.2V921.2M1319.5 918.1V918.1M1319.5 911.7V911.8M1319.5 901.5V901.6M1319.5 887.1V887.2M1319.5 883.4V883.4M1319.5 880.0V880.1M1319.5 876.2V876.3M1319.5 873.0V873.0M1319.5 989.5V989.5M1319.5 994.3V994.3M1319.5 1000.3V1000.4M1319.5 1003.5V1003.5M1319.5 1009.8V1009.9M1320.5 934.4V973.6M1320.5 929.0V929.0M1320.5 924.5V924.6M1320.5 921.4V921.5M1320.5 917.1V917.2M1320.5 913.4V913.4M1320.5 908.0V908.0M1320.5 904.5V904.5M1320.5 897.5V897.6M1320.5 893.0V893.0M1320.5 977.4V977.4M1320.5 983.9V983.9M1320.5 991.0V991.0M1320.5 996.6V996.6M1320.5 1002.1V1002.1M1320.5 1008.0V1008.1M1321.5 921.2V954.2M1321.5 915.0V915.0M1321.5 911.2V911.3M1321.5 959.9V960.0M1321.5 965.8V965.8M1322.5 913.6V967.1M1323.5 917.2V963.6M1324.5 919.9V972.7M1325.5 924.9V1006.4M1326.5 923.2V1003.7M1327.5 925.2V997.1M1328.5 924.4V990.4M1329.5 933.2V983.7M1330.5 932.1V981.0M1331.5 936.2V971.9M1332.5 921.2V971.1M1333.5 918.5V969.8M1334.5 904.6V975.4M1335.5 890.8V974.3M1336.5 877.5V973.0M1337.5 876.6V973.0M1338.5 875.8V937.2M1339.5 878.0V949.8M1340.5 895.0V976.0M1341.5 912.0V977.0M1342.5 915.8V978.8M1343.5 934.5V973.2M1344.5 945.6V982.0M1345.5 915.8V984.8M1346.5 915.8V986.8M1347.5 914.0V989.7M1348.5 917.4V970.3M1349.5 910.5V986.6M1350.5 908.7V998.6M1351.5 914.3V1001.5M1352.5 944.0V1001.3M1353.5 926.5V999.2M1354.5 932.6V996.9M1355.5 935.4V997.1M1356.5 941.2V996.6M1357.5 947.4V997.2M1358.5 950.4V985.5M1359.5 938.6V989.0M1360.5 939.4V992.3M1361.5 937.0V999.6M1362.5 954.8V1000.0M1363.5 928.7V1000.2M1364.5 924.6V992.1M1365.5 924.2V1000.6M1366.5 942.7V998.1M1367.5 944.0V1001.0M1368.5 931.0V1002.5M1369.5 932.9V1005.5M1370.5 935.2V997.8M1371.5 938.7V999.8M1372.5 948.2V1014.5M1373.5 954.6V1017.5M1374.5 949.2V1018.1M1375.5 951.0V994.9M1376.5 949.0V1012.6M1377.5 959.0V1012.9M1378.5 947.8V1011.1M1379.5 955.4V1009.3M1380.5 941.0V1005.1M1381.5 937.1V1005.6M1382.5 929.4V1003.7M1383.5 921.7V999.7M1384.5 914.1V995.7M1385.5 910.6V991.7M1386.5 907.3V980.7M1387.5 905.5V967.9M1388.5 908.5V966.7M1389.5 911.5V965.4M1390.5 914.5V964.5M1391.5 914.6V963.9M1392.5 914.1V960.5M1393.5 913.4V959.7M1394.5 910.0V962.0M1395.5 906.6V961.3M1396.5 903.8V957.8M1397.5 908.4V954.3M1398.5 912.9V952.3M1399.5 917.5V953.8M1400.5 919.2V948.3M1401.5 920.7V956.8M1402.5 921.7V958.0M1403.5 921.1V958.2M1404.5 930.2V958.4M1405.5 919.7V958.6M1406.5 919.2V959.6M1407.5 919.5V960.7M1408.5 921.5V962.0M1409.5 921.1V964.3M1410.5 920.3V968.3M1411.5 921.4V972.3M1412.5 923.9V976.3M1413.5 926.4V977.5M1414.5 926.5V978.7M1415.5 936.9V975.7M1416.5 923.7V970.4M1417.5 922.8V965.2M1418.5 923.8V962.2M1419.5 934.3V961.2M1420.5 925.8V960.2M1421.5 926.7V960.7M1422.5 926.9V953.5M1423.5 927.1V962.3M1424.5 927.3V962.5M1425.5 926.8V961.8M1426.5 927.4V955.3M1427.5 925.3V960.5M1428.5 924.6V961.4M1429.5 925.3V966.1M1430.5 935.8V969.7M1431.5 926.7V970.5M1432.5 926.9V963.4M1433.5 924.7V965.2M1434.5 922.5V972.6M1435.5 920.3V971.6M1436.5 918.5V968.6M1437.5 920.7V965.6M1438.5 915.2V962.8M1439.5 913.9V963.6M1440.5 916.1V964.4M1441.5 926.2V965.2M1442.5 920.3V966.0M1443.5 922.2V966.7M1444.5 923.2V967.5M1445.5 924.2V965.9M1446.5 924.0V964.1M1447.5 923.0V962.3M1448.5 922.0V962.3M1449.5 923.5V958.0M1450.5 934.7V965.9M1451.5 927.5V967.6M1452.5 928.5V968.0M1453.5 928.1V968.4M1454.5 927.7V968.8M1455.5 927.3V968.2M1456.5 927.5V958.6M1457.5 935.0V966.2M1458.5 927.8V965.2M1459.5 928.0V964.9M1460.5 927.8V962.6M1461.5 932.6V960.9M1462.5 927.5V965.3" stroke="#1f77b4" stroke-width="5.5" stroke-linecap="round" fill="none"/>
<g fill="#1f77b4">
<circle cx="646.4" cy="683.6" r="2.75"/>
<circle cx="646.4" cy="689.4" r="2.75"/>
<circle cx="663.5" cy="699.3" r="2.75"/>
<circle cx="663.5" cy="715.3" r="2.75"/>
<circle cx="662.8" cy="721.0" r="2.75"/>
<circle cx="661.3" cy="733.3" r="2.75"/>
<circle cx="682.6" cy="701.3" r="2.75"/>
<circle cx="679.7" cy="707.2" r="2.75"/>
<circle cx="679.7" cy="710.2" r="2.75"/>
<circle cx="682.6" cy="721.5" r="2.75"/>
<circle cx="679.7" cy="724.6" r="2.75"/>
<circle cx="683.3" cy="733.3" r="2.75"/>
<circle cx="675.6" cy="737.2" r="2.75"/>
<circle cx="661.4" cy="917.4" r="2.75"/>
<circle cx="641.4" cy="921.5" r="2.75"/>
<circle cx="644.4" cy="939.2" r="2.75"/>
<circle cx="644.4" cy="956.4" r="2.75"/>
<circle cx="684.3" cy="943.0" r="2.75"/>
<circle cx="684.3" cy="950.3" r="2.75"/>
<circle cx="424.0" cy="792.0" r="2.75"/>
<circle cx="429.3" cy="786.7" r="2.75"/>
<circle cx="464.9" cy="814.6" r="2.75"/>
<circle cx="471.3" cy="810.4" r="2.75"/>
<circle cx="503.3" cy="758.6" r="2.75"/>
<circle cx="516.1" cy="812.5" r="2.75"/>
<circle cx="465.4" cy="966.0" r="2.75"/>
<circle cx="465.4" cy="974.6" r="2.75"/>
<circle cx="873.3" cy="597.0" r="2.75"/>
<circle cx="882.3" cy="837.2" r="2.75"/>
<circle cx="882.3" cy="831.5" r="2.75"/>
<circle cx="873.3" cy="785.8" r="2.75"/>
<circle cx="854.1" cy="674.6" r="2.75"/>
<circle cx="932.2" cy="702.8" r="2.75"/>
<circle cx="932.2" cy="709.0" r="2.75"/>
<circle cx="965.5" cy="636.1" r="2.75"/>
<circle cx="991.6" cy="681.0" r="2.75"/>
<circle cx="991.6" cy="688.0" r="2.75"/>
<circle cx="991.6" cy="697.0" r="2.75"/>
<circle cx="991.6" cy="706.0" r="2.75"/>
<circle cx="1246.6" cy="753.7" r="2.75"/>
<circle cx="1246.6" cy="762.0" r="2.75"/>
<circle cx="1219.1" cy="862.7" r="2.75"/>
<circle cx="1271.0" cy="905.0" r="2.75"/>
<circle cx="1272.5" cy="916.0" r="2.75"/>
<circle cx="1273.0" cy="929.0" r="2.75"/>
<circle cx="1271.5" cy="941.0" r="2.75"/>
<circle cx="1274.0" cy="953.0" r="2.75"/>
<circle cx="1272.0" cy="964.0" r="2.75"/>
<circle cx="1276.5" cy="922.0" r="2.75"/>
<circle cx="1277.0" cy="946.0" r="2.75"/>
<circle cx="123.5" cy="884.5" r="2.75"/>
<circle cx="133.5" cy="947.5" r="2.75"/>
<circle cx="154.5" cy="890.1" r="2.75"/>
<circle cx="197.5" cy="864.9" r="2.75"/>
<circle cx="199.5" cy="865.9" r="2.75"/>
<circle cx="204.5" cy="975.8" r="2.75"/>
<circle cx="224.5" cy="873.3" r="2.75"/>
<circle cx="228.5" cy="990.4" r="2.75"/>
<circle cx="242.5" cy="886.4" r="2.75"/>
<circle cx="247.5" cy="880.8" r="2.75"/>
<circle cx="248.5" cy="970.0" r="2.75"/>
<circle cx="249.5" cy="967.0" r="2.75"/>
<circle cx="260.5" cy="960.1" r="2.75"/>
<circle cx="276.5" cy="863.4" r="2.75"/>
<circle cx="282.5" cy="1004.8" r="2.75"/>
<circle cx="290.5" cy="952.3" r="2.75"/>
<circle cx="307.5" cy="849.8" r="2.75"/>
<circle cx="312.5" cy="930.1" r="2.75"/>
<circle cx="314.5" cy="812.3" r="2.75"/>
<circle cx="319.5" cy="817.0" r="2.75"/>
<circle cx="326.5" cy="781.1" r="2.75"/>
<circle cx="328.5" cy="771.7" r="2.75"/>
<circle cx="329.5" cy="776.3" r="2.75"/>
<circle cx="331.5" cy="773.7" r="2.75"/>
<circle cx="364.5" cy="936.5" r="2.75"/>
<circle cx="365.5" cy="839.3" r="2.75"/>
<circle cx="368.5" cy="956.4" r="2.75"/>
<circle cx="398.5" cy="894.3" r="2.75"/>
<circle cx="422.5" cy="876.6" r="2.75"/>
<circle cx="426.5" cy="886.1" r="2.75"/>
<circle cx="435.5" cy="917.9" r="2.75"/>
<circle cx="449.5" cy="920.8" r="2.75"/>
<circle cx="461.5" cy="830.7" r="2.75"/>
<circle cx="468.5" cy="946.4" r="2.75"/>
<circle cx="473.5" cy="946.6" r="2.75"/>
<circle cx="487.5" cy="793.1" r="2.75"/>
<circle cx="508.5" cy="972.9" r="2.75"/>
<circle cx="514.5" cy="963.7" r="2.75"/>
<circle cx="527.5" cy="958.2" r="2.75"/>
<circle cx="537.5" cy="849.4" r="2.75"/>
<circle cx="538.5" cy="844.3" r="2.75"/>
<circle cx="541.5" cy="919.2" r="2.75"/>
<circle cx="550.5" cy="934.5" r="2.75"/>
<circle cx="551.5" cy="926.7" r="2.75"/>
<circle cx="552.5" cy="920.7" r="2.75"/>
<circle cx="554.5" cy="840.2" r="2.75"/>
<circle cx="555.5" cy="825.5" r="2.75"/>
<circle cx="577.5" cy="882.1" r="2.75"/>
<circle cx="600.5" cy="800.7" r="2.75"/>
<circle cx="608.5" cy="867.3" r="2.75"/>
<circle cx="616.5" cy="767.9" r="2.75"/>
<circle cx="631.5" cy="762.0" r="2.75"/>
<circle cx="641.5" cy="713.2" r="2.75"/>
<circle cx="664.5" cy="731.2" r="2.75"/>
<circle cx="668.5" cy="910.5" r="2.75"/>
<circle cx="672.5" cy="908.7" r="2.75"/>
<circle cx="684.5" cy="935.9" r="2.75"/>
<circle cx="695.5" cy="939.1" r="2.75"/>
<circle cx="697.5" cy="927.3" r="2.75"/>
<circle cx="704.5" cy="853.8" r="2.75"/>
<circle cx="706.5" cy="928.2" r="2.75"/>
<circle cx="707.5" cy="928.4" r="2.75"/>
<circle cx="708.5" cy="833.8" r="2.75"/>
<circle cx="716.5" cy="837.2" r="2.75"/>
<circle cx="734.5" cy="898.6" r="2.75"/>
<circle cx="738.5" cy="795.1" r="2.75"/>
<circle cx="744.5" cy="799.1" r="2.75"/>
<circle cx="752.5" cy="792.7" r="2.75"/>
<circle cx="762.5" cy="841.5" r="2.75"/>
<circle cx="768.5" cy="755.5" r="2.75"/>
<circle cx="769.5" cy="762.5" r="2.75"/>
<circle cx="787.5" cy="791.5" r="2.75"/>
<circle cx="831.5" cy="778.4" r="2.75"/>
<circle cx="833.5" cy="780.1" r="2.75"/>
<circle cx="836.5" cy="788.0" r="2.75"/>
<circle cx="847.5" cy="630.3" r="2.75"/>
<circle cx="855.5" cy="673.4" r="2.75"/>
<circle cx="862.5" cy="825.8" r="2.75"/>
<circle cx="868.5" cy="630.3" r="2.75"/>
<circle cx="871.5" cy="764.0" r="2.75"/>
<circle cx="875.5" cy="615.3" r="2.75"/>
<circle cx="886.5" cy="739.2" r="2.75"/>
<circle cx="891.5" cy="650.1" r="2.75"/>
<circle cx="895.5" cy="785.7" r="2.75"/>
<circle cx="898.5" cy="768.3" r="2.75"/>
<circle cx="931.5" cy="900.0" r="2.75"/>
<circle cx="937.5" cy="942.8" r="2.75"/>
<circle cx="940.5" cy="916.0" r="2.75"/>
<circle cx="944.5" cy="838.4" r="2.75"/>
<circle cx="954.5" cy="721.5" r="2.75"/>
<circle cx="963.5" cy="705.6" r="2.75"/>
<circle cx="968.5" cy="735.6" r="2.75"/>
<circle cx="973.5" cy="685.8" r="2.75"/>
<circle cx="976.5" cy="682.2" r="2.75"/>
<circle cx="979.5" cy="846.3" r="2.75"/>
<circle cx="983.5" cy="851.3" r="2.75"/>
<circle cx="984.5" cy="854.8" r="2.75"/>
<circle cx="985.5" cy="735.4" r="2.75"/>
<circle cx="1002.5" cy="750.3" r="2.75"/>
<circle cx="1008.5" cy="807.3" r="2.75"/>
<circle cx="1012.5" cy="818.0" r="2.75"/>
<circle cx="1021.5" cy="742.1" r="2.75"/>
<circle cx="1025.5" cy="714.4" r="2.75"/>
<circle cx="1027.5" cy="872.7" r="2.75"/>
<circle cx="1035.5" cy="712.5" r="2.75"/>
<circle cx="1056.5" cy="845.6" r="2.75"/>
<circle cx="1058.5" cy="975.9" r="2.75"/>
<circle cx="1063.5" cy="996.4" r="2.75"/>
<circle cx="1078.5" cy="877.9" r="2.75"/>
<circle cx="1079.5" cy="869.8" r="2.75"/>
<circle cx="1090.5" cy="795.4" r="2.75"/>
<circle cx="1091.5" cy="935.1" r="2.75"/>
<circle cx="1092.5" cy="938.3" r="2.75"/>
<circle cx="1098.5" cy="801.1" r="2.75"/>
<circle cx="1104.5" cy="819.1" r="2.75"/>
<circle cx="1106.5" cy="934.5" r="2.75"/>
<circle cx="1122.5" cy="793.8" r="2.75"/>
<circle cx="1131.5" cy="952.0" r="2.75"/>
<circle cx="1133.5" cy="956.0" r="2.75"/>
<circle cx="1143.5" cy="978.1" r="2.75"/>
<circle cx="1150.5" cy="870.5" r="2.75"/>
<circle cx="1162.5" cy="977.9" r="2.75"/>
<circle cx="1172.5" cy="973.8" r="2.75"/>
<circle cx="1173.5" cy="968.0" r="2.75"/>
<circle cx="1174.5" cy="992.7" r="2.75"/>
<circle cx="1187.5" cy="846.4" r="2.75"/>
<circle cx="1188.5" cy="955.5" r="2.75"/>
<circle cx="1192.5" cy="940.1" r="2.75"/>
<circle cx="1195.5" cy="938.0" r="2.75"/>
<circle cx="1197.5" cy="933.1" r="2.75"/>
<circle cx="1206.5" cy="971.2" r="2.75"/>
<circle cx="1209.5" cy="757.2" r="2.75"/>
<circle cx="1212.5" cy="722.2" r="2.75"/>
<circle cx="1220.5" cy="843.3" r="2.75"/>
<circle cx="1226.5" cy="852.7" r="2.75"/>
<circle cx="1237.5" cy="946.4" r="2.75"/>
<circle cx="1238.5" cy="920.2" r="2.75"/>
<circle cx="1251.5" cy="924.9" r="2.75"/>
<circle cx="1260.5" cy="815.4" r="2.75"/>
<circle cx="1267.5" cy="926.4" r="2.75"/>
<circle cx="1272.5" cy="795.6" r="2.75"/>
<circle cx="1275.5" cy="802.2" r="2.75"/>
<circle cx="1281.5" cy="997.5" r="2.75"/>
<circle cx="1282.5" cy="868.8" r="2.75"/>
<circle cx="1285.5" cy="1021.4" r="2.75"/>
<circle cx="1286.5" cy="1022.8" r="2.75"/>
<circle cx="1289.5" cy="1030.3" r="2.75"/>
<circle cx="1297.5" cy="806.3" r="2.75"/>
<circle cx="1298.5" cy="810.2" r="2.75"/>
<circle cx="1303.5" cy="828.5" r="2.75"/>
<circle cx="1304.5" cy="999.0" r="2.75"/>
<circle cx="1305.5" cy="992.7" r="2.75"/>
<circle cx="1313.5" cy="1009.0" r="2.75"/>
<circle cx="1316.5" cy="997.0" r="2.75"/>
<circle cx="1325.5" cy="1011.8" r="2.75"/>
<circle cx="1348.5" cy="906.2" r="2.75"/>
<circle cx="1351.5" cy="1009.1" r="2.75"/>
<circle cx="1359.5" cy="1005.2" r="2.75"/>
<circle cx="1389.5" cy="907.5" r="2.75"/>
<circle cx="1390.5" cy="909.6" r="2.75"/>
<circle cx="1396.5" cy="965.1" r="2.75"/>
<circle cx="1401.5" cy="915.9" r="2.75"/>
<circle cx="1404.5" cy="962.1" r="2.75"/>
<circle cx="1419.5" cy="920.7" r="2.75"/>
<circle cx="1420.5" cy="919.0" r="2.75"/>
<circle cx="1425.5" cy="965.8" r="2.75"/>
<circle cx="1449.5" cy="974.0" r="2.75"/>
<circle cx="1450.5" cy="971.1" r="2.75"/>
<circle cx="1451.5" cy="972.3" r="2.75"/>
</g>
<polyline points="119.8,918.3 121.7,901.2 124.2,926.5 126.9,941.5 129.7,927.8 133.1,923.7 136.5,923.0 139.9,927.8 142.6,934.6 145.4,939.4 148.1,939.4 150.1,924.4 152.2,935.3 155.6,916.2 157.6,927.8 160.4,907.3 161.7,915.5 163.4,893.7 165.1,926.5 166.5,940.1 168.6,946.9 170.6,910.1 173.6,897.1 176.1,926.5 178.1,930.5 180.8,942.8 182.9,935.3 184.9,962.6 187.7,931.9 191.1,950.3 193.8,921.7 195.6,941.5 197.9,897.1 200.6,906.0 202.7,893.0 204.5,937.4 205.4,955.1 207.5,945.6 209.9,912.8 212.9,941.5 215.7,920.3 217.0,931.9 219.1,914.8 221.1,946.9 223.8,925.1 225.9,937.4 227.9,959.9 231.1,925.1 233.4,930.5 234.8,927.1 236.8,932.6 239.5,924.4 243.0,929.2 246.4,944.9 249.1,918.3 251.2,899.1 253.9,910.1 255.2,908.0 257.3,918.9 258.7,906.0 260.7,922.4 262.8,919.6 265.5,946.2 268.2,926.5 270.9,903.2 273.0,916.9 275.0,892.3 277.8,918.3 279.8,934.6 281.9,961.9 284.2,966.0 286.0,931.9 287.5,909.3 290.7,896.5 293.2,891.2 295.4,876.2 297.5,890.1 299.2,877.3 301.3,909.3 304.1,919.9 306.7,905.0 308.8,892.2 310.5,890.1 313.1,829.3 315.8,869.8 318.4,860.2 320.1,857.0 322.7,867.7 325.4,830.4 327.3,828.2 329.1,834.6 331.2,804.8 333.3,803.7 335.4,798.4 338.0,814.4 340.8,822.9 342.5,806.9 345.0,845.3 347.6,862.4 349.3,849.6 351.4,842.1 354.0,884.8 356.8,864.5 358.9,860.2 361.0,865.6 364.2,885.8 365.9,884.8 368.5,905.0 370.0,910.4 371.3,904.0 373.4,913.6 374.9,907.2 377.5,925.3 380.2,906.1 381.9,879.4 383.4,842.1 384.9,859.2 387.3,861.3 390.3,836.8 393.0,857.0 396.2,856.0 398.8,847.4 400.1,852.8 402.2,832.5 404.8,866.6 407.3,874.1 410.1,849.6 413.3,844.2 415.8,838.9 417.6,842.1 419.7,834.6 422.5,830.4 425.0,851.7 427.2,843.2 429.3,840.0 431.8,875.2 434.6,879.4 436.7,872.0 439.9,857.0 442.1,868.8 443.8,869.8 445.3,882.6 446.8,876.2 448.5,886.9 450.6,860.2 452.7,857.0 454.2,847.4 457.5,889.3 459.6,893.6 462.4,881.8 464.5,897.8 467.1,892.5 470.3,871.2 473.0,870.1 476.0,885.0 478.8,880.8 482.0,824.2 483.7,825.3 486.3,856.2 488.0,858.4 490.1,830.6 492.7,875.4 495.4,836.0 498.0,844.5 501.2,859.4 503.3,829.6 505.0,876.5 506.5,928.7 510.8,887.2 512.9,889.3 515.0,886.1 517.8,897.8 520.4,878.6 522.5,893.6 524.6,875.4 526.8,906.3 528.9,917.0 532.1,889.3 534.2,892.5 535.9,888.2 537.9,892.5 539.6,876.5 541.7,889.3 544.5,874.4 547.0,906.3 548.7,906.3 551.9,868.0 556.6,866.9 559.8,868.0 563.0,869.0 566.9,842.4 569.9,853.0 573.3,826.4 575.8,827.4 578.0,831.7 581.2,828.5 583.3,826.4 584.8,829.6 586.5,824.2 588.6,845.6 590.8,846.6 594.0,810.4 597.2,860.5 599.3,856.2 602.1,825.3 604.0,837.0 606.7,825.3 608.9,832.8 611.0,825.3 613.8,808.2 616.3,808.2 618.5,817.8 621.7,800.8 623.8,808.2 626.8,811.0 629.5,830.6 631.8,822.5 634.6,799.5 637.6,854.8 641.0,808.7 642.9,806.4 645.7,784.5 649.1,817.9 651.0,824.8 652.6,817.9 655.3,777.6 658.3,819.0 660.6,804.1 662.5,799.5 665.2,806.4 667.6,822.5 669.9,838.6 672.2,851.3 674.9,811.0 676.8,836.3 678.4,805.2 680.7,824.8 682.5,820.2 684.8,857.1 686.4,838.6 688.3,857.1 690.6,877.8 692.2,889.3 695.7,869.7 698.0,883.6 700.3,884.7 702.6,902.0 705.1,881.3 707.4,893.9 709.5,908.9 711.3,859.4 713.0,808.7 715.9,790.2 718.3,769.5 720.1,768.3 722.2,804.1 723.3,824.8 726.3,823.7 728.6,831.7 730.9,831.7 733.2,847.9 736.0,852.5 738.3,827.1 740.6,823.7 743.6,836.3 745.9,839.8 748.2,822.5 750.5,811.0 752.4,866.3 754.0,902.0 755.8,859.4 757.4,815.6 759.7,797.1 762.0,789.1 764.3,804.1 767.3,802.9 770.1,794.8 773.6,790.2 777.0,769.5 779.3,751.1 782.1,758.0 784.4,767.2 787.4,762.6 789.7,746.4 792.7,763.1 795.1,763.1 796.8,735.6 799.1,776.3 801.5,754.7 803.9,761.9 807.0,750.0 809.9,760.7 813.5,750.0 816.6,740.4 819.5,752.3 821.9,766.7 824.3,747.6 826.2,752.3 827.8,740.4 829.7,748.8 831.9,735.6 833.8,742.8 835.5,735.6 837.4,741.6 839.8,714.1 842.9,702.1 845.3,681.8 847.0,726.0 848.6,742.8 850.5,771.5 852.2,826.5 854.1,738.0 856.0,728.4 857.7,730.8 859.4,747.6 861.3,794.2 863.7,726.0 866.1,690.2 868.5,674.6 871.6,677.0 874.0,683.0 876.1,706.9 878.0,715.3 879.7,659.1 881.6,728.4 884.0,695.0 885.9,692.6 887.6,680.6 890.0,699.8 891.9,699.8 894.5,725.9 897.4,727.4 899.7,721.6 901.7,740.4 903.2,702.8 906.1,731.7 908.1,775.2 909.0,836.1 911.3,841.9 913.3,836.1 915.4,839.0 917.1,772.3 919.1,721.6 920.6,766.5 922.6,870.9 924.1,908.6 925.8,841.9 927.8,798.4 929.9,801.3 931.6,737.5 933.6,812.9 935.7,856.4 937.4,879.6 940.0,841.9 942.3,772.3 944.3,737.5 946.7,749.1 948.7,754.9 951.0,783.9 952.5,731.7 954.5,662.2 956.8,673.8 958.8,670.9 961.2,678.1 963.5,672.3 965.5,668.0 967.8,685.4 970.4,694.1 972.8,749.1 974.2,824.5 976.2,731.7 978.6,699.9 980.0,772.3 981.4,839.0 983.5,827.4 984.9,839.0 986.7,772.3 987.8,839.0 989.6,783.9 991.0,730.3 992.5,812.9 993.9,882.5 995.9,841.9 998.0,789.7 999.7,766.5 1003.2,770.9 1006.7,766.5 1009.0,783.9 1011.9,781.0 1014.8,801.3 1016.0,805.2 1018.4,787.3 1020.4,796.3 1022.5,778.4 1025.5,835.1 1027.9,730.6 1030.3,724.6 1031.8,702.2 1033.9,793.3 1035.4,859.0 1037.5,915.7 1039.9,900.7 1042.8,924.6 1045.8,912.7 1049.4,945.5 1052.4,918.7 1055.4,876.9 1057.8,933.6 1060.7,939.6 1063.7,853.0 1066.7,826.1 1069.1,918.7 1071.8,921.6 1075.7,933.6 1078.7,941.0 1081.0,885.8 1084.0,856.0 1086.1,882.8 1088.2,873.9 1090.6,835.1 1093.0,832.1 1095.7,897.8 1098.1,909.7 1100.1,847.0 1102.5,888.8 1105.5,847.0 1107.9,832.1 1110.0,841.0 1112.1,897.8 1114.5,832.1 1116.9,882.8 1119.0,900.7 1121.0,859.0 1123.4,817.2 1126.4,841.0 1129.4,870.9 1131.8,927.6 1134.5,885.8 1136.9,876.9 1139.0,957.5 1141.3,918.7 1144.3,844.0 1146.6,968.7 1149.0,914.9 1151.3,932.8 1153.4,903.0 1156.4,885.1 1158.5,894.0 1160.9,926.9 1163.3,935.8 1165.4,959.7 1168.4,941.8 1171.3,876.1 1174.3,897.0 1176.4,932.8 1178.8,909.0 1181.2,917.9 1183.3,935.8 1185.4,903.0 1187.8,909.0 1190.7,861.2 1193.7,879.1 1196.7,882.1 1199.1,903.0 1202.1,932.8 1205.1,879.1 1208.1,828.4 1210.1,888.1 1211.6,789.6 1213.1,735.8 1215.2,777.6 1217.0,801.5 1218.2,783.6 1220.0,831.3 1222.1,765.7 1224.2,783.6 1226.0,747.8 1228.1,798.5 1230.1,792.5 1231.9,816.4 1234.9,747.8 1237.0,879.1 1239.1,786.6 1241.5,792.5 1244.5,795.5 1246.9,816.4 1250.4,849.3 1252.8,855.2 1255.8,932.8 1258.8,935.8 1260.9,885.1 1263.9,819.4 1266.3,807.5 1268.4,819.4 1271.3,879.1 1274.3,828.4 1275.3,836.5 1276.7,829.3 1278.4,810.2 1279.6,855.6 1280.0,951.3 1281.5,977.5 1283.1,971.6 1285.5,972.8 1287.2,975.2 1289.1,994.3 1291.5,975.2 1293.2,903.4 1295.1,870.0 1296.8,867.6 1298.2,837.7 1299.9,903.4 1301.1,963.2 1303.0,958.4 1304.7,903.4 1305.9,867.6 1307.1,927.3 1308.3,958.4 1310.2,939.3 1311.8,970.4 1313.7,956.0 1315.9,946.5 1317.8,910.6 1319.5,970.4 1321.4,939.3 1323.1,946.5 1325.5,975.2 1328.6,941.7 1331.0,956.0 1333.4,965.6 1335.7,927.3 1337.7,898.7 1339.3,946.5 1341.7,951.3 1344.1,963.2 1346.0,968.0 1348.4,925.0 1350.8,965.6 1353.2,951.3 1355.6,951.3 1358.0,970.4 1360.4,979.9 1362.8,972.8 1364.9,941.7 1366.8,958.4 1368.5,944.1 1370.9,1000.3 1373.3,963.2 1374.7,984.7 1376.4,965.6 1378.8,1003.8 1380.4,999.1 1382.9,976.4 1384.3,951.9 1385.9,930.0 1387.0,931.4 1388.6,949.8 1390.3,943.7 1392.5,954.6 1394.1,931.4 1395.5,919.8 1396.8,930.0 1398.5,934.8 1400.2,936.2 1403.0,944.4 1405.7,934.8 1407.1,936.8 1408.7,933.4 1410.2,950.5 1411.6,958.7 1413.2,958.0 1414.8,951.9 1417.0,936.2 1418.9,941.6 1420.7,940.3 1422.7,945.7 1424.4,948.4 1426.8,947.1 1429.2,936.8 1430.7,951.9 1431.6,957.3 1433.4,949.1 1435.0,947.8 1436.7,941.6 1438.0,945.0 1440.5,932.1 1442.1,943.7 1443.9,949.1 1445.9,943.7 1448.4,934.1 1450.3,945.7 1452.5,953.2 1454.8,950.5 1457.1,943.0 1459.3,948.4 1461.6,947.8 1463.7,947.8" stroke="#ff7f0e" stroke-width="2.3" stroke-linejoin="round" fill="none"/>
</g>
<rect x="1047.50" y="584.90" width="406.10" height="80.10" rx="2.8" ry="2.8" fill="#fff" fill-opacity="0.8" stroke="#ccc" stroke-opacity="0.8" stroke-width="1.4"/>
<circle cx="1073.4" cy="600.00" r="2.75" fill="#1f77b4"/>
<path d="M1053.2 638.20H1091.9" stroke="#ff7f0e" stroke-width="2.08" fill="none"/>
<text x="1106.60" y="606.00" font-size="20.10" text-anchor="start" textLength="98.5" lengthAdjust="spacingAndGlyphs">Raw Data</text>
<text x="1106.60" y="632.90" font-size="20.10" text-anchor="start" textLength="270.5" lengthAdjust="spacingAndGlyphs">Butterworth Filtered Data</text>
<text x="1106.60" y="654.10" font-size="20.10" text-anchor="start" textLength="338.5" lengthAdjust="spacingAndGlyphs">(N=6, Tc=3.3333 min, Type: low)</text>
<rect x="119.50" y="575.50" width="1343.00" height="479.00" fill="none" stroke="#000" stroke-width="1.11"/>
<path d="M119.50 1054.50v4.86M287.50 1054.50v4.86M455.50 1054.50v4.86M623.50 1054.50v4.86M791.50 1054.50v4.86M958.50 1054.50v4.86M1126.50 1054.50v4.86M1294.50 1054.50v4.86M119.50 630.50h-4.86M119.50 691.50h-4.86M119.50 753.00h-4.86M119.50 814.50h-4.86M119.50 875.50h-4.86M119.50 937.00h-4.86M119.50 998.50h-4.86" stroke="#000" stroke-width="1.11" fill="none"/>
<text x="53.90" y="112.40" font-size="23.60" text-anchor="start" textLength="54.3" lengthAdjust="spacingAndGlyphs">0.10</text>
<text x="53.90" y="209.40" font-size="23.60" text-anchor="start" textLength="54.3" lengthAdjust="spacingAndGlyphs">0.05</text>
<text x="53.90" y="305.40" font-size="23.60" text-anchor="start" textLength="54.3" lengthAdjust="spacingAndGlyphs">0.00</text>
<text x="36.60" y="402.40" font-size="23.60" text-anchor="start" textLength="71.6" lengthAdjust="spacingAndGlyphs">−0.05</text>
<text x="36.60" y="498.40" font-size="23.60" text-anchor="start" textLength="71.6" lengthAdjust="spacingAndGlyphs">−0.10</text>
<text x="38.80" y="638.40" font-size="23.60" text-anchor="start" textLength="69.4" lengthAdjust="spacingAndGlyphs">0.018</text>
<text x="38.80" y="699.40" font-size="23.60" text-anchor="start" textLength="69.4" lengthAdjust="spacingAndGlyphs">0.016</text>
<text x="38.80" y="760.90" font-size="23.60" text-anchor="start" textLength="69.4" lengthAdjust="spacingAndGlyphs">0.014</text>
<text x="38.80" y="822.40" font-size="23.60" text-anchor="start" textLength="69.4" lengthAdjust="spacingAndGlyphs">0.012</text>
<text x="38.80" y="883.40" font-size="23.60" text-anchor="start" textLength="69.4" lengthAdjust="spacingAndGlyphs">0.010</text>
<text x="38.80" y="944.90" font-size="23.60" text-anchor="start" textLength="69.4" lengthAdjust="spacingAndGlyphs">0.008</text>
<text x="38.80" y="1006.40" font-size="23.60" text-anchor="start" textLength="69.4" lengthAdjust="spacingAndGlyphs">0.006</text>
<text x="0.00" y="0.00" transform="translate(25.70,391.10) rotate(-90)" font-size="23.60" text-anchor="start" textLength="225.5" lengthAdjust="spacingAndGlyphs">Doppler Shift [Hz]</text>
<text x="0.00" y="0.00" transform="translate(27.70,919.20) rotate(-90)" font-size="23.60" text-anchor="start" textLength="208.6" lengthAdjust="spacingAndGlyphs">Peak Voltage [V]</text>
<text x="119.90" y="30.00" font-size="27.80" text-anchor="start" textLength="39.6" lengthAdjust="spacingAndGlyphs">(a)</text>
<text x="119.90" y="566.80" font-size="27.80" text-anchor="start" textLength="40.6" lengthAdjust="spacingAndGlyphs">(b)</text>
<text x="635.20" y="30.20" font-size="27.80" text-anchor="start" textLength="300.4" lengthAdjust="spacingAndGlyphs">10.0 MHz N0000013</text>
<text x="767.00" y="1157.60" font-size="23.60" text-anchor="start" textLength="48.0" lengthAdjust="spacingAndGlyphs">UTC</text>
<text x="0.00" y="0.00" transform="translate(116.10,1078.60) rotate(-30)" font-size="23.60" text-anchor="end" textLength="110.3" lengthAdjust="spacingAndGlyphs">07-14 00</text>
<text x="0.00" y="0.00" transform="translate(284.10,1078.60) rotate(-30)" font-size="23.60" text-anchor="end" textLength="110.3" lengthAdjust="spacingAndGlyphs">07-14 03</text>
<text x="0.00" y="0.00" transform="translate(452.10,1078.60) rotate(-30)" font-size="23.60" text-anchor="end" textLength="110.3" lengthAdjust="spacingAndGlyphs">07-14 06</text>
<text x="0.00" y="0.00" transform="translate(620.10,1078.60) rotate(-30)" font-size="23.60" text-anchor="end" textLength="110.3" lengthAdjust="spacingAndGlyphs">07-14 09</text>
<text x="0.00" y="0.00" transform="translate(788.10,1078.60) rotate(-30)" font-size="23.60" text-anchor="end" textLength="110.3" lengthAdjust="spacingAndGlyphs">07-14 12</text>
<text x="0.00" y="0.00" transform="translate(955.10,1078.60) rotate(-30)" font-size="23.60" text-anchor="end" textLength="110.3" lengthAdjust="spacingAndGlyphs">07-14 15</text>
<text x="0.00" y="0.00" transform="translate(1123.10,1078.60) rotate(-30)" font-size="23.60" text-anchor="end" textLength="110.3" lengthAdjust="spacingAndGlyphs">07-14 18</text>
<text x="0.00" y="0.00" transform="translate(1291.10,1078.60) rotate(-30)" font-size="23.60" text-anchor="end" textLength="110.3" lengthAdjust="spacingAndGlyphs">07-14 21</text>
</svg></body></html>
